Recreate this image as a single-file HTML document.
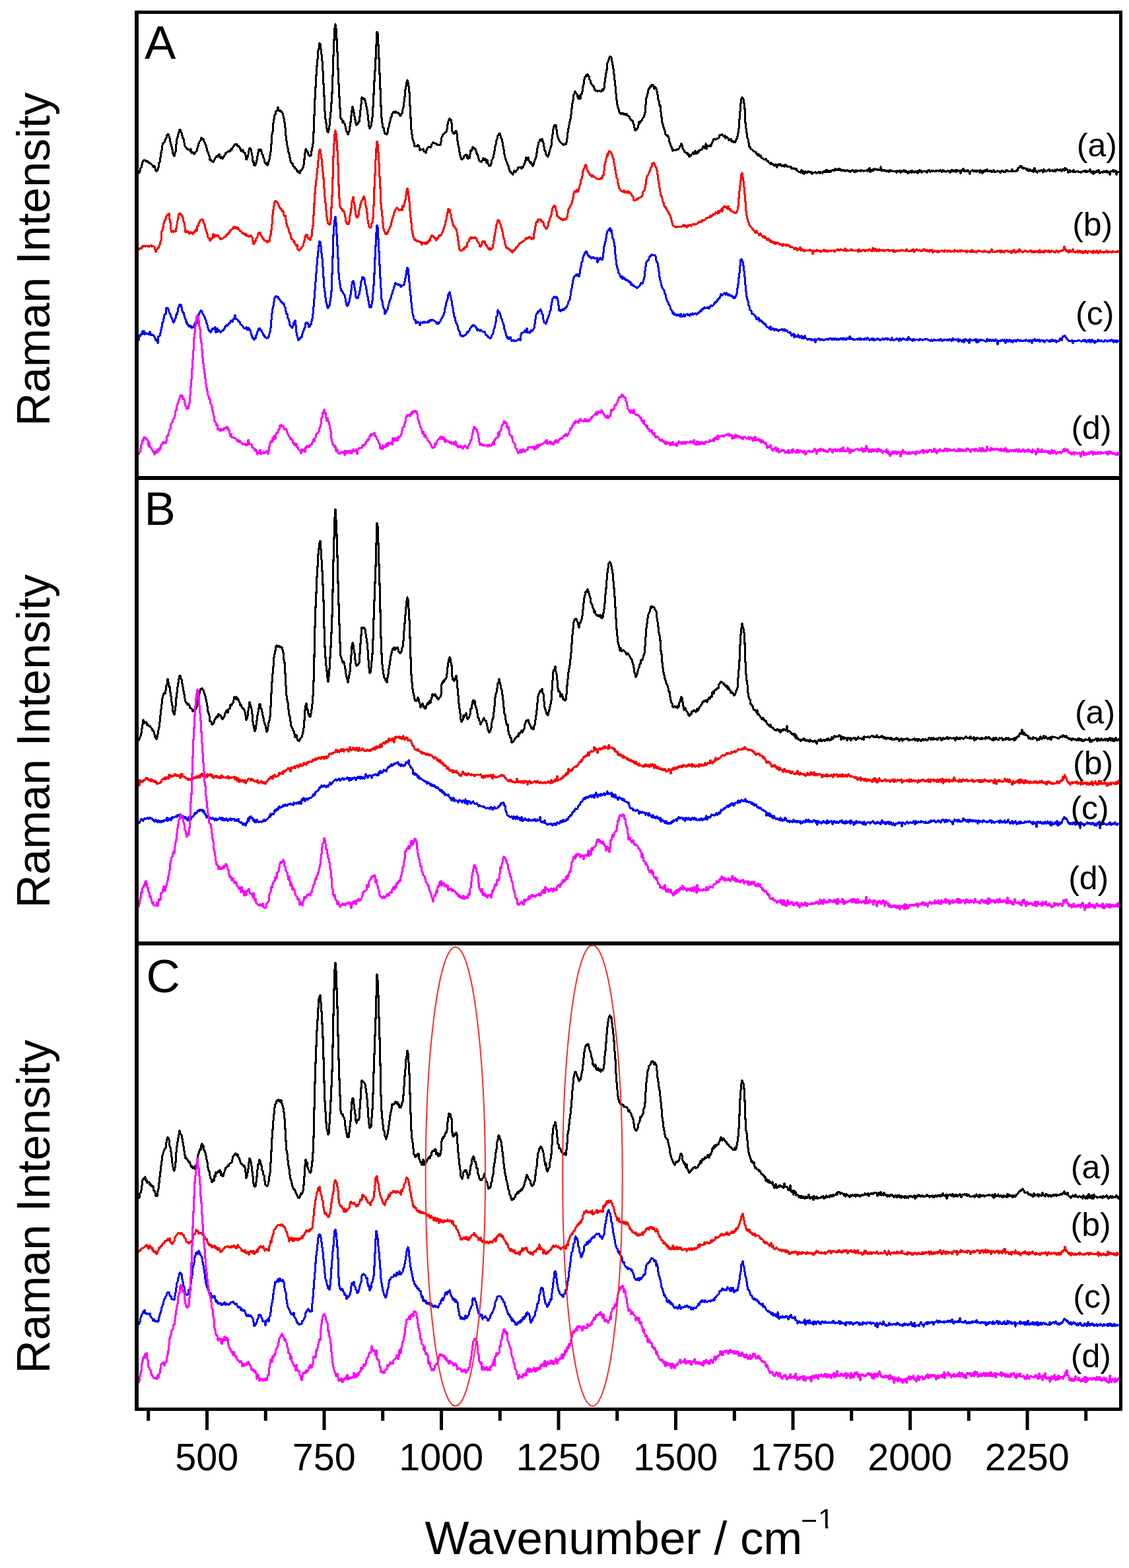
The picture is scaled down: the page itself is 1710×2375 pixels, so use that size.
<!DOCTYPE html>
<html><head><meta charset="utf-8"><title>Raman spectra</title><style>html,body{margin:0;padding:0;background:#fff;}svg{display:block;}</style></head><body>
<svg width="1710" height="2375" viewBox="0 0 1710 2375">
<rect width="1710" height="2375" fill="#fff"/>
<defs><clipPath id="cA"><rect x="210" y="21" width="1485" height="700"/></clipPath><clipPath id="cB"><rect x="210" y="727" width="1485" height="699"/></clipPath><clipPath id="cC"><rect x="210" y="1432" width="1485" height="700"/></clipPath></defs>
<g fill="none" stroke-width="3.1" stroke-linejoin="round" stroke-linecap="butt" shape-rendering="crispEdges">
<path clip-path="url(#cA)" stroke="#000000" d="M210.0 262.9l1 -1.5l1 -2.8l1 -4.1l1 -.6l1 -4.1l1 -4.5l1 -1.5l1 -1.2l1 .2l1 .2l1 1.1l1 -.7l1 1.2l1 .3l1 1.7l1 .2l1 .4l1 .2l1 1.2l1 1.1l1 .5l1 2.5l1 .9l1 -1.8l1 3.1l1 3.6l1 .7l1 -.1l1 -2.9l1 -2.1l1 -7.4l1 -1l1 -6.8l1 -7l1 -4.3l1 -7.6l1 -3.6l1 .3l1 -1.3l1 -2.9l1 -1.8l1 -2.4l1 -3.7l1 -1l1 0l1 2.3l1 3.3l1 5.2l1 4.1l1 4.3l1 3.9l1 6l1 1.8l1 2.1l1 -5.2l1 -2l1 -10.8l1 -7.7l1 -3.4l1 -3.8l1 -3.3l1 -3.6l1 -.4l1 2.8l1 2l1 4l1 3.9l1 .9l1 6l1 5.1l1 1.4l1 .6l1 2.4l1 .2l1 1.2l1 -.5l1 -.3l1 2.4l1 -2.6l1 5.5l1 .3l1 -1.2l1 .7l1 1.9l1 -.7l1 -2.1l1 -.4l1 -1.7l1 -3.5l1 -3.4l1 -3.9l1 -2.4l1 -1.9l1 -.3l1 -4.4l1 1.7l1 .7l1 -.1l1 3.5l1 1.1l1 3.7l1 1.6l1 3.9l1 3.9l1 2.5l1 2.3l1 3.1l1 5.9l1 -.3l1 .8l1 1.9l1 .2l1 1l1 -2l1 -1.9l1 -2.8l1 -.3l1 -2.3l1 1l1 .3l1 -3.4l1 -1l1 3.6l1 2.8l1 -2.4l1 .7l1 2.4l1 -1.8l1 -1l1 -1.9l1 -1.4l1 -2.7l1 -.4l1 -.9l1 -1.1l1 .3l1 -1l1 .5l1 -1.9l1 -1.2l1 1l1 -2.9l1 -1.4l1 -1.1l1 -2.5l1 -.8l1 .5l1 .3l1 -.6l1 3l1 -.3l1 .8l1 1.3l1 1.7l1 3.4l1 -1.5l1 2.4l1 -1.6l1 2.6l1 1.6l1 -.2l1 3.6l1 6.5l1 -.7l1 -3.6l1 -3.3l1 -6.2l1 -3.8l1 .1l1 2.3l1 4.3l1 5l1 9.3l1 -.7l1 6l1 -.1l1 -.3l1 -3.2l1 -4l1 -6.1l1 -5.3l1 -4.9l1 1.7l1 -1.6l1 -.1l1 3.1l1 3.9l1 .9l1 4.3l1 2.2l1 4.6l1 2.2l1 -1.7l1 3.7l1 .5l1 -1.6l1 -3.9l1 -3.4l1 -6l1 -5.3l1 -11.7l1 -15.1l1 -3.7l1 -12.9l1 -6.4l1 -6.4l1 .1l1 -5.3l1 -1.1l1 .1l1 -4.9l1 4.4l1 0l1 .9l1 -.4l1 1.4l1 1.1l1 1.3l1 3.4l1 4.1l1 6.4l1 8.1l1 12.3l1 8.1l1 6l1 4.2l1 6.5l1 3.1l1 4.8l1 5l1 3l1 1.2l1 .1l1 3.8l1 1.1l1 -.4l1 3.5l1 0l1 .9l1 2.4l1 .7l1 1.1l1 -1.6l1 3.2l1 -3.2l1 -2l1 .6l1 -2.8l1 -1.5l1 -4.1l1 -8.3l1 -9.3l1 -6l1 1.9l1 .4l1 1.9l1 3.3l1 2.5l1 .6l1 -.6l1 -.5l1 -6.5l1 -5l1 -6.2l1 -16.6l1 -26.5l1 -24.6l1 -17.5l1 -18.6l1 -13.9l1 -10l1 -13.1l1 -3l1 -8.4l1 1l1 7.7l1 8.6l1 9.9l1 14.7l1 18.9l1 18.5l1 24l1 11.3l1 6.7l1 8l1 4.4l1 1.1l1 -3.2l1 -6.4l1 -11.3l1 -10l1 -13.1l1 -15.2l1 -25.7l1 -30.6l1 -23.9l1 -17.9l1 -6.1l1 6.1l1 16.2l1 19.4l1 25.9l1 22.5l1 20l1 17.1l1 14.6l1 1.2l1 1.8l1 3.5l1 -2l1 3.5l1 .8l1 3.5l1 4.4l1 3.8l1 1.4l1 2.6l1 -2.9l1 -1.3l1 -7.4l1 -6.5l1 -9.1l1 -8.5l1 -6.3l1 4.2l1 5.3l1 5.4l1 5l1 6l1 2.1l1 -1.4l1 -.4l1 -3.1l1 .1l1 -7.7l1 -10l1 -9.1l1 -9.8l1 2.2l1 -1.1l1 2.1l1 -1.4l1 2.6l1 4.3l1 5l1 4.5l1 7l1 9.4l1 9.3l1 3.2l1 -2.6l1 -1.3l1 -6.4l1 -6.9l1 -15.7l1 -19l1 -20.5l1 -15.2l1 -18.3l1 -20.4l1 -20.6l1 2.7l1 17.5l1 19.8l1 22.7l1 23.7l1 26.2l1 18.1l1 8.1l1 6.5l1 .1l1 4.7l1 4.8l1 -.6l1 .9l1 .4l1 -2.8l1 -5.9l1 -2.8l1 -5.4l1 -3.5l1 -4.6l1 -1.8l1 -4.3l1 -1.3l1 -1.3l1 .8l1 -.6l1 -1.2l1 1.7l1 .3l1 -.5l1 .4l1 1.5l1 .2l1 2.9l1 -.3l1 -2.7l1 -.9l1 -5.4l1 -3.3l1 -8.6l1 -7.8l1 -11.1l1 -5l1 -5.6l1 -3.6l1 3.1l1 5.8l1 9.2l1 20.5l1 18.5l1 18.2l1 6.6l1 7.1l1 3.6l1 2.5l1 5l1 -.2l1 .2l1 .4l1 -.1l1 -1.9l1 .8l1 2.5l1 4.4l1 -.6l1 .2l1 -.7l1 .8l1 -1.2l1 3.6l1 -.3l1 .3l1 2.5l1 -4.6l1 -2.2l1 -1.8l1 -.5l1 .2l1 -.7l1 .8l1 -1.6l1 -2.6l1 -1.9l1 -1.2l1 .2l1 .6l1 1.2l1 -.4l1 .3l1 1.8l1 .3l1 -.3l1 .1l1 -.4l1 .5l1 -4.6l1 -7.1l1 -1.7l1 -2.9l1 .6l1 -1.8l1 -1.9l1 .1l1 -1.2l1 -3.6l1 -7.2l1 -4.3l1 -2.9l1 -1.7l1 1.8l1 .4l1 5l1 11.5l1 2.8l1 1.3l1 .2l1 -2.5l1 -1.2l1 -.3l1 4.2l1 10.8l1 6.3l1 4l1 6.5l1 4.8l1 3.6l1 3.3l1 -.6l1 -.7l1 -1.5l1 -2.4l1 -1l1 -1.2l1 .7l1 -.9l1 5.1l1 .9l1 -2.4l1 1.6l1 -6.1l1 -6.1l1 .9l1 -1.4l1 -4.7l1 1.2l1 .7l1 1l1 -.1l1 3.1l1 5l1 -.2l1 3.6l1 3.6l1 3.3l1 .7l1 .5l1 1l1 -1.9l1 -1.2l1 -2.9l1 2.6l1 .6l1 -2.3l1 2.5l1 3.5l1 -3.8l1 5l1 2.3l1 1.6l1 -.5l1 -.5l1 -3l1 -4.8l1 -1.7l1 -2.2l1 -5.1l1 -5.5l1 -6.4l1 -3.7l1 -5.9l1 -2.3l1 -4.5l1 -1.4l1 -1.5l1 -.6l1 3.6l1 4l1 .9l1 5.2l1 5.4l1 5.1l1 7.4l1 4.4l1 3.2l1 2.8l1 2.8l1 2.8l1 1.7l1 4.2l1 2.6l1 2l1 .3l1 1.8l1 .2l1 1.7l1 -2.3l1 -3.1l1 1.2l1 .5l1 -2l1 -.6l1 -1.5l1 -2.7l1 -.5l1 0l1 .5l1 0l1 2.2l1 -3.5l1 1l1 -2.2l1 -2.7l1 -1.3l1 -4.7l1 -3.9l1 4.2l1 -1.7l1 -2.3l1 3.9l1 1.5l1 2.6l1 -.8l1 2.3l1 .7l1 2.2l1 -1.7l1 -4.1l1 -2.3l1 -2.2l1 -2.9l1 -6.1l1 -7.2l1 -4.6l1 -4.1l1 -1.9l1 -2.4l1 0l1 2.1l1 -3.7l1 3.5l1 2.6l1 6.3l1 4.9l1 1.9l1 3.9l1 2.4l1 .8l1 .8l1 -2.6l1 -3.6l1 -3.7l1 -3.8l1 -3.2l1 -9.5l1 -7l1 -8.1l1 -4.4l1 -1.7l1 1.5l1 -1.4l1 6.7l1 7.7l1 3.5l1 3.1l1 1.8l1 2.4l1 .6l1 1.3l1 1l1 .3l1 2l1 -1.1l1 -.1l1 .1l1 -.1l1 -3.5l1 -6.1l1 -8.6l1 -6.3l1 -5.2l1 -4.1l1 -4.8l1 -6.1l1 -9.5l1 -8.4l1 -4.6l1 -7.7l1 -1.7l1 -3.8l1 2.5l1 .5l1 .8l1 4.3l1 3.3l1 -4.8l1 4.1l1 .2l1 -7.2l1 .1l1 -4l1 -6.6l1 -4.3l1 -6.5l1 -4.2l1 -.1l1 -2.9l1 .8l1 -1.6l1 2.3l1 .2l1 4.9l1 1.3l1 3.6l1 2.4l1 1.1l1 2.2l1 0l1 2.7l1 3l1 .2l1 1.2l1 -.7l1 1.4l1 -.9l1 -.4l1 -.2l1 1.3l1 .1l1 0l1 -2.8l1 1.4l1 -1.2l1 -2.3l1 -8.9l1 -6.7l1 -7.9l1 -3.9l1 -10.9l1 -2.1l1 -2.6l1 -3.2l1 -2.1l1 .8l1 1.2l1 5.9l1 4.9l1 6.2l1 7.7l1 9.3l1 8.9l1 11.1l1 10.4l1 6.6l1 4.4l1 2.8l1 4.4l1 1.4l1 1.1l1 -.8l1 .7l1 -.5l1 -.2l1 1.9l1 .2l1 -1l1 2.1l1 -1.9l1 2l1 .2l1 .9l1 .3l1 3.1l1 .8l1 1.9l1 .4l1 .2l1 3.5l1 2.6l1 5l1 3.4l1 .5l1 -1.3l1 -1.3l1 -1.6l1 -4.2l1 -4.6l1 1.9l1 -2.3l1 -1.2l1 -.7l1 -2.4l1 -1.7l1 -.4l1 -3.2l1 -4l1 -11.9l1 -9.9l1 -3.1l1 -4.1l1 -5l1 -3l1 0l1 -2.8l1 .5l1 -2.5l1 1.5l1 -2.1l1 2.1l1 4.6l1 -3.4l1 2l1 .3l1 4.3l1 5l1 7.2l1 3.4l1 6.3l1 -.5l1 10.1l1 7.4l1 8l1 3.6l1 3.8l1 3.4l1 2.5l1 5.4l1 .3l1 .8l1 2l1 -.9l1 3l1 5.7l1 3l1 3l1 1.2l1 3.7l1 2.9l1 -2.1l1 1.2l1 -.5l1 .7l1 -.5l1 -.3l1 -1l1 .6l1 -1.1l1 -1.4l1 -2.4l1 -1.6l1 -2.4l1 2l1 5.2l1 1.5l1 1.4l1 2.3l1 .3l1 .7l1 1l1 -.3l1 3l1 -1.6l1 3.9l1 -1.7l1 1.3l1 -2.4l1 -.7l1 -.8l1 -1.8l1 2.3l1 -1.5l1 -3.2l1 3.7l1 .6l1 -.4l1 -2.9l1 .9l1 -3.3l1 .4l1 -.2l1 -.9l1 -.3l1 -2.2l1 -2.7l1 2.1l1 .8l1 -.1l1 -6.2l1 7.6l1 -4.1l1 -.5l1 .7l1 0l1 -.5l1 -1.6l1 1.6l1 -3.6l1 -1.9l1 -1.6l1 -3.2l1 0l1 -.3l1 1l1 -.5l1 -.2l1 -1.8l1 .2l1 -.3l1 -4l1 -.1l1 -.4l1 -.9l1 0l1 2.4l1 .2l1 .4l1 -.8l1 3.7l1 -1.3l1 -.3l1 .9l1 .5l1 3.2l1 -1.2l1 .6l1 -1.3l1 3.7l1 -1.1l1 .6l1 2.1l1 -1.4l1 1.3l1 -.6l1 -4.2l1 .1l1 -4.4l1 -4.6l1 -7.1l1 -14.2l1 -12.1l1 -12l1 -6.8l1 -2.1l1 1.6l1 .7l1 6l1 8.6l1 21.4l1 8.6l1 6.4l1 7.1l1 2.9l1 5.7l1 5.9l1 .2l1 3.1l1 .1l1 .2l1 1.4l1 1.2l1 .3l1 .5l1 .9l1 .2l1 2.4l1 1.1l1 1.1l1 -1.8l1 3.3l1 -.1l1 -.8l1 2.2l1 1.3l1 .3l1 .8l1 .9l1 .5l1 -.3l1 -1.3l1 1.9l1 1.8l1 -.2l1 1.8l1 .8l1 -.2l1 2.4l1 -2.3l1 2.6l1 -.8l1 .3l1 1.8l1 -.8l1 1.6l1 -2l1 1.2l1 3l1 -3.3l1 -.1l1 -.8l1 1.8l1 -1.9l1 .3l1 1.9l1 0l1 -.3l1 -.2l1 2.1l1 -3.4l1 .7l1 0l1 2.1l1 -.4l1 1.1l1 .2l1 -.8l1 -.2l1 .2l1 3.7l1 -.7l1 .1l1 -.4l1 .6l1 .4l1 .6l1 -1.4l1 3l1 .4l1 1.2l1 .3l1 .9l1 -.8l1 .9l1 -3.3l1 1.5l1 2.9l1 -2.9l1 4.2l1 -2.2l1 -1.6l1 1.7l1 -.3l1 .9l1 -2.5l1 -.2l1 1.7l1 -.2l1 .7l1 -1.3l1 3.7l1 -2.6l1 0l1 .5l1 -.7l1 -.4l1 .7l1 .8l1 -.3l1 .2l1 -1.5l1 -.3l1 2.7l1 -2.3l1 .7l1 .2l1 .6l1 -2.8l1 .8l1 -.1l1 .1l1 -2.2l1 2.2l1 -2.9l1 3.1l1 .1l1 0l1 -1.9l1 2l1 -1.9l1 -.6l1 0l1 -.2l1 .7l1 .3l1 -3.3l1 1.2l1 1.2l1 -1l1 .2l1 -2l1 2.5l1 -2.5l1 1.9l1 1.3l1 .7l1 -1.2l1 .6l1 -1.3l1 .4l1 1.8l1 -.9l1 0l1 -1.1l1 1.7l1 .5l1 -1.4l1 .3l1 2.1l1 -1.4l1 -.5l1 -.8l1 .5l1 .4l1 1.6l1 -2l1 2.4l1 -2.7l1 .6l1 1.2l1 -1.1l1 -.6l1 .7l1 .6l1 -2.2l1 1.5l1 .1l1 -.4l1 1.1l1 -1.4l1 .1l1 .3l1 .5l1 -1l1 1.5l1 -2.5l1 2l1 -4.3l1 6.3l1 -3.4l1 1.6l1 -1.3l1 -1.5l1 1.7l1 -1.6l1 -.7l1 1.2l1 -.3l1 .9l1 -1.5l1 1l1 .4l1 -.2l1 -.2l1 -4.2l1 5.5l1 -.6l1 .5l1 -.7l1 .5l1 -.9l1 1.2l1 .8l1 -.6l1 .8l1 -.5l1 1.2l1 -1.5l1 -1.4l1 2.2l1 -.6l1 -.7l1 1.7l1 -.3l1 .2l1 -.7l1 .6l1 .1l1 1.6l1 -2.4l1 .7l1 .4l1 -2l1 .2l1 3.8l1 -3.9l1 2.4l1 -1.4l1 .1l1 -1.2l1 1.1l1 1.7l1 -2.1l1 1.9l1 -.2l1 1.7l1 -2.5l1 1.7l1 -.4l1 -1.1l1 -1.4l1 3.1l1 -2.8l1 .8l1 1.4l1 .2l1 -2l1 .8l1 -.2l1 1.4l1 1.3l1 -4.3l1 2.7l1 -3.8l1 2.9l1 -1.2l1 3.1l1 -1.8l1 -1l1 .2l1 -.1l1 .8l1 -.4l1 .8l1 .9l1 -2.8l1 0l1 -.5l1 .9l1 1.8l1 -1.5l1 -.3l1 .8l1 -1.6l1 .2l1 1.7l1 -.9l1 -.2l1 .8l1 -.9l1 -.2l1 .2l1 1.1l1 -.6l1 -1.3l1 .9l1 .9l1 1.2l1 -3l1 1.4l1 -.6l1 1.1l1 -.4l1 1l1 -1l1 -1.1l1 0l1 1l1 -.1l1 2l1 -.7l1 -2.9l1 1.5l1 -1.7l1 2.1l1 0l1 -.2l1 -1.6l1 2.7l1 -2.6l1 -.2l1 1.8l1 -.4l1 -.4l1 .1l1 3.5l1 -3.6l1 0l1 -1.8l1 -1.5l1 4.1l1 -1.3l1 1.2l1 .7l1 -1.6l1 .7l1 -1.8l1 2.2l1 1.1l1 2.5l1 -3.5l1 -.9l1 -.7l1 -.3l1 1.6l1 0l1 -.6l1 1l1 -1.4l1 1.7l1 -1.1l1 0l1 0l1 -.1l1 2.6l1 -4.1l1 1.8l1 1.1l1 2.6l1 -4.1l1 2.1l1 -2.8l1 -.3l1 1.9l1 -2l1 -.9l1 3.3l1 -.1l1 -.1l1 -1.2l1 .7l1 -1.1l1 2.7l1 -1l1 0l1 -2.7l1 2.8l1 .7l1 -.3l1 -.4l1 -.8l1 -.3l1 .9l1 -.2l1 -.1l1 2.1l1 -.6l1 -2.9l1 1.2l1 -.6l1 1.6l1 .4l1 -.1l1 -.5l1 -2.2l1 0l1 2l1 -.7l1 .2l1 -.4l1 .8l1 -.1l1 -.7l1 -2.2l1 2.5l1 .5l1 .1l1 -.9l1 .3l1 0l1 -2.1l1 1.3l1 -4.2l1 0l1 -.3l1 -2.1l1 1l1 -1.5l1 3.4l1 -1l1 1.9l1 -1.2l1 -.3l1 1.2l1 .1l1 1.5l1 -1.7l1 3l1 -1l1 1.7l1 -2.1l1 1.3l1 .6l1 .8l1 -2.1l1 2.9l1 -1.2l1 -4.5l1 5.2l1 -1.1l1 1.1l1 1.1l1 -1.5l1 -1.3l1 .1l1 1l1 -.3l1 -1.1l1 .1l1 1.4l1 1.6l1 -4.9l1 3.3l1 -.9l1 1l1 0l1 -.8l1 -1.1l1 -.3l1 -.5l1 3.1l1 -1.5l1 -.3l1 .2l1 -1l1 1.6l1 1l1 -.2l1 -2.7l1 2.9l1 -2.1l1 -1.2l1 .7l1 .2l1 .9l1 -1l1 -.5l1 1.1l1 1.8l1 -3.1l1 .7l1 -.8l1 2.3l1 -4.6l1 3.2l1 -2l1 1.2l1 1l1 3.8l1 -3.4l1 -.6l1 3.5l1 -1.9l1 .7l1 .2l1 .1l1 -2.6l1 2.8l1 .1l1 .5l1 -1.3l1 -.3l1 -.3l1 1.7l1 -.6l1 .6l1 0l1 1.1l1 -1.4l1 .5l1 -1.9l1 .1l1 .8l1 -.9l1 1.9l1 -2l1 1.4l1 -.2l1 -1l1 .8l1 .1l1 -3.7l1 4l1 .9l1 -.3l1 -1.3l1 3.8l1 -4.3l1 1.8l1 .8l1 -2l1 -1.1l1 1.9l1 .5l1 -3.4l1 2.8l1 2l1 -1.3l1 -.3l1 -.1l1 .7l1 -2l1 .1l1 1.2l1 -1.1l1 1l1 -2.2l1 2.7l1 -1.7l1 1l1 .1l1 3.8l1 -5.1l1 .2l1 -.2l1 .7l1 -2.2l1 2.7l1 -.7l1 -.8l1 -.1l1 5.9l1 -4.5l1 -.1l1 .2l1 -.1"/>
<path clip-path="url(#cA)" stroke="#ff0000" d="M210.0 378.5l1 -1.6l1 -.9l1 -.1l1 .3l1 -1.4l1 -1.9l1 .6l1 -.5l1 -.8l1 1.4l1 -1.2l1 0l1 -.4l1 1.1l1 -.5l1 .6l1 -1l1 .6l1 -.9l1 1.6l1 -.6l1 .1l1 .3l1 1l1 4.6l1 3l1 -3.5l1 -1.1l1 -1.5l1 0l1 -3l1 -1.8l1 -4.7l1 -2.9l1 -13.3l1 -1.9l1 -3.4l1 -6.1l1 -3.2l1 -2.7l1 -.9l1 -4l1 -1.9l1 -.7l1 .7l1 -2.7l1 9.3l1 5.2l1 10.2l1 3.6l1 -2.2l1 1.2l1 .6l1 -1.4l1 .3l1 .4l1 -4.9l1 -5.5l1 -6.1l1 -4.2l1 -5l1 -1.8l1 .4l1 1.9l1 .4l1 2l1 1.9l1 6.1l1 2.1l1 6.1l1 7.4l1 -1.5l1 1.8l1 -.1l1 -.6l1 .7l1 2.7l1 -1l1 -1.9l1 1.6l1 -.2l1 1.5l1 -3l1 1.1l1 -.9l1 -2.8l1 -1.4l1 2.4l1 -7.6l1 .1l1 -4l1 -1.3l1 -2.8l1 -.9l1 -.7l1 -.5l1 .9l1 2.4l1 2.9l1 2.6l1 4.3l1 3.3l1 3.4l1 3l1 4.8l1 .7l1 1.2l1 2.8l1 -2.8l1 1.3l1 -2.4l1 .3l1 -6.3l1 4.9l1 -1.8l1 -1.5l1 1.9l1 -1l1 -.4l1 .1l1 1.8l1 1.2l1 2l1 1.1l1 -.8l1 .1l1 -.3l1 -1.5l1 -.2l1 -.6l1 -.4l1 -.7l1 -3l1 .2l1 -1.9l1 1.3l1 -2.9l1 -.6l1 -2.5l1 -.9l1 -.2l1 -1.5l1 -.2l1 -2.4l1 1.5l1 -1.7l1 2.4l1 -1.5l1 1.8l1 -1.4l1 2.6l1 -.1l1 1.4l1 1.4l1 .5l1 1.3l1 1.3l1 .7l1 .2l1 -.3l1 1.2l1 1.2l1 -1.3l1 2.9l1 -.8l1 .1l1 1.2l1 -.2l1 -.3l1 -1l1 1.4l1 1.6l1 4.6l1 5.6l1 -.9l1 -3.6l1 -.2l1 -3.8l1 -.5l1 -2.9l1 -4l1 -1.5l1 0l1 0l1 3.1l1 1.4l1 1.6l1 3.1l1 -.6l1 2.8l1 .9l1 -.6l1 -.1l1 1.4l1 1.4l1 -1.5l1 -1.1l1 1.1l1 -6.7l1 -3.1l1 -6.8l1 -8.9l1 -14.2l1 -8.3l1 -5.6l1 -5.2l1 -2.6l1 .4l1 1.9l1 .4l1 2l1 1.9l1 3l1 1.2l1 1.2l1 0l1 3.1l1 1.5l1 -.8l1 5.6l1 1.6l1 -.7l1 6l1 6.4l1 3.8l1 2.4l1 1.7l1 5.3l1 .9l1 2.5l1 5.2l1 1.4l1 .9l1 .7l1 2.9l1 -.6l1 4.2l1 1.3l1 1.4l1 -2.4l1 7.2l1 .7l1 .8l1 -1.8l1 .7l1 -1.7l1 -2.2l1 -.7l1 -1.2l1 -4.2l1 -3.3l1 -5.5l1 -2.3l1 -1.4l1 .2l1 4.3l1 1.1l1 .3l1 1.3l1 .6l1 -3.4l1 -2.4l1 -9.5l1 -5.5l1 -16.5l1 -17.4l1 -15.4l1 -11.2l1 -9.2l1 -9l1 -9.3l1 -11.3l1 -9.5l1 -6.8l1 -.1l1 6.3l1 6.9l1 11.5l1 8.7l1 9.6l1 15.3l1 13.8l1 8.8l1 11.1l1 9.5l1 6.2l1 4.2l1 .2l1 1.4l1 -1.1l1 -6.5l1 -18.1l1 -17.5l1 -27.5l1 -32.3l1 -18.8l1 -14.6l1 -6l1 4.2l1 11.1l1 14.1l1 20.7l1 32.3l1 20.5l1 11.3l1 2.3l1 1.8l1 0l1 2.9l1 -.1l1 1.1l1 3.9l1 4.9l1 6.4l1 1.8l1 2.9l1 -.2l1 -.9l1 -3.4l1 -9.3l1 -3.9l1 -6.8l1 -9l1 -4.2l1 -4.3l1 8.5l1 4.2l1 7.5l1 6.9l1 3.6l1 .4l1 -.9l1 -3l1 -6.1l1 -4.6l1 -5l1 -2.7l1 -3.3l1 -.8l1 -3.1l1 -1.8l1 2.1l1 4l1 7.8l1 3.9l1 7.3l1 10l1 5.3l1 5.4l1 1.3l1 .1l1 -1.2l1 -5.3l1 -2.1l1 -6.2l1 -18.7l1 -26.7l1 -20.3l1 -22.3l1 -17.3l1 -10.2l1 3.9l1 11.7l1 17.4l1 20.1l1 16.4l1 24.1l1 10.5l1 8.9l1 9.8l1 8.8l1 3.8l1 1.5l1 2.8l1 -.1l1 .2l1 -2.6l1 -1.1l1 -3.3l1 -1.4l1 -2.3l1 -2l1 -5.3l1 -4l1 -2.9l1 -2.8l1 -4.6l1 -2.5l1 -2.7l1 -.5l1 -1.7l1 1l1 .4l1 1.1l1 1.7l1 -.5l1 -.9l1 -1.1l1 2l1 -6.9l1 2.2l1 -3.6l1 -3.7l1 -4l1 -7l1 -6.4l1 -4.1l1 4l1 8.2l1 8.5l1 14.2l1 9.3l1 7.8l1 11.2l1 5.5l1 4.6l1 2.3l1 2.8l1 -1.4l1 2.4l1 .7l1 -.3l1 .8l1 -.5l1 .7l1 1.1l1 .5l1 -.8l1 3.7l1 -3.1l1 .8l1 -.1l1 -.1l1 1.6l1 -1.5l1 1.6l1 -.7l1 -3.1l1 .5l1 -3.1l1 1.4l1 -4.4l1 -1.7l1 -1.7l1 .4l1 1.1l1 .7l1 1.1l1 1.5l1 1.1l1 1.4l1 -3.2l1 .4l1 -1.2l1 -3.2l1 .6l1 -.9l1 .1l1 -2.6l1 -2.6l1 -1.6l1 -3.2l1 -3.5l1 -2.6l1 -4.9l1 -3.5l1 -5.4l1 -5.6l1 -4.4l1 4.4l1 -4l1 6l1 1.7l1 6.8l1 3.9l1 4.3l1 2.6l1 0l1 1.9l1 1.7l1 1.7l1 3.2l1 6.1l1 7.4l1 7.2l1 5.6l1 2.1l1 .2l1 -.1l1 .5l1 -1.7l1 -1.7l1 .7l1 -2.4l1 -1.1l1 -.7l1 1l1 -6.2l1 -1.1l1 -1.2l1 -2.8l1 -2.2l1 -.8l1 1.5l1 -1.6l1 1l1 .1l1 -1.1l1 .8l1 -.5l1 1l1 1.1l1 3.8l1 .9l1 1.9l1 1.3l1 3.9l1 -.3l1 -1.4l1 -3l1 -3.6l1 .4l1 .4l1 -.5l1 3.8l1 1.5l1 .4l1 2.2l1 1.7l1 1.7l1 .3l1 -1.5l1 2.5l1 -1.7l1 0l1 -1.2l1 -5.4l1 -5.9l1 -6.3l1 -5.2l1 -6.3l1 -5.7l1 -3.7l1 -3.2l1 .2l1 0l1 4.1l1 1.7l1 3.3l1 3.4l1 4.2l1 6.1l1 3.6l1 3.5l1 5.8l1 2.7l1 2.8l1 0l1 1l1 1l1 .7l1 -.5l1 1.6l1 .9l1 1.4l1 .9l1 -2.5l1 .2l1 -1.1l1 -.3l1 -2.2l1 -1.9l1 .1l1 -.8l1 -2.7l1 -.3l1 -2.4l1 .3l1 -1.3l1 -.1l1 -1.1l1 -.4l1 -.7l1 -.4l1 -1.1l1 -1.6l1 -1.5l1 1.6l1 -.4l1 -2l1 .9l1 -1.6l1 .3l1 1.6l1 2l1 -2l1 .3l1 .3l1 -8.1l1 -4l1 -6.5l1 -5.3l1 -1.7l1 1l1 -4.3l1 0l1 -.2l1 -.2l1 0l1 3.7l1 .1l1 -.4l1 2.3l1 3.3l1 2.6l1 .8l1 2.5l1 -.1l1 -2l1 -3.4l1 -5.9l1 -.6l1 -4.7l1 -1.9l1 -2.7l1 -6.4l1 -4.3l1 -.8l1 -2.6l1 -.5l1 1.3l1 5.9l1 2.2l1 6.9l1 .1l1 .6l1 2l1 .2l1 0l1 2l1 -.7l1 1.5l1 .5l1 -1.5l1 -.4l1 .5l1 .2l1 -1.4l1 -2.1l1 -5.8l1 -5.3l1 -1.8l1 -2.9l1 -1.3l1 -1.3l1 -3.1l1 -3.4l1 -4.7l1 -5.4l1 -3.7l1 -1.1l1 1.9l1 -1l1 -2.1l1 2.7l1 -1.9l1 -3l1 -4.6l1 -2.8l1 -6.1l1 -2l1 -3.4l1 -6.9l1 -3.4l1 -2.4l1 -2.3l1 -2.5l1 2.2l1 4.5l1 2.1l1 2.4l1 2.5l1 .4l1 2.1l1 -.6l1 3.1l1 -.4l1 -2.1l1 1.4l1 .9l1 1l1 .5l1 1.3l1 .3l1 -.6l1 1.4l1 0l1 -.3l1 -.2l1 -1.3l1 .9l1 -.9l1 -4.6l1 .1l1 -6.3l1 -9.2l1 -3.9l1 -4.9l1 -3.5l1 -3.7l1 1.2l1 -4.3l1 -1.8l1 .7l1 .6l1 2.4l1 1.8l1 3.5l1 2.5l1 5.6l1 5.8l1 5.3l1 6.4l1 6.1l1 .6l1 7l1 4.2l1 3.9l1 1.5l1 2l1 .3l1 .2l1 .7l1 0l1 -1.3l1 3.2l1 -1l1 -.5l1 1.3l1 -.8l1 -1.3l1 2.8l1 -2.2l1 1.4l1 .5l1 2l1 1.7l1 1.2l1 1.4l1 5.5l1 -.9l1 .7l1 -1.3l1 -1.3l1 1.1l1 -1.7l1 -.6l1 -.4l1 .1l1 -1l1 -.4l1 -.9l1 -2.2l1 -4.3l1 -1.4l1 -.7l1 -4.4l1 -4.6l1 -8.5l1 -4.1l1 -1.4l1 -1.7l1 -2.9l1 -1.2l1 -3.7l1 -2.8l1 -1l1 -5.1l1 .2l1 -.9l1 1.1l1 2.3l1 2.8l1 1l1 4.8l1 5.9l1 8l1 5l1 6.8l1 5.5l1 5.7l1 1.5l1 3.8l1 5.2l1 .6l1 4.9l1 1.5l1 .8l1 2.4l1 .7l1 2.2l1 1.4l1 2.6l1 .8l1 2.9l1 2.5l1 3.7l1 4.1l1 3.4l1 1.4l1 .5l1 1.1l1 .2l1 .4l1 -.5l1 -.7l1 .6l1 -.3l1 -.3l1 .3l1 .5l1 -.7l1 -.1l1 -1.4l1 .9l1 -1.7l1 2.2l1 -1.6l1 1.9l1 1.4l1 -3.2l1 1.4l1 -1l1 -1l1 -.4l1 1.1l1 .5l1 -1.2l1 -1.9l1 .2l1 .5l1 1.1l1 -1.3l1 -.2l1 .4l1 -1.6l1 -.2l1 -.5l1 -1.9l1 1.5l1 -.6l1 -.1l1 -2.6l1 -.3l1 1l1 -1.2l1 .3l1 -.7l1 -1.5l1 -1.3l1 .4l1 -1.1l1 .5l1 0l1 -.8l1 -2.7l1 1.9l1 -1l1 -1.9l1 -.4l1 .2l1 -.1l1 -1.5l1 -1.7l1 1.1l1 -.7l1 1.4l1 -4.1l1 2.6l1 -1.5l1 -2.2l1 .3l1 -2.2l1 3.7l1 -5.9l1 .1l1 -1.4l1 -.7l1 1.2l1 -.1l1 1.6l1 1.2l1 -3.8l1 4l1 .8l1 -.9l1 2.8l1 .7l1 1l1 -.2l1 -.2l1 1.9l1 .3l1 .4l1 -1.1l1 -1.1l1 -2.7l1 -5.1l1 -12.8l1 -10.6l1 -8.9l1 -7.8l1 -8.7l1 -2.2l1 6.8l1 5.4l1 8.9l1 11.2l1 10.9l1 14.4l1 6.9l1 5l1 4.3l1 2l1 3.1l1 1l1 1.2l1 1.4l1 1.4l1 1.7l1 -.1l1 1.7l1 1.3l1 2.5l1 -.6l1 -2.7l1 2.9l1 .7l1 1.2l1 1.7l1 -.2l1 -2.2l1 2.8l1 .4l1 .8l1 1.4l1 -1.7l1 2.6l1 -1.8l1 2.1l1 1l1 2.3l1 -2l1 -.3l1 2.8l1 -.6l1 2.6l1 -1.5l1 .4l1 2.4l1 -.6l1 1.2l1 -1.9l1 3.1l1 -1.8l1 1.5l1 -1.5l1 -.3l1 1.4l1 .5l1 1.4l1 -.9l1 .5l1 .1l1 2.3l1 -3.3l1 2l1 -1l1 .6l1 -.4l1 1.8l1 -1.8l1 .2l1 1.4l1 -.4l1 2l1 .6l1 -1.1l1 1.8l1 -.8l1 .9l1 .4l1 2.1l1 -1.4l1 -.5l1 .3l1 2.2l1 1.3l1 -2.4l1 .3l1 -1.7l1 -1.5l1 5l1 -.5l1 -.9l1 1.6l1 0l1 1.6l1 -2.4l1 .5l1 .5l1 0l1 .3l1 0l1 -.5l1 -.7l1 1l1 -.7l1 .4l1 .5l1 4.7l1 -3.4l1 -1.7l1 1.2l1 .4l1 -.8l1 -1.4l1 -.5l1 2.6l1 .1l1 -.6l1 -1.2l1 2.2l1 -.3l1 -1.1l1 -.2l1 -1.6l1 2.4l1 -2.2l1 2l1 0l1 -.6l1 1.3l1 -1.7l1 .8l1 .1l1 -.5l1 -.6l1 1.4l1 -.8l1 -.5l1 0l1 .2l1 1.9l1 -2l1 -.3l1 -.8l1 -.1l1 -.6l1 1.9l1 -.2l1 -.9l1 -.5l1 1.1l1 -.2l1 -.7l1 1.4l1 -.1l1 -.2l1 -2.3l1 1.8l1 1.8l1 -2.1l1 1.3l1 .2l1 -.8l1 .5l1 -1.5l1 -.2l1 1.2l1 -.5l1 1.2l1 -.5l1 .6l1 -.3l1 -.1l1 -.1l1 -.4l1 -.1l1 2.3l1 -3.5l1 1.5l1 1l1 -.5l1 .9l1 -.8l1 -1.6l1 .8l1 -.9l1 2.1l1 .5l1 -1.7l1 .9l1 -.9l1 -.9l1 .9l1 -1l1 .9l1 .7l1 .4l1 .6l1 -4.9l1 3.9l1 .2l1 .1l1 -3l1 1.8l1 1.4l1 -1.7l1 1.3l1 .5l1 -2.5l1 1.6l1 .4l1 -.2l1 -1.4l1 1.7l1 -.8l1 1.2l1 -.3l1 -.9l1 .7l1 -.8l1 0l1 -.8l1 1.2l1 .9l1 -.6l1 -.1l1 -.5l1 .1l1 1.1l1 -2l1 3.2l1 -1.9l1 2l1 -.9l1 -1.4l1 1l1 -.4l1 .2l1 .3l1 -1.2l1 -.1l1 .2l1 -.8l1 1l1 .4l1 0l1 0l1 -.5l1 1l1 -2.5l1 1.5l1 .1l1 1.1l1 -.2l1 .1l1 -.7l1 .8l1 -1.7l1 1l1 -2l1 3.4l1 -.1l1 -1.9l1 -.3l1 -1.1l1 .5l1 1.5l1 -.2l1 -1.2l1 .9l1 -.1l1 1l1 .2l1 -.8l1 .3l1 -2l1 0l1 2.1l1 -.2l1 .7l1 -2.3l1 2.3l1 -1.2l1 .8l1 .9l1 -2.4l1 .1l1 2.1l1 -1.9l1 3.9l1 -2.3l1 -.7l1 .9l1 -.4l1 -.3l1 .9l1 1.1l1 -2l1 1.4l1 -.3l1 -.9l1 .3l1 -1.2l1 .3l1 .8l1 -.3l1 1.2l1 -2.3l1 .9l1 -.3l1 .5l1 1.2l1 -2.1l1 1.8l1 -1.2l1 .2l1 1.2l1 -1.1l1 .8l1 -.4l1 -.3l1 1.7l1 -3.1l1 .9l1 .9l1 0l1 -1.5l1 2.3l1 -.4l1 -1.7l1 .3l1 1.4l1 -2l1 .9l1 .6l1 0l1 0l1 .5l1 -1.1l1 .3l1 2.3l1 -3.1l1 .9l1 .5l1 -.7l1 1.7l1 -1l1 .6l1 -3l1 3.4l1 0l1 -1.7l1 1.9l1 -1l1 .6l1 .8l1 -1.5l1 -1l1 .9l1 -1.1l1 .4l1 .1l1 0l1 1.7l1 -.3l1 -1.5l1 1.8l1 -2.5l1 .9l1 .5l1 1.2l1 -.4l1 -.3l1 .8l1 -.5l1 .6l1 -2l1 -.8l1 -1.6l1 3.9l1 -.5l1 .5l1 -.1l1 -.2l1 .3l1 -1.4l1 1.6l1 -1.9l1 .8l1 -1.1l1 1.7l1 -1.9l1 2.7l1 -2.5l1 1.5l1 -.4l1 -.6l1 1.9l1 -1.5l1 -.7l1 .1l1 .2l1 -1.1l1 2.3l1 .4l1 -.7l1 -.3l1 -.7l1 3l1 -1.5l1 -2.3l1 1.4l1 -2.1l1 3.8l1 .3l1 -.4l1 -1.4l1 -.5l1 -.7l1 1.7l1 -4.2l1 3.4l1 -.2l1 .3l1 1.1l1 .7l1 -1.4l1 -.1l1 -1.1l1 -.1l1 .2l1 1.7l1 -.5l1 .6l1 -.5l1 -.7l1 -.8l1 .8l1 -.9l1 3.1l1 -1.6l1 -.6l1 2.2l1 -2.2l1 .9l1 -.7l1 .5l1 -.7l1 .8l1 .8l1 -2.4l1 -.9l1 3.3l1 -1.1l1 .7l1 -1.1l1 1.7l1 .2l1 -2.7l1 1.7l1 -1.2l1 -.9l1 1.2l1 .8l1 -1.8l1 .1l1 2.3l1 -1.1l1 .3l1 -1.4l1 .4l1 .7l1 .1l1 0l1 1.3l1 -1.3l1 -1.6l1 .6l1 .8l1 1.2l1 -1.8l1 .3l1 .3l1 -.9l1 -.8l1 -.3l1 .3l1 -1.1l1 -4.9l1 4.8l1 -.8l1 3l1 .7l1 .3l1 -1.5l1 3.3l1 -4.5l1 1.8l1 .1l1 1.5l1 -2l1 -2.3l1 3.5l1 -.1l1 1l1 .5l1 -.9l1 -.6l1 -1.8l1 3.4l1 -1.6l1 -1.4l1 1.8l1 1.2l1 -1.4l1 -1l1 3.2l1 -1.5l1 -.3l1 .7l1 -2.9l1 1.9l1 -.1l1 2.2l1 -2.6l1 0l1 -.7l1 .5l1 .6l1 .4l1 -.4l1 2l1 -3.5l1 2.3l1 .6l1 -.6l1 -1.1l1 -.9l1 1.7l1 2.3l1 -1.4l1 -1.9l1 -1.3l1 2l1 1l1 -1.2l1 .4l1 -.1l1 1.5l1 -1.3l1 -.3l1 -.6l1 -.9l1 2.8l1 -.2l1 -2l1 1.5l1 -.3l1 -.6l1 0l1 1l1 -1.8l1 .6l1 .4l1 .1l1 -.2l1 .4l1 .3l1 -1.3l1 .9l1 -.6l1 1.9"/>
<path clip-path="url(#cA)" stroke="#0000ff" d="M210.0 515.7l1 -6.8l1 .7l1 -2.9l1 -1.5l1 1.1l1 -4.9l1 1.2l1 -.8l1 4.6l1 -2.3l1 .4l1 1l1 .2l1 -.4l1 .7l1 .9l1 -4.3l1 4.8l1 -1.2l1 .2l1 1.6l1 -.3l1 .3l1 2.1l1 2.5l1 3.1l1 -.9l1 .6l1 3.9l1 -10.3l1 .9l1 -1.7l1 -3.9l1 -4.7l1 -3.9l1 -7.6l1 .1l1 -6l1 -4.8l1 -2l1 .4l1 -9.5l1 -.1l1 .8l1 1.2l1 3.8l1 2.3l1 2.2l1 3.5l1 1.7l1 2.3l1 3.8l1 .8l1 -1.9l1 -2.9l1 -2l1 -5.9l1 .3l1 -3.7l1 -6l1 -1.6l1 -3.2l1 1.5l1 -1.4l1 3.5l1 4.8l1 3.7l1 -.3l1 4.2l1 3.5l1 1.9l1 5l1 -.2l1 3.7l1 .1l1 3.3l1 -.9l1 .1l1 -1l1 3.7l1 -.9l1 -.1l1 -.5l1 -2.1l1 -2.6l1 -2l1 -1.7l1 2.7l1 -8.2l1 -2.2l1 -2.7l1 -2l1 -1.6l1 -2.7l1 -.3l1 2.7l1 2.7l1 1.4l1 1.6l1 1.9l1 2.9l1 1.9l1 4.4l1 2.4l1 4.8l1 2.8l1 1.9l1 -.4l1 2.1l1 -1.4l1 -3.3l1 -1.1l1 1.3l1 -.7l1 .9l1 -3l1 7.4l1 -3.5l1 -1.8l1 4.4l1 -2.4l1 1.5l1 1l1 1.4l1 -2.5l1 .4l1 -1.5l1 .7l1 -2.2l1 -.6l1 -3.6l1 -.3l1 -1.8l1 1.3l1 -1.7l1 -.2l1 -2.7l1 0l1 -2.1l1 -1.2l1 .5l1 1.2l1 -3.5l1 -.9l1 -1.2l1 -4.1l1 5.3l1 .3l1 -.2l1 1.5l1 1.3l1 1.6l1 0l1 2.6l1 1.8l1 .3l1 1.5l1 .8l1 1.4l1 1.9l1 -.9l1 .6l1 -2.2l1 3.3l1 1.2l1 -3.6l1 3.3l1 -.9l1 2.1l1 3.2l1 3.2l1 3l1 1.9l1 -.2l1 2.4l1 -.7l1 -1.3l1 -4.5l1 -.8l1 -4.5l1 -1.5l1 -3.7l1 -.3l1 1.4l1 2l1 .4l1 2.7l1 1.1l1 3.2l1 -.6l1 3.4l1 -.2l1 .8l1 .9l1 -.8l1 0l1 -1.5l1 -3.8l1 -3.1l1 -6.3l1 -12.1l1 -10.3l1 -7.1l1 -3.3l1 -6.2l1 -6.7l1 -.5l1 -1.9l1 1.4l1 -.5l1 .3l1 2.5l1 .6l1 1.8l1 1.6l1 1l1 1l1 .4l1 1.9l1 -.5l1 4l1 1.8l1 5.7l1 3.8l1 .4l1 5.4l1 2.8l1 2.5l1 5.1l1 2.2l1 .9l1 2.3l1 -1l1 -2.5l1 -4.8l1 -1.3l1 -2l1 6.8l1 11.6l1 5.1l1 2.7l1 4.2l1 -.9l1 -1.7l1 -1.1l1 -1.2l1 -.1l1 -5.2l1 -2.6l1 -2.3l1 -3.5l1 -1.7l1 -6.4l1 -.3l1 .1l1 1.9l1 .2l1 4.7l1 -.7l1 -3.1l1 -.4l1 -4.5l1 -4.5l1 -6.9l1 -11l1 -12.1l1 -12.7l1 -13.3l1 -12.5l1 -12.6l1 -11.1l1 -9.9l1 -8.6l1 -6.2l1 .6l1 7.4l1 10.3l1 7.6l1 13.1l1 15.7l1 15.5l1 5.5l1 9.1l1 7l1 3l1 5.8l1 .4l1 -1.9l1 -2l1 -6l1 -5.6l1 -9.6l1 -26.1l1 -25.7l1 -33.6l1 -13.9l1 -8.3l1 -5.3l1 9.2l1 16.7l1 17.7l1 18.5l1 22.9l1 10.4l1 6.6l1 5.7l1 3.9l1 .2l1 2.6l1 1.9l1 .6l1 2.3l1 4.2l1 5.7l1 4.4l1 1.1l1 -.3l1 -3.5l1 -3l1 -5.1l1 -4.3l1 -7.7l1 -8.2l1 -4.4l1 -1.1l1 3.3l1 6.8l1 5.1l1 8.7l1 2l1 -.1l1 0l1 -3.5l1 -2.3l1 -5.2l1 -6l1 -7.8l1 -1.8l1 -5.5l1 1.2l1 -.2l1 3.2l1 7.4l1 2.2l1 5.7l1 6.5l1 4.6l1 5.9l1 5.5l1 4.6l1 0l1 -.1l1 -4.8l1 -5.5l1 -11.6l1 -11.2l1 -17.4l1 -23.7l1 -18.7l1 -20.4l1 -11l1 2.9l1 17.5l1 19.1l1 20.3l1 19.8l1 15.4l1 17.3l1 2.7l1 6.5l1 3.5l1 1.7l1 7.8l1 -3.5l1 -.1l1 -3.3l1 -.3l1 -4.6l1 -4l1 -3.6l1 -2.6l1 -2.1l1 -4.7l1 -2.3l1 -4.2l1 -2.6l1 -3.4l1 -3.1l1 -3.2l1 1.9l1 .7l1 -.4l1 .9l1 -.6l1 .7l1 -.1l1 2.8l1 -.8l1 -.5l1 -.8l1 -.1l1 -1.1l1 -4.3l1 -5.2l1 -4.7l1 -7l1 -4.5l1 2.1l1 8.8l1 10.9l1 12.2l1 8.1l1 11.5l1 8.2l1 7.9l1 3.3l1 4.8l1 1.8l1 0l1 5.1l1 -2l1 .5l1 -.6l1 .6l1 1.2l1 2.6l1 -3.5l1 0l1 .1l1 .8l1 -2.1l1 -.2l1 1.4l1 -1.2l1 .5l1 .7l1 .2l1 -1.9l1 1.3l1 -3.1l1 1.7l1 -2.7l1 -.1l1 1.6l1 -1.1l1 -.2l1 .8l1 1.5l1 .1l1 .6l1 1.7l1 1.6l1 -2.6l1 2.1l1 -1.3l1 -1.1l1 -1.1l1 -2.8l1 -1.9l1 -.9l1 -3.1l1 -1l1 -3.4l1 -5.7l1 -4.1l1 -5l1 -2.9l1 -3.3l1 -5.9l1 -1.8l1 -2.4l1 4.7l1 3.7l1 4.2l1 7.8l1 3.6l1 6.9l1 6.7l1 .4l1 5.7l1 3.6l1 .7l1 3l1 4.8l1 2.5l1 1.9l1 3.5l1 2l1 .6l1 .8l1 -.7l1 .9l1 -1l1 -1.4l1 -.3l1 -.6l1 -1.5l1 -2.7l1 1l1 -2.2l1 -.2l1 -3.4l1 -1.3l1 -1.7l1 .2l1 -2.2l1 -.4l1 1.1l1 .1l1 1.6l1 1.1l1 1.4l1 2.8l1 -1.4l1 1.1l1 .2l1 1.3l1 -1.5l1 .8l1 1l1 .9l1 -.2l1 .1l1 .2l1 2.3l1 2.1l1 .4l1 1.3l1 1.7l1 -.2l1 1.5l1 .4l1 .1l1 -1.8l1 -3.4l1 -.5l1 -2.5l1 -5.1l1 -2.5l1 -4.5l1 -4.6l1 -7.6l1 -1.5l1 -8.4l1 3.5l1 -.5l1 1.4l1 3.1l1 4.3l1 1.6l1 3.8l1 2.8l1 2.2l1 6.6l1 3l1 2.9l1 4.1l1 2.5l1 -.3l1 2.7l1 .1l1 -2.4l1 -.5l1 2.9l1 2.6l1 -1.1l1 .6l1 1l1 -1.5l1 1l1 .4l1 -.6l1 -.4l1 -1.4l1 .6l1 -1.7l1 .4l1 2.1l1 -7.8l1 -3.5l1 -.1l1 -.7l1 -.5l1 -.5l1 -1.8l1 .1l1 2.4l1 -5.8l1 6.3l1 -1l1 1.2l1 .1l1 0l1 -3.5l1 .5l1 .1l1 -1.7l1 -1.4l1 -1.1l1 -6.3l1 -7.5l1 -6.2l1 -2.1l1 -.4l1 -2.7l1 1l1 -1.6l1 -1l1 -1.2l1 2.7l1 3.5l1 1.6l1 7.2l1 4l1 .7l1 .2l1 1.1l1 -2.7l1 -4.1l1 -1.5l1 -2.8l1 -2.8l1 -5.1l1 -1.2l1 -7l1 -5l1 -5.1l1 -1.6l1 -1.3l1 -.5l1 1.3l1 .9l1 -1.7l1 1.8l1 3.8l1 7.1l1 8.3l1 -1.3l1 1.7l1 -1.7l1 .6l1 -2l1 -.1l1 1.3l1 -1.5l1 -.8l1 -1.3l1 0l1 -2.9l1 -1.7l1 -4.1l1 -2l1 -1.4l1 -5.5l1 -8l1 -3.9l1 -5.1l1 -6.7l1 -3.6l1 -2.2l1 -.8l1 -1.2l1 1l1 -1.9l1 -.3l1 2.7l1 .4l1 -3.6l1 -7.3l1 -4.4l1 -5.4l1 -2.6l1 -5l1 -2.9l1 -1.5l1 -3.8l1 .6l1 -1.6l1 .9l1 3.6l1 2.4l1 -.5l1 1.8l1 -1l1 1.5l1 1.4l1 -.8l1 -.3l1 -.7l1 1.9l1 .6l1 0l1 -.2l1 -1.3l1 6.9l1 -5.1l1 .1l1 1.2l1 -2.7l1 2.2l1 0l1 .4l1 -2.9l1 -7.9l1 -9.3l1 -3.4l1 -4.3l1 -4.9l1 -6l1 -4.4l1 -.9l1 -2.1l1 -.9l1 -1l1 5.2l1 -2.1l1 5.7l1 6.2l1 2l1 4.9l1 5.6l1 13.1l1 7.8l1 7.9l1 4.1l1 2.5l1 5.3l1 .5l1 3l1 2.4l1 .7l1 -1.7l1 4.3l1 -.8l1 -1.6l1 2l1 .5l1 1.4l1 -.6l1 1.1l1 0l1 1.8l1 .9l1 -.8l1 .5l1 4.3l1 -1.4l1 2.1l1 -.5l1 1.9l1 -.3l1 1.6l1 .1l1 .6l1 1.2l1 -1.7l1 -.1l1 -1.4l1 -1l1 -1.6l1 -2.1l1 .6l1 .2l1 -2.6l1 -3.7l1 -3.4l1 -9l1 -7l1 -6.1l1 -2.5l1 -1.1l1 .5l1 -3.7l1 -2.2l1 -.8l1 -.6l1 -2.3l1 1.3l1 .2l1 -.5l1 .9l1 -.4l1 1.8l1 5.7l1 3l1 .8l1 6.2l1 6.9l1 8.1l1 5.5l1 3.3l1 4.2l1 3.1l1 2.6l1 .8l1 1.4l1 4.8l1 1.8l1 4.6l1 3.2l1 2.2l1 1.9l1 2.9l1 .6l1 2.9l1 3.6l1 1.4l1 1.3l1 2.9l1 -.6l1 3.1l1 -.8l1 .9l1 -.2l1 1.5l1 -1.3l1 1l1 -1.2l1 2.2l1 .7l1 -3.7l1 3.5l1 -1l1 1.6l1 -2.1l1 -1.7l1 3.1l1 -1.6l1 -.9l1 .3l1 -.9l1 1.4l1 -.9l1 -.2l1 1.8l1 -2.5l1 0l1 .7l1 -1.6l1 1.5l1 -.2l1 -1l1 -.2l1 .7l1 .6l1 -.3l1 -1.8l1 .3l1 -2.2l1 .5l1 -2.2l1 .8l1 -2.8l1 -.5l1 .2l1 -.1l1 -2.5l1 .6l1 .4l1 0l1 -1.2l1 .8l1 -.5l1 1.5l1 -1l1 -2.3l1 -1.5l1 1.5l1 .2l1 -2l1 -.4l1 -2.5l1 -2l1 1.1l1 -1.6l1 -.4l1 -3.2l1 .4l1 -2l1 .2l1 -2.6l1 -3.9l1 1.7l1 1l1 -1.9l1 -1.4l1 -.5l1 0l1 2.5l1 -3.1l1 1.1l1 1.8l1 .8l1 -1.1l1 1.3l1 .2l1 .6l1 -.4l1 2.2l1 -.7l1 2l1 -2.1l1 2.5l1 -2l1 -1.8l1 -3.1l1 -8.4l1 -5.9l1 -9.3l1 -7.2l1 -11.4l1 -8.6l1 -1.7l1 2.1l1 2.1l1 6.5l1 7.5l1 9.1l1 12.2l1 9.5l1 8.2l1 4l1 3.3l1 5.9l1 2.3l1 5.1l1 .4l1 .6l1 4.9l1 -.7l1 -.1l1 1.3l1 1.5l1 1.1l1 .8l1 3.7l1 -.9l1 1.1l1 -2.6l1 5l1 -1.7l1 1.9l1 -1.2l1 1.9l1 .9l1 .9l1 1.8l1 .9l1 -.6l1 2l1 1.8l1 1l1 -.2l1 .8l1 .8l1 1.1l1 -3.8l1 5.3l1 -1.8l1 .6l1 -.8l1 2.2l1 .5l1 -1.9l1 .8l1 -1.2l1 2.6l1 -.8l1 1.8l1 -1.4l1 -.8l1 .1l1 0l1 -1l1 .3l1 1.2l1 -.5l1 -.8l1 3.2l1 -2l1 0l1 .4l1 2l1 .9l1 0l1 1.3l1 -1.6l1 1.9l1 4l1 -2.3l1 1l1 -2l1 5.5l1 -3.6l1 1.5l1 .8l1 .4l1 -.3l1 -2.9l1 2.1l1 2.1l1 -1.4l1 .1l1 -1.1l1 3.8l1 -.5l1 -1.1l1 1l1 -3.3l1 2.8l1 1.1l1 .7l1 .6l1 .9l1 -1l1 -.3l1 1l1 -.9l1 -.5l1 2.5l1 -1.5l1 .5l1 .6l1 -1.8l1 5l1 -3.5l1 -.5l1 .4l1 -1.1l1 -1.5l1 1.9l1 -.7l1 1.8l1 -.6l1 -.9l1 .6l1 1.2l1 -.2l1 -.8l1 0l1 -.7l1 .1l1 .6l1 -.7l1 .4l1 -1.5l1 -.6l1 0l1 1.2l1 1.7l1 -.1l1 -2.2l1 -.6l1 2.3l1 -.4l1 -1.8l1 2.4l1 -.9l1 1.1l1 -.9l1 .5l1 -.6l1 -1.2l1 .7l1 -.5l1 1.5l1 -1.8l1 -.5l1 2.2l1 .5l1 -1.7l1 1.6l1 -2.6l1 .8l1 .2l1 .5l1 -4.2l1 4.2l1 .3l1 -1.2l1 1.1l1 1.1l1 -1.2l1 1l1 0l1 -.6l1 0l1 -.8l1 1.6l1 -1.7l1 -.2l1 1.4l1 -1.4l1 1.2l1 .6l1 -1l1 .1l1 .8l1 -.2l1 -2.3l1 .3l1 2.6l1 -.9l1 -2.5l1 .8l1 1.3l1 1.4l1 -.9l1 -.4l1 .5l1 -1.7l1 1.8l1 1.3l1 -2.7l1 2.1l1 -.3l1 -.3l1 -.7l1 -1.1l1 .3l1 1.6l1 .3l1 .2l1 -.2l1 -.1l1 -1.3l1 -.8l1 1.4l1 .3l1 -.4l1 -1.6l1 1.1l1 -1l1 1.6l1 -1.1l1 .9l1 .5l1 -.2l1 1.2l1 -2.4l1 -1.1l1 3.1l1 .5l1 0l1 -1.1l1 .3l1 -.4l1 -1.4l1 .7l1 1.1l1 -1.1l1 2.5l1 -3.4l1 1.1l1 1.5l1 -1.7l1 -.5l1 -.2l1 .6l1 .2l1 1l1 .1l1 -1l1 1.4l1 -.8l1 -3.9l1 3.4l1 .7l1 -1.2l1 .9l1 .6l1 1.5l1 -2.8l1 -.4l1 2.2l1 -.5l1 -.5l1 .3l1 -.5l1 .8l1 -.8l1 1.1l1 -2l1 .4l1 1l1 -.6l1 1.1l1 -.7l1 -.5l1 .8l1 -.7l1 -1.1l1 .5l1 .3l1 .4l1 .5l1 .9l1 -.4l1 1.3l1 -.5l1 -1.5l1 1.9l1 -.5l1 -1.6l1 .7l1 .8l1 -.8l1 .8l1 -.6l1 .3l1 -1l1 .7l1 -.7l1 1l1 -2.3l1 2l1 .9l1 -.6l1 -.6l1 .5l1 -1.3l1 0l1 .5l1 .2l1 1.1l1 -1.8l1 1.9l1 -2.6l1 .8l1 .8l1 1.2l1 -1.8l1 -1.5l1 2.6l1 -.5l1 -1l1 0l1 .4l1 .8l1 .6l1 -2.2l1 3.8l1 -2.3l1 -.3l1 1l1 -.5l1 2.2l1 -1.2l1 -1.5l1 3.4l1 -3.5l1 -1.4l1 2.6l1 -1.3l1 2.3l1 -1.7l1 -.1l1 4.3l1 -6.1l1 1.1l1 1.5l1 -.6l1 0l1 .4l1 -1l1 .5l1 -1.2l1 -.5l1 5.3l1 -4.3l1 3.8l1 -1.5l1 -.3l1 -1.6l1 0l1 .5l1 -.9l1 1.5l1 -.4l1 0l1 .6l1 0l1 1.1l1 -.3l1 -3.2l1 2.6l1 -2l1 -.3l1 2.1l1 -1.4l1 .4l1 1.4l1 -1.7l1 -.2l1 1.2l1 .9l1 -.7l1 -2.1l1 .9l1 .6l1 5.8l1 -4.8l1 0l1 .3l1 -1.5l1 .8l1 0l1 -1.4l1 .9l1 .6l1 -1.6l1 1.9l1 2.8l1 -2.6l1 -1.8l1 .9l1 1.4l1 -.7l1 -1.6l1 1.1l1 1.2l1 -1.5l1 .4l1 2.2l1 -2.6l1 0l1 .7l1 -1.3l1 2.2l1 -1.6l1 -1.1l1 .3l1 .9l1 .8l1 -1.5l1 1.4l1 -1.2l1 .9l1 .2l1 .1l1 -1.1l1 .3l1 .7l1 -1.8l1 1.4l1 .4l1 .5l1 -1.1l1 1.6l1 -1.4l1 -.8l1 .5l1 4l1 -3.5l1 -1.3l1 .7l1 -1.8l1 2.9l1 -1.3l1 .8l1 -1.4l1 1l1 .6l1 -1.6l1 2.6l1 -.6l1 -1l1 -.6l1 1.2l1 -.8l1 0l1 3.2l1 -2.6l1 -.2l1 -.2l1 -.8l1 .4l1 1l1 .8l1 -1.3l1 1.5l1 -1.4l1 -1.1l1 1.7l1 -1.6l1 1.4l1 .6l1 -1.3l1 .2l1 2.5l1 -2.2l1 0l1 .6l1 -.9l1 0l1 -3.1l1 .3l1 2.5l1 -4.2l1 -1.7l1 .3l1 -1l1 -.8l1 2.8l1 .3l1 2.2l1 .5l1 1.2l1 1.2l1 -.3l1 .2l1 .7l1 -1l1 -.6l1 4.4l1 -2l1 -1.6l1 .3l1 -.4l1 .3l1 .2l1 -.4l1 -.2l1 -.6l1 0l1 1.2l1 .4l1 .2l1 -.9l1 -.8l1 1.4l1 0l1 -2.1l1 2.3l1 -.2l1 1.1l1 -2.8l1 -.1l1 2l1 -2.5l1 1l1 2.8l1 -3l1 -.9l1 1.7l1 1.2l1 -.6l1 2.4l1 -3.1l1 1.8l1 -.9l1 .5l1 -2.6l1 1.9l1 -1.5l1 1.5l1 -.1l1 -1.4l1 1.3l1 1l1 -.6l1 .1l1 -1.5l1 .2l1 -.4l1 1.2l1 1.1l1 -.8l1 -.4l1 -1.1l1 1.5l1 -.6l1 -1.7l1 .2l1 1.4l1 -.6l1 2.5l1 -1.6l1 -1l1 .5l1 2.1l1 -2.5l1 1.7l1 -.4l1 1.1"/>
<path clip-path="url(#cA)" stroke="#ff00ff" d="M210.0 688.4l1 -2.9l1 -.9l1 -4.8l1 -6.4l1 -.5l1 -6.9l1 1.4l1 -4.9l1 1l1 -1.1l1 2l1 -.3l1 2.9l1 0l1 8.2l1 -4.4l1 6.5l1 -.1l1 1.1l1 2.2l1 1.6l1 2.9l1 .2l1 2.9l1 -5l1 2.6l1 -1.8l1 1.9l1 -5.1l1 1.8l1 -.1l1 -3.8l1 .8l1 -4.9l1 -1.5l1 -.7l1 -3.1l1 .1l1 .8l1 1.2l1 -.1l1 -3.9l1 -6.6l1 -.1l1 -3.5l1 -3l1 -3.8l1 -.8l1 -7.2l1 -2.1l1 -.7l1 -3.7l1 -1.1l1 -1.9l1 -2.8l1 -8l1 -.7l1 -6.3l1 -3.1l1 -2.8l1 -3.7l1 -2.3l1 -3.2l1 -.9l1 1.1l1 -.6l1 5.1l1 -.9l1 1.7l1 4.9l1 4.5l1 .7l1 4.5l1 -3.5l1 1.7l1 -3.5l1 -4.3l1 -12l1 -12.2l1 -11.4l1 -15.6l1 -13.8l1 -14.5l1 -18.9l1 -7.4l1 -10.6l1 -6.7l1 -7.5l1 -2.3l1 3.1l1 5.1l1 8.9l1 4.1l1 13.3l1 7.5l1 10l1 12.2l1 8.7l1 7.7l1 7.8l1 7.2l1 8.5l1 5.9l1 5.2l1 5.6l1 1.8l1 4.8l1 -.1l1 6.9l1 1.1l1 3.7l1 5.2l1 4.2l1 4.8l1 6.8l1 2.1l1 .9l1 4.4l1 -1.1l1 6.7l1 .3l1 -1.4l1 3.3l1 -.1l1 -3.1l1 .8l1 .7l1 .8l1 -3.2l1 -.2l1 1.1l1 -1.9l1 .6l1 -1.9l1 2l1 2.8l1 -.2l1 5.6l1 3.7l1 -2.6l1 4.6l1 .6l1 -.7l1 .9l1 .9l1 -.7l1 1.6l1 1l1 1.5l1 .9l1 -1.7l1 2.9l1 -1.8l1 1.6l1 1.6l1 .3l1 .6l1 1.3l1 -.7l1 .1l1 .6l1 1.4l1 -2.1l1 2.5l1 -1.4l1 -6.7l1 3.7l1 3.5l1 -1.8l1 .4l1 .5l1 4.5l1 .6l1 .5l1 .9l1 2.9l1 .4l1 -1.8l1 4l1 3.1l1 -3.4l1 1.5l1 -.9l1 -4.3l1 6.9l1 -.6l1 -1.7l1 -.3l1 1l1 -2.3l1 2.2l1 -1.1l1 -.6l1 -1.5l1 -.4l1 4.9l1 -5.2l1 -6l1 -4.4l1 -3.2l1 .8l1 .1l1 -6l1 3.1l1 -6.2l1 1.4l1 2.7l1 -7.5l1 -1.9l1 .7l1 -.9l1 -4.6l1 -.2l1 -5.8l1 2.1l1 -2.7l1 .5l1 1.1l1 .3l1 3.2l1 1.5l1 -1.2l1 1l1 .8l1 3.1l1 3.4l1 1.7l1 1.9l1 1.7l1 2.4l1 -1.2l1 1.9l1 1.2l1 4.3l1 -.8l1 3.8l1 -1.9l1 1.6l1 -1.3l1 5l1 -.1l1 2.9l1 1l1 .7l1 1.6l1 2.4l1 -5.5l1 2.9l1 -1l1 -.6l1 -1.4l1 3.9l1 -7.3l1 1.5l1 -3.4l1 1.6l1 -1.1l1 2l1 -2.1l1 -2.1l1 .9l1 -1.3l1 -2.5l1 -2l1 -3.1l1 3.3l1 -5.9l1 -.4l1 -4.8l1 -1.5l1 -.2l1 -1.9l1 -.7l1 -5.5l1 -1.8l1 -3.6l1 -8.9l1 -2.2l1 -6.8l1 -.6l1 -4.2l1 7l1 -1.3l1 6.8l1 4.8l1 -3.8l1 4.5l1 1.7l1 3.6l1 5.9l1 4.6l1 10.3l1 5.4l1 3.6l1 .5l1 2l1 2.4l1 -2.2l1 7.3l1 -2.2l1 .7l1 4l1 .8l1 1.2l1 -2.2l1 1.2l1 -.8l1 -1.4l1 1.6l1 -.3l1 -2.5l1 5.9l1 -6.2l1 2.5l1 .8l1 -2.6l1 0l1 2l1 -3.1l1 1.5l1 2.5l1 -3.6l1 3.6l1 -1.8l1 -3.8l1 3.1l1 -1.9l1 1.8l1 -1.3l1 -1.8l1 7.1l1 -6.7l1 -.9l1 -1.6l1 0l1 -.2l1 -.4l1 .6l1 -4.5l1 .3l1 1.1l1 -2.9l1 -1l1 .4l1 -3.2l1 -1l1 -2.1l1 1.2l1 -2.6l1 -4.1l1 .6l1 -3.7l1 2.5l1 -1.2l1 -1.4l1 0l1 -1.3l1 5.1l1 0l1 1.2l1 3.4l1 .5l1 3l1 2.1l1 1l1 7.6l1 -2.2l1 .8l1 2l1 -6.2l1 4.2l1 -.5l1 -2.1l1 1.4l1 -4.4l1 2.3l1 .7l1 -5.3l1 .6l1 1.3l1 -.4l1 -1.6l1 .8l1 2.9l1 -10.5l1 4.9l1 -2.4l1 -1.8l1 -1.1l1 4.5l1 -2.4l1 2.4l1 -5.9l1 .7l1 0l1 -2.1l1 -1.1l1 -2.9l1 -3.7l1 -5.2l1 -1.1l1 .2l1 -5.3l1 -2.7l1 -6.1l1 -1.5l1 -2.1l1 1.2l1 -1.2l1 .1l1 1.5l1 -4.4l1 1.8l1 -4l1 2.8l1 -3.4l1 -.5l1 -.4l1 1.9l1 -1.6l1 2.2l1 3l1 6.6l1 2.4l1 3.6l1 3.5l1 3.8l1 .4l1 4.4l1 3.7l1 -3.2l1 5.7l1 2.5l1 -2.8l1 3.2l1 2.4l1 .5l1 3.5l1 .4l1 .1l1 1.9l1 2.4l1 1.5l1 2l1 1.9l1 -1.1l1 .8l1 -.4l1 -5.8l1 2.2l1 -2.9l1 -2.3l1 -2.1l1 -1.1l1 -1.5l1 .3l1 -3.2l1 3.3l1 -2.7l1 2.6l1 1.1l1 -2.8l1 4.1l1 2.4l1 -3.3l1 2.3l1 -.5l1 .9l1 -.1l1 -.1l1 2.1l1 .4l1 -1.1l1 2.5l1 -.4l1 -.3l1 -1.9l1 4.3l1 -.4l1 -4.6l1 2.3l1 4.2l1 .5l1 1.2l1 -1.6l1 1.3l1 1l1 -2.8l1 3l1 -1.2l1 2.5l1 -1.9l1 -1.6l1 .4l1 -1.3l1 3.1l1 -.5l1 2l1 -2.7l1 -2.9l1 -1.2l1 -2.7l1 -3.1l1 -1.2l1 -5.6l1 -4.5l1 -5.2l1 -3.5l1 2l1 -.8l1 2.4l1 .2l1 3.8l1 3l1 5.7l1 6.7l1 4.1l1 -.8l1 -.7l1 2.1l1 -.2l1 -.7l1 1.3l1 0l1 -.3l1 -.5l1 .6l1 .1l1 1.8l1 -2.1l1 -.7l1 .3l1 1.6l1 -.9l1 -1.1l1 -2.2l1 -2l1 4.4l1 -7.9l1 .6l1 -3l1 -.1l1 -1.3l1 .4l1 -8l1 4.5l1 -5.6l1 -.9l1 -2.2l1 -5.3l1 -1.6l1 -1.4l1 -2.6l1 -1.6l1 1.7l1 1.2l1 -.5l1 6.8l1 .9l1 -1.4l1 4.6l1 6.2l1 2.4l1 .6l1 -.3l1 4.7l1 4.4l1 1.3l1 1.2l1 1.8l1 4.8l1 .7l1 2.7l1 1.7l1 2.6l1 -2l1 .2l1 -3l1 4.4l1 -.3l1 -1.5l1 -3.7l1 2l1 .4l1 2.3l1 -2.9l1 -.4l1 -.6l1 .3l1 -4l1 .2l1 -.7l1 1.1l1 -.2l1 .5l1 -1.8l1 1.5l1 -1.5l1 4.3l1 -4.1l1 4.4l1 -1.6l1 -4.5l1 2.9l1 -.9l1 -3.7l1 2.8l1 -1.6l1 .1l1 -2.4l1 .6l1 .2l1 -1.4l1 -1.1l1 .2l1 -1.6l1 1.7l1 -4.5l1 6l1 -2.1l1 .7l1 .7l1 -3l1 4l1 -3.4l1 2.5l1 -.1l1 1.6l1 -2.1l1 -2.3l1 2.3l1 -4.7l1 2.8l1 -1l1 2.4l1 -3.5l1 -.9l1 -1.1l1 -.8l1 -.3l1 .9l1 -1.2l1 -1.7l1 -2.7l1 1.2l1 -.2l1 -2.8l1 .4l1 2.5l1 -1.9l1 -.6l1 -2.7l1 -2.8l1 -3.4l1 .8l1 -1.8l1 -3.8l1 .5l1 -4.1l1 -.8l1 2.2l1 -4.6l1 2l1 -.7l1 -.5l1 2.4l1 -3.9l1 .7l1 -2.5l1 1.5l1 .8l1 .2l1 .3l1 .8l1 -1.5l1 -2l1 3.1l1 .2l1 -2.8l1 .1l1 3.2l1 -1.7l1 -.6l1 -1.3l1 -1.4l1 -1.7l1 .8l1 -2.2l1 -1.4l1 -.5l1 -1.2l1 .5l1 -3.7l1 4.5l1 -5.8l1 .6l1 2.1l1 -2.6l1 .8l1 1.1l1 -4.1l1 4.1l1 -.3l1 1.6l1 1.8l1 1l1 2.2l1 .9l1 .2l1 -3.2l1 4.4l1 -2.9l1 .2l1 -.2l1 -3.9l1 -6l1 -.6l1 1l1 -1.6l1 -.3l1 -5.4l1 -.3l1 .1l1 -2.8l1 -1.4l1 -3.3l1 -2.3l1 -2.1l1 .1l1 -.5l1 -1.6l1 -2.4l1 3.6l1 -1.2l1 1.6l1 1.4l1 -.5l1 5.6l1 .7l1 6.2l1 4.8l1 .4l1 2.1l1 1.8l1 1.8l1 -4.6l1 2.1l1 2.6l1 -1.6l1 -3.4l1 5.7l1 .7l1 1.4l1 -.3l1 -.5l1 1.6l1 .3l1 0l1 2.1l1 1.3l1 -.6l1 4.8l1 1.5l1 1.7l1 -3.7l1 5.8l1 .9l1 -.2l1 3.5l1 -2l1 5.1l1 -.2l1 -.4l1 3.9l1 -.5l1 .7l1 -1.6l1 3.7l1 2.2l1 .5l1 -2.6l1 5.1l1 1.5l1 .1l1 -.7l1 -.6l1 2l1 1.4l1 2.1l1 1.1l1 -1.2l1 -.7l1 2.4l1 -.8l1 1.9l1 -1l1 3l1 .8l1 -2.4l1 3.3l1 -1.4l1 -.7l1 .1l1 1.8l1 1.7l1 -4.4l1 4l1 -1.1l1 -3.9l1 4.1l1 .1l1 -.2l1 1.1l1 -2.9l1 4l1 -2l1 -2.7l1 -2.4l1 2.5l1 -.9l1 1.5l1 -.2l1 1.8l1 -3.1l1 1.4l1 -1.8l1 0l1 2.9l1 -2.5l1 0l1 -.3l1 1l1 .4l1 -1.1l1 -1.5l1 2.2l1 -1.7l1 .7l1 .9l1 0l1 -3.9l1 6.1l1 -1.3l1 1.8l1 .9l1 -5.1l1 .6l1 3l1 1.2l1 -3.8l1 .4l1 2.2l1 -2.8l1 1.7l1 1.3l1 -2l1 1.6l1 -1.5l1 -2.4l1 1.3l1 .3l1 -.5l1 .2l1 .3l1 -3.8l1 2.8l1 -1.3l1 -.1l1 -.7l1 -.8l1 2.5l1 -5.4l1 2.7l1 -3.2l1 1.1l1 1.6l1 -5.9l1 5.7l1 -4.1l1 .5l1 -1.1l1 .5l1 -.9l1 -.5l1 .5l1 1.4l1 -1.5l1 -.2l1 -.5l1 -.6l1 -1l1 .6l1 1.7l1 -2.9l1 4l1 -1.6l1 -.7l1 .7l1 5.5l1 -3.9l1 -.1l1 2.4l1 -.8l1 -3.6l1 3.4l1 -2.4l1 -.8l1 1.4l1 2.5l1 -1.9l1 -.1l1 3l1 -1.2l1 -.7l1 3l1 -1.8l1 -1.7l1 -.4l1 1.1l1 1.1l1 1.3l1 0l1 -1l1 -1.8l1 3.2l1 -1.1l1 -1.7l1 -.2l1 2.3l1 3l1 -1.9l1 -3l1 4.8l1 -5.5l1 2.9l1 2.2l1 -.2l1 -2.6l1 2.8l1 -.9l1 2.1l1 -2l1 4.6l1 -4.4l1 3.2l1 -1.1l1 1.6l1 .8l1 2l1 -1.9l1 3l1 5.1l1 -3.6l1 1.5l1 .7l1 -1.1l1 -2.5l1 4.9l1 1.1l1 2.7l1 -.2l1 -2.9l1 .4l1 -.6l1 -1.7l1 5.8l1 -.9l1 -3.6l1 3.2l1 3.8l1 -2.7l1 .2l1 -.3l1 -1.4l1 -.5l1 .6l1 1.5l1 -.5l1 1.5l1 1.7l1 -1.7l1 .4l1 -1.7l1 -1.4l1 5.3l1 -2.1l1 .8l1 -2.4l1 -1.9l1 4.6l1 -5.2l1 3l1 -.5l1 1.2l1 .9l1 0l1 -4.4l1 4.7l1 -4.4l1 4l1 -1.7l1 -1.1l1 .9l1 -1.2l1 2l1 1.5l1 -.3l1 -3.3l1 3.7l1 2.9l1 -1.3l1 -2.5l1 -1.8l1 .5l1 -.8l1 .7l1 .2l1 1.2l1 .1l1 -1.2l1 .5l1 -1.8l1 .2l1 -3l1 2.6l1 .3l1 4.6l1 -6l1 2.1l1 -.7l1 -1.9l1 2.7l1 -4l1 1.3l1 .6l1 1.4l1 -2.2l1 3.2l1 -1.5l1 1.2l1 -1.4l1 2.8l1 -1.4l1 1.3l1 -2.2l1 -1.8l1 -.7l1 1.4l1 1.2l1 -1.5l1 4.7l1 -3.9l1 .8l1 -.6l1 -2.1l1 3.6l1 -.7l1 .3l1 -2.7l1 1.4l1 -.1l1 1.9l1 -3.9l1 3.1l1 1l1 -2.6l1 -4.1l1 6.8l1 -1.7l1 1.4l1 -.6l1 .5l1 -1.9l1 -3l1 4.2l1 -2l1 6l1 -5.8l1 3.4l1 -2.9l1 1.6l1 .5l1 -1.9l1 .7l1 -.6l1 -1.4l1 .1l1 0l1 -1l1 1.6l1 .9l1 -.1l1 -.6l1 -.2l1 -2.6l1 4.3l1 1.7l1 -3.8l1 -1.6l1 3.9l1 .3l1 -7.6l1 5l1 -1.1l1 .4l1 4.9l1 -1.5l1 -1.8l1 .3l1 2.4l1 -4.1l1 2.8l1 -2.1l1 2.2l1 -.9l1 -1.5l1 2.8l1 -.8l1 2l1 -5.4l1 2.8l1 -1.2l1 3l1 -2.9l1 1.2l1 2.2l1 1.6l1 -2.8l1 .2l1 .3l1 .7l1 -1.2l1 -2.4l1 5.4l1 -3.4l1 4.7l1 -2.2l1 4.8l1 -2.9l1 -1l1 1l1 -3.4l1 2.6l1 -.7l1 .8l1 -3.1l1 -.2l1 4.6l1 -1.1l1 -.7l1 -1.7l1 1.3l1 .2l1 5.6l1 -6.9l1 3l1 -5.7l1 1.7l1 1.7l1 .8l1 -1.6l1 1l1 -.2l1 2.1l1 -.2l1 .4l1 -3l1 1.6l1 1.5l1 -1.8l1 -.5l1 -1.1l1 2.4l1 -1.1l1 1.2l1 -1.8l1 3.4l1 -3.4l1 -1.9l1 2.2l1 .3l1 1.2l1 -2.8l1 -.2l1 .4l1 -.3l1 -2.8l1 .7l1 4.4l1 -3.2l1 -.4l1 1.2l1 -1.1l1 2.4l1 -2.3l1 1.9l1 -3l1 -.3l1 -.3l1 .1l1 2.8l1 .6l1 -1.2l1 .1l1 -3.9l1 5.1l1 -3.7l1 3.9l1 1.6l1 -3.7l1 .8l1 0l1 -3.1l1 .2l1 .7l1 1.2l1 1l1 -1.2l1 1.5l1 -2.5l1 -1.5l1 2.2l1 -.2l1 -2.1l1 3.8l1 -3.1l1 .3l1 1.4l1 -2l1 2.6l1 -.4l1 .1l1 -.7l1 -.8l1 -.4l1 1.6l1 1.6l1 -.9l1 -.6l1 .9l1 .5l1 -4l1 1.9l1 1.9l1 -2.9l1 .3l1 1.6l1 -1.3l1 2.2l1 -2.3l1 1.4l1 -.3l1 1.1l1 -3.9l1 .5l1 0l1 1.5l1 -.4l1 1.3l1 1.8l1 -.3l1 -3.6l1 .8l1 -.1l1 -.8l1 3.9l1 -3.7l1 -.7l1 2.3l1 -.1l1 1.9l1 0l1 -2.7l1 -2.9l1 4.2l1 .2l1 1.5l1 -5.2l1 .6l1 4.2l1 .1l1 -.5l1 -2l1 2l1 -6.8l1 2.9l1 1.8l1 .2l1 1.1l1 .5l1 -4.4l1 3.1l1 .3l1 -2.7l1 1.6l1 .5l1 .6l1 -2l1 .4l1 -.7l1 2.2l1 -1l1 -.4l1 1.9l1 -1.2l1 -1.5l1 3.6l1 -.2l1 -.8l1 -2.2l1 3.3l1 -2.5l1 -2l1 2.8l1 3l1 -3.4l1 1.6l1 1.3l1 -1.8l1 -.7l1 .5l1 1l1 -1.6l1 1.3l1 .4l1 -1.4l1 1.8l1 -.2l1 -3.3l1 2.2l1 .6l1 1.5l1 -3.8l1 .7l1 1.8l1 1l1 -.1l1 -2.2l1 2.2l1 -3.7l1 1.5l1 2.3l1 -1l1 -.3l1 1l1 -.7l1 -3l1 3.8l1 -2l1 1.6l1 1.2l1 -1.4l1 1.9l1 -4.3l1 3.6l1 -1.9l1 .3l1 1.7l1 3.5l1 -4.1l1 1.3l1 -5.5l1 4.3l1 .1l1 -2l1 2l1 -.3l1 -3.5l1 3.8l1 .6l1 -.1l1 .2l1 -2.2l1 .6l1 .9l1 -1l1 .6l1 2.6l1 -3.1l1 .8l1 3.3l1 -2.9l1 -3.3l1 3.9l1 1.8l1 -1.9l1 -2.7l1 3l1 .1l1 2.5l1 -2l1 -1.6l1 1.1l1 .5l1 -1.2l1 .2l1 2.1l1 -1.7l1 -.5l1 -2.8l1 1.3l1 -4.1l1 4.2l1 -2.8l1 1.7l1 1.5l1 -2.9l1 4.2l1 -.5l1 2.3l1 -1.6l1 -.1l1 3l1 -1.2l1 -.6l1 -1.8l1 3.7l1 -2.5l1 .2l1 -.7l1 1.1l1 .8l1 -1l1 0l1 -.7l1 3l1 2.8l1 -5.4l1 -.9l1 1.7l1 -2.8l1 5.3l1 -2.5l1 -.1l1 2.1l1 .3l1 -2l1 -1.2l1 2l1 .2l1 -3.5l1 .7l1 .7l1 -2l1 4.2l1 .6l1 -4.3l1 3.2l1 -2.5l1 2.7l1 -1l1 .8l1 -3.3l1 2.4l1 -1.2l1 1.9l1 0l1 -3.4l1 2.1l1 .2l1 .4l1 -1.1l1 .1l1 -.3l1 -.6l1 3l1 -3.4l1 3.8l1 -.9l1 -3.5l1 -.2l1 2.7l1 -1.6l1 1.8l1 1.2l1 -.9l1 -.8l1 0l1 2.5l1 -1l1 1.4l1 .4l1 -3.5l1 1l1 2.1"/>
<path clip-path="url(#cB)" stroke="#000000" d="M210.0 1121.5l1 -2.2l1 -2.2l1 -2.9l1 -3.4l1 -6.9l1 -6.3l1 -7.3l1 3.4l1 1.5l1 -1.1l1 -1l1 1.4l1 4.2l1 -.9l1 1.4l1 .3l1 -.2l1 1.8l1 1.3l1 .8l1 3l1 .6l1 1.2l1 4.2l1 4l1 -.3l1 3.3l1 -2.2l1 -5.7l1 -5.3l1 -4.6l1 -8l1 -9.4l1 -9.5l1 -8.4l1 -8.3l1 -4.1l1 -3.7l1 -.3l1 .6l1 -4.3l1 -8.1l1 -1.4l1 -8.4l1 5l1 7.6l1 -.7l1 8.6l1 5.9l1 8.9l1 5l1 9.4l1 2.3l1 2.2l1 -5.8l1 -6.8l1 -12.7l1 -7.6l1 -8.9l1 -6.1l1 -5.6l1 -5.4l1 .3l1 4.1l1 1.8l1 5.8l1 5l1 5.9l1 5l1 6.7l1 5l1 1.7l1 0l1 3.2l1 -1.9l1 1.2l1 1.3l1 4.5l1 -.1l1 .7l1 1.1l1 2.9l1 -1.5l1 -.5l1 1.7l1 -3.6l1 -.4l1 -3l1 -5.9l1 -5.4l1 -3.2l1 -5.6l1 -3.7l1 -3.1l1 .4l1 -.8l1 1.5l1 1.1l1 2.8l1 2.9l1 3.5l1 5l1 4.1l1 5.8l1 7.4l1 3.6l1 3.2l1 8.4l1 .6l1 .4l1 3.9l1 -.2l1 -.8l1 -1.9l1 -3.5l1 -1.8l1 -.9l1 -3l1 -.1l1 1l1 -4.5l1 1.7l1 .1l1 .4l1 1.7l1 2.8l1 1.5l1 -1.8l1 -1.4l1 -2.3l1 -3.9l1 -2.1l1 -2.1l1 -.8l1 4.4l1 -5.2l1 -1.2l1 0l1 -5.9l1 1.5l1 -.8l1 -2.4l1 -1.1l1 -4.5l1 -4.3l1 2.9l1 -1.3l1 -2.1l1 4.3l1 -.1l1 -.6l1 3.7l1 1.7l1 4.6l1 -1l1 2.7l1 1.6l1 .9l1 .1l1 2.4l1 2.7l1 5.5l1 6.8l1 -2.1l1 -3.9l1 -8.2l1 -4.9l1 -7.9l1 4.2l1 2.2l1 3.9l1 7.2l1 12l1 5.3l1 5.1l1 4.1l1 -2.5l1 -6.3l1 -7.4l1 -7.9l1 -5.1l1 -5.6l1 -6.6l1 0l1 7.6l1 -.5l1 5.2l1 4.8l1 4.5l1 5.1l1 3.6l1 2.2l1 4.8l1 5l1 -2.3l1 -5.2l1 -6.2l1 -3.3l1 -5.7l1 -15.3l1 -20.5l1 -16.5l1 -13.1l1 -10.8l1 -13.7l1 -5.7l1 -4.5l1 -5.8l1 -2.1l1 1.5l1 0l1 -.8l1 -.1l1 1.7l1 -.7l1 1.1l1 .3l1 3.3l1 4.6l1 10.5l1 4.4l1 16.2l1 18.6l1 14.6l1 7.6l1 3.3l1 10.2l1 8.3l1 2.6l1 7.6l1 7.4l1 1.5l1 1.5l1 3.1l1 1.7l1 3.6l1 5.1l1 -2.2l1 -1.2l1 5.4l1 3.3l1 -.2l1 .7l1 -1.4l1 -2.6l1 -1l1 -.5l1 -3.6l1 -4.6l1 -6.3l1 -11l1 -15.3l1 -7.8l1 -2.5l1 6.5l1 3.5l1 4.5l1 3.2l1 2.6l1 -.6l1 -4.6l1 -5.9l1 -8.3l1 -12.2l1 -22.3l1 -38.2l1 -44.3l1 -29.8l1 -22.1l1 -23.3l1 -16l1 -18.6l1 -9.2l1 -8.4l1 -2.9l1 12.5l1 15.3l1 17.5l1 20.4l1 24.4l1 41.1l1 29.3l1 16.5l1 12.5l1 7.1l1 10.9l1 5.7l1 -7.7l1 -11.1l1 -17.8l1 -16l1 -20.8l1 -24.7l1 -38.5l1 -46.2l1 -34.4l1 -31.7l1 -12.2l1 16l1 22.6l1 32.2l1 38.8l1 34.2l1 29.6l1 28.5l1 20.3l1 2.7l1 3.8l1 3l1 -1.3l1 1.6l1 4.6l1 5.2l1 7l1 5.3l1 3.4l1 4.4l1 -6l1 -5.1l1 -4.7l1 -12.6l1 -12.2l1 -14l1 -4.8l1 2.6l1 7.5l1 5.4l1 9.8l1 6.1l1 3l1 -.5l1 -.4l1 -2.3l1 -1.4l1 -13.7l1 -14.7l1 -13.1l1 -11.5l1 1l1 .2l1 -1.1l1 2l1 .1l1 7l1 6.9l1 6.2l1 11.2l1 15.4l1 11.7l1 8.7l1 -1.7l1 -6.8l1 -9.6l1 -10.8l1 -22l1 -31.2l1 -28.2l1 -26.5l1 -25.5l1 -33.2l1 -32.4l1 5.5l1 26l1 31.8l1 29l1 40.9l1 40.2l1 25.1l1 15.9l1 7.9l1 7.4l1 4.6l1 1.1l1 3.5l1 -.5l1 3l1 -7.1l1 -4.9l1 -8.7l1 -5.6l1 -6.6l1 -6.7l1 -4.1l1 -4.4l1 -2.5l1 .6l1 -3.4l1 4.9l1 -3.1l1 .2l1 .5l1 -1.8l1 2.6l1 3.9l1 -.3l1 2.4l1 -1.5l1 -1.1l1 -5.8l1 -1.5l1 -8.9l1 -14.9l1 -11.5l1 -12.7l1 -11.6l1 -9.2l1 -5.8l1 3.7l1 13.5l1 16.5l1 26.9l1 30.6l1 25.9l1 11.8l1 9.3l1 6.2l1 4l1 5l1 3.1l1 0l1 .3l1 -2.4l1 -2.9l1 1.5l1 5.8l1 2.2l1 5.4l1 -2.3l1 -1.2l1 -2.4l1 2.8l1 3.8l1 -1.8l1 3.4l1 -.8l1 -4.9l1 -.6l1 -2.6l1 1.4l1 -1.6l1 -3.3l1 3l1 -4.5l1 -2.7l1 -5.3l1 .1l1 1.4l1 -.2l1 -1.3l1 2.4l1 -.1l1 3.9l1 -.5l1 1.8l1 -1.7l1 -1.4l1 -.8l1 -2.2l1 -16.5l1 -2.7l1 .2l1 -3.4l1 1.4l1 -3.1l1 -1.1l1 -1.1l1 -6.1l1 -9.8l1 -7.3l1 -5.4l1 -2.9l1 2.4l1 6l1 4l1 16.8l1 5.1l1 .4l1 1l1 -3.6l1 -.8l1 -3l1 6.4l1 12.5l1 11.3l1 11.4l1 8.2l1 6.8l1 9.1l1 4.5l1 -2.6l1 -.3l1 -7.1l1 2.7l1 -3l1 -.9l1 -2.6l1 4.9l1 4.2l1 -.7l1 -1.3l1 -2l1 -3.3l1 -8.1l1 -.5l1 -5.5l1 -4.8l1 -2l1 3.5l1 -2.9l1 7.3l1 2.7l1 3.3l1 5.8l1 6.5l1 .6l1 3.4l1 1.9l1 4.8l1 -3.6l1 -.8l1 -2.2l1 -1.4l1 -2.2l1 2.7l1 1.3l1 -.3l1 4.5l1 4.1l1 4.2l1 3l1 2.3l1 -.4l1 -3l1 -3.7l1 -8.3l1 -4.6l1 -3.2l1 -8l1 -8.5l1 -13.3l1 -4.7l1 -2.7l1 -6.8l1 -6.4l1 -2.2l1 -5l1 4.3l1 4.4l1 5.4l1 2.9l1 6.8l1 7.5l1 11.9l1 8.4l1 3.1l1 7l1 4.9l1 3.8l1 -1.4l1 9.7l1 5.2l1 1.1l1 4.1l1 -.4l1 7.7l1 -.2l1 -1l1 -1.5l1 -2.1l1 -1l1 -1.8l1 -1.2l1 -.8l1 -.9l1 .8l1 -4.9l1 1.3l1 -2l1 -1.4l1 -2.1l1 3.4l1 -2.7l1 -1.1l1 -1.9l1 -6.5l1 -2.9l1 -3.5l1 .1l1 .8l1 -1.1l1 4.3l1 .9l1 2.6l1 1.8l1 3.2l1 -1.3l1 2.4l1 0l1 -5.1l1 -1.8l1 -7.1l1 -7.3l1 -7.9l1 -11.3l1 -10.1l1 -2.7l1 -1.8l1 -3l1 .8l1 0l1 -4.1l1 6.2l1 1.5l1 11.2l1 9.3l1 3l1 3.4l1 3.5l1 -1.3l1 3l1 -4.5l1 -2.7l1 -5.1l1 -4.6l1 -5.5l1 -14.8l1 -15.1l1 -13.1l1 -2.8l1 -1.9l1 -3.8l1 7.9l1 4.5l1 9l1 12l1 4.8l1 -1.1l1 2.3l1 6.6l1 -2.4l1 -1.3l1 3.1l1 4.7l1 -.6l1 1.1l1 1.2l1 -1.1l1 -8.3l1 -13.5l1 -9.2l1 -10.6l1 -5.9l1 -4.8l1 -9.3l1 -9.8l1 -13.3l1 -13.4l1 -9.2l1 -9.9l1 -3.7l1 -.9l1 -.9l1 .2l1 3.3l1 1.5l1 4.2l1 3.9l1 -7l1 .5l1 -3l1 -3.3l1 -4.7l1 -8.8l1 -10.8l1 -7.3l1 -4.1l1 -5l1 -1.7l1 1.1l1 -3.6l1 2.5l1 3l1 4.3l1 3.3l1 6.8l1 1.6l1 2.6l1 3.5l1 2.2l1 5.2l1 -1.8l1 4.1l1 1.4l1 1l1 -.5l1 .1l1 1.2l1 -.7l1 -.6l1 3.5l1 -2.7l1 3.6l1 -1.9l1 -5.3l1 -6.5l1 -8.6l1 -13.2l1 -9.4l1 -12.9l1 -10.4l1 -7.1l1 -7.6l1 -.8l1 -1.5l1 2.3l1 3.8l1 5.5l1 6.1l1 11.3l1 10.8l1 13.2l1 15.9l1 16.7l1 16.4l1 10.5l1 9.3l1 3.4l1 4.6l1 4.8l1 -3.7l1 2.4l1 2.3l1 -1.1l1 -1.4l1 1.7l1 .3l1 1.5l1 1.6l1 1.9l1 -1.5l1 .1l1 1.9l1 1.3l1 1.1l1 2.4l1 2l1 .6l1 4.8l1 2.8l1 4.4l1 7.1l1 2.8l1 5l1 -2.2l1 -2.8l1 -4.5l1 -3.4l1 -2.1l1 -5l1 -.5l1 -5.8l1 1l1 -1.4l1 -3.2l1 -3.6l1 -2.8l1 -10.8l1 -14.3l1 -12.7l1 -7.5l1 -7.3l1 -6l1 -2.9l1 -1.9l1 -3.9l1 -3.5l1 1.3l1 -1.3l1 1l1 -.6l1 1.2l1 2.8l1 1.1l1 2.4l1 9.3l1 5.9l1 7.3l1 9l1 4.2l1 7.2l1 16.5l1 4.7l1 12.5l1 8l1 7.2l1 4.1l1 5.3l1 2.2l1 4.3l1 2.3l1 1.3l1 4l1 6.1l1 -.6l1 8.1l1 5.2l1 3.7l1 .9l1 5.2l1 .7l1 -1l1 -.4l1 .6l1 .7l1 -.4l1 1.5l1 -3.8l1 2.4l1 -6.2l1 -2.3l1 -4.4l1 -2.6l1 1.6l1 6.6l1 5.7l1 5.8l1 -1.2l1 -1.1l1 2.3l1 2l1 1.5l1 2.2l1 2.9l1 .8l1 -.6l1 -2.4l1 .2l1 -4l1 .2l1 -.1l1 -2.5l1 1.3l1 -.4l1 2.7l1 -2l1 -3.4l1 2.7l1 -1.1l1 -2.5l1 -2.3l1 -.8l1 -1.6l1 -1.3l1 -2.8l1 .2l1 -2.5l1 1.1l1 -1.1l1 -1.2l1 .2l1 3.3l1 -2.9l1 -2.1l1 -2l1 1.3l1 -1.4l1 -1.8l1 .5l1 -6.9l1 -1l1 2.7l1 -4.2l1 -.6l1 -.1l1 -1.2l1 -1.4l1 -.4l1 .1l1 -6.1l1 -1l1 -1.7l1 -1.1l1 .6l1 .7l1 .6l1 2l1 -.5l1 2.6l1 .4l1 1.5l1 -2.3l1 5l1 -2.7l1 1.6l1 3.5l1 -.3l1 4.1l1 -.8l1 -.4l1 2.5l1 -.1l1 2.6l1 -.5l1 -2.5l1 -3.4l1 -1.9l1 -3.2l1 -14.8l1 -12.1l1 -13.7l1 -23.7l1 -16.4l1 -9.2l1 -7.1l1 5.1l1 2.8l1 5.4l1 15.8l1 29.4l1 18.2l1 9.4l1 6.1l1 12.2l1 6.7l1 2.6l1 1.2l1 7.2l1 -.1l1 2.3l1 .9l1 3.7l1 1.6l1 .4l1 .2l1 1.9l1 1.7l1 -3.4l1 6.6l1 -.9l1 1.9l1 .9l1 2l1 1.2l1 2.4l1 -2.4l1 .2l1 2.3l1 0l1 2.9l1 -1.1l1 2.2l1 2.1l1 1.1l1 -.1l1 2.6l1 .7l1 -3l1 3.6l1 .7l1 .4l1 .4l1 1.7l1 1l1 .1l1 1.4l1 -.5l1 -2.1l1 -.2l1 2.1l1 1.6l1 -2.5l1 4.4l1 -3.2l1 -.7l1 1.2l1 -2.4l1 1.5l1 -1.5l1 1.4l1 .2l1 -1.1l1 -5.1l1 8.3l1 -.4l1 .2l1 -.5l1 1.1l1 1.8l1 .1l1 2.3l1 -.6l1 -.5l1 2.7l1 -2.5l1 6.2l1 -4.2l1 3l1 2.2l1 -.7l1 1.5l1 1.1l1 -.5l1 2.3l1 -2.5l1 .1l1 .1l1 -2.3l1 .7l1 2.7l1 -1.1l1 2.3l1 -1.8l1 0l1 1.7l1 -.8l1 1.8l1 -3.3l1 2.1l1 .4l1 -.1l1 .8l1 -.2l1 -1.3l1 -.7l1 1.9l1 -1.2l1 4.2l1 -2.6l1 -1.6l1 -1.4l1 .7l1 1.3l1 -3.3l1 3.6l1 -1.5l1 0l1 -1.1l1 .5l1 1.5l1 -2l1 -.2l1 -.7l1 1.9l1 -3.2l1 1l1 1.9l1 .5l1 -2.3l1 1.3l1 -4.1l1 3.1l1 -1.1l1 -2.5l1 -1.3l1 1.1l1 .5l1 -.3l1 -.7l1 .7l1 -.2l1 -2.6l1 1.4l1 0l1 5.7l1 -5.2l1 2.3l1 -.9l1 3.3l1 -2.8l1 .4l1 .1l1 .6l1 3.2l1 -3.6l1 -.4l1 1l1 1.1l1 -2.2l1 4.8l1 -2.5l1 -1.2l1 -.1l1 -.7l1 .7l1 -.7l1 2.6l1 .5l1 -2.5l1 .4l1 -2.5l1 1.8l1 1.1l1 0l1 -.2l1 .9l1 -1l1 -.7l1 2.5l1 -4.8l1 .9l1 .3l1 -.2l1 -.3l1 .5l1 -.9l1 .6l1 .6l1 -1l1 -.1l1 -1.6l1 -.4l1 .9l1 1.4l1 -.8l1 .8l1 -.2l1 .2l1 -2.4l1 2.7l1 -.5l1 1.9l1 -1.7l1 -.1l1 -.4l1 .7l1 -2.1l1 2l1 .5l1 1.6l1 -2l1 1.2l1 2.3l1 -2.9l1 1.9l1 -1.7l1 .7l1 .8l1 .7l1 -1.7l1 -.5l1 3.3l1 -1.6l1 .9l1 .3l1 -.1l1 -1.2l1 .2l1 -1.7l1 2.3l1 -.8l1 .7l1 2.5l1 -1.4l1 -.8l1 -1.7l1 2.7l1 1.1l1 -3l1 1.7l1 -1.2l1 .5l1 -.3l1 -1.6l1 1.5l1 -1.5l1 3.9l1 -.4l1 -1.3l1 .3l1 -.3l1 .1l1 0l1 -.5l1 0l1 -1.5l1 3.1l1 -2.2l1 1l1 -.7l1 2.9l1 -2.8l1 -.2l1 1l1 .7l1 1l1 -1.1l1 -2l1 .5l1 1.5l1 -1.1l1 .7l1 -1.2l1 2.1l1 -.2l1 -.4l1 -1.3l1 -2.3l1 .3l1 2.1l1 .4l1 -2.7l1 1.2l1 2l1 -3l1 .8l1 1.4l1 -.8l1 -.4l1 1.7l1 0l1 -2.2l1 -.5l1 -.5l1 -.2l1 3.4l1 .7l1 -2.1l1 1l1 -2.3l1 .8l1 1.2l1 -.8l1 -.5l1 -2l1 .2l1 3.3l1 -2.2l1 .6l1 -.8l1 .5l1 .4l1 .5l1 -.5l1 -.8l1 .3l1 1.5l1 1.8l1 -4.2l1 -.1l1 1.7l1 .3l1 .9l1 -2l1 2.1l1 -2.1l1 .1l1 -.4l1 1.4l1 .6l1 -1.3l1 -.6l1 -1.3l1 -.5l1 2l1 .2l1 -.5l1 -.3l1 .6l1 1.1l1 -3l1 2.4l1 .4l1 -.6l1 .1l1 -1.5l1 4.7l1 -2.2l1 1.1l1 -2.6l1 .9l1 -1.3l1 1.5l1 -.5l1 1.1l1 -1.1l1 1.1l1 -1.5l1 1.4l1 -1.1l1 -.1l1 .6l1 .4l1 -2.2l1 -.1l1 2.1l1 -.2l1 -2.5l1 .4l1 1.2l1 1.4l1 -.1l1 1l1 .2l1 1.5l1 -4.7l1 1.7l1 1.5l1 -3l1 -.1l1 2l1 1.1l1 .3l1 -.6l1 -2.5l1 1.4l1 -.5l1 -.5l1 1.3l1 2.1l1 -2.3l1 .3l1 -.1l1 1.3l1 -2.8l1 1.9l1 -1.4l1 -.8l1 3.2l1 -.8l1 1.1l1 -1.4l1 .5l1 -.6l1 .5l1 -1.2l1 2.6l1 -3.5l1 2.7l1 -3.2l1 .4l1 -2l1 -.7l1 .3l1 -2.7l1 -2.3l1 .8l1 .1l1 -6.1l1 6.6l1 .5l1 -3.1l1 2.7l1 2l1 -1.7l1 1.7l1 1l1 0l1 3.3l1 -.8l1 .6l1 1.4l1 -.4l1 -.8l1 1.8l1 -3.5l1 2l1 -.7l1 -.1l1 .9l1 -.2l1 3.1l1 -2.4l1 -.3l1 1.6l1 -.8l1 -3.7l1 2.5l1 .8l1 -1.7l1 -.7l1 -2.4l1 4.3l1 -2.5l1 -.5l1 1.8l1 1l1 1.4l1 -2.1l1 -.6l1 2.1l1 -3l1 4.1l1 -2.4l1 -2.4l1 1.4l1 -.2l1 -.6l1 .8l1 .1l1 .5l1 -.4l1 1.2l1 0l1 -.3l1 0l1 -2.7l1 0l1 .5l1 .7l1 -3l1 .7l1 .5l1 2.2l1 -1.9l1 -.5l1 2.8l1 -.3l1 .2l1 2.6l1 -1.8l1 .3l1 1.9l1 1.1l1 -2.6l1 -.2l1 1.2l1 .1l1 .5l1 -.6l1 1.1l1 .3l1 -.6l1 -1.6l1 2.9l1 -3.5l1 1.7l1 1.5l1 -2l1 2.5l1 .8l1 -.4l1 -1.5l1 .7l1 -1.9l1 1.2l1 .1l1 -.5l1 .1l1 -.4l1 -2.3l1 6.1l1 -3.1l1 2.2l1 -1.7l1 -.8l1 1l1 -.3l1 -.8l1 -.5l1 -1.4l1 2.1l1 1.9l1 -4.5l1 1.2l1 2.2l1 -.7l1 .3l1 -3l1 1.7l1 1.4l1 .1l1 -.4l1 -1.5l1 1.9l1 -2.3l1 .4l1 -.3l1 3.3l1 -2.4l1 .6l1 -2.9l1 4.3l1 -.8l1 -2.8l1 .1l1 4.2l1 -3.3l1 3.6l1 -3l1 -2.6l1 4.6l1 -.8l1 .3l1 -1.6l1 .4"/>
<path clip-path="url(#cB)" stroke="#ff0000" d="M210.0 1187.6l1 2.1l1 -8.4l1 2.4l1 .7l1 -.2l1 -1.5l1 .6l1 -2l1 -.1l1 -.8l1 -1.9l1 .2l1 1.5l1 -1.2l1 2.5l1 .3l1 1l1 -1.9l1 2.3l1 -2.4l1 .7l1 1.8l1 .8l1 -1.9l1 .4l1 3.1l1 -1.2l1 3l1 -.8l1 -.1l1 -.4l1 .3l1 -2.2l1 .6l1 -3.3l1 -.7l1 -1.6l1 .9l1 -1.3l1 -1.5l1 3.4l1 -3.4l1 0l1 .4l1 1.4l1 -5.6l1 3.7l1 -1l1 -2.3l1 .3l1 2.5l1 -1.8l1 .1l1 -2.1l1 -.2l1 1.3l1 1.3l1 -1.6l1 .9l1 .8l1 -1.1l1 .6l1 3.9l1 -6.2l1 2.9l1 -2.9l1 3.6l1 .4l1 -.3l1 .1l1 2.1l1 .2l1 1.2l1 -.8l1 2.1l1 -1.9l1 .8l1 -.2l1 2l1 -3.9l1 1.1l1 1.8l1 -2.8l1 -1.1l1 1.5l1 -1.1l1 1l1 -2.7l1 1.1l1 .3l1 .1l1 -3.1l1 3.1l1 -3.2l1 -.9l1 -1.5l1 3.6l1 -.6l1 1l1 .2l1 -.2l1 -.7l1 2.8l1 -5.2l1 .7l1 1.7l1 -.9l1 -1.6l1 2.4l1 .2l1 -2.1l1 4.4l1 .7l1 0l1 -2.2l1 .9l1 -1.5l1 1.8l1 -1.1l1 1.4l1 -.9l1 1.8l1 -.2l1 .5l1 -3.7l1 -.3l1 2.9l1 -1.3l1 1.3l1 -.1l1 -.2l1 1l1 -.5l1 -.1l1 -1.8l1 3.4l1 -2l1 1.2l1 -1l1 1.3l1 -1.5l1 .1l1 -.1l1 -.9l1 .5l1 3.5l1 -2.1l1 -.6l1 4.9l1 -3.8l1 1.5l1 4.1l1 -3.4l1 2.4l1 .4l1 -.7l1 -1.2l1 .2l1 2.2l1 .6l1 -3.4l1 5.1l1 -4.2l1 1.2l1 -1.8l1 -2.2l1 -.3l1 .1l1 1.3l1 2.2l1 -3.1l1 .3l1 1.5l1 0l1 1.8l1 .5l1 .1l1 -.6l1 1.3l1 -2.8l1 2.7l1 1.9l1 -.8l1 -1.3l1 -.1l1 -1.2l1 3l1 .8l1 -2.7l1 .2l1 1.2l1 2l1 -3.4l1 -.8l1 .3l1 -1.6l1 -2.6l1 .6l1 -.6l1 -2.6l1 1.8l1 -2.1l1 3.4l1 -5.3l1 .3l1 -1.2l1 3.2l1 -.5l1 -.1l1 -.4l1 -1.1l1 -.5l1 -3.8l1 2.3l1 -1.6l1 -.2l1 -1.7l1 2.8l1 -2l1 -2.6l1 2l1 -1.3l1 -1.8l1 .4l1 -1.2l1 -2.5l1 .5l1 2.2l1 -.7l1 3.3l1 -6.1l1 .3l1 .5l1 .5l1 -2.4l1 -.6l1 2.5l1 -1.7l1 -.9l1 -.8l1 -.2l1 2.7l1 -1.1l1 -2.2l1 -1.4l1 3.5l1 -.4l1 -.8l1 -.8l1 -3.9l1 .5l1 2l1 -1.5l1 2.4l1 -3.5l1 -.6l1 1.2l1 -1.7l1 .1l1 -.1l1 -.5l1 .7l1 -.1l1 -4l1 1l1 -.9l1 1.5l1 -2.8l1 2.1l1 -.4l1 -.5l1 -2.2l1 .7l1 -1.3l1 1.7l1 .6l1 -3.4l1 .7l1 .7l1 -.7l1 2.5l1 -2.4l1 .3l1 -2.1l1 3.2l1 -2.2l1 .4l1 -1.5l1 -3.5l1 0l1 -.3l1 1.5l1 -2l1 .5l1 -.9l1 -.6l1 .3l1 -1.4l1 -2.8l1 1.1l1 2.8l1 -3.7l1 2.9l1 .2l1 -3l1 1l1 -2.4l1 2.7l1 -2.2l1 -.8l1 3.7l1 -2.8l1 -.3l1 .9l1 -.5l1 -.8l1 2.1l1 1.8l1 -3.1l1 -4.1l1 2.7l1 2.1l1 -1.1l1 .3l1 -2.5l1 1.1l1 0l1 2.8l1 -1.5l1 -2.9l1 4l1 .9l1 .3l1 -5.3l1 3.9l1 .9l1 -.2l1 -1l1 -2l1 1.8l1 .2l1 1.3l1 .1l1 .7l1 -.4l1 -2.4l1 .5l1 .9l1 .7l1 -1.2l1 1.9l1 -1.3l1 -2.1l1 1l1 -1.7l1 -.6l1 -1.1l1 3.2l1 -1.2l1 -3.9l1 3l1 -.8l1 -2.2l1 .5l1 1.8l1 -5.1l1 1.8l1 2.6l1 -5.5l1 -.8l1 -.8l1 1.2l1 .7l1 -2.8l1 -1.2l1 1.5l1 -1.2l1 .7l1 -4.8l1 2.9l1 -.4l1 -.2l1 -1.7l1 -.6l1 3.1l1 1.6l1 .6l1 -7.6l1 1.8l1 -1.6l1 -1.2l1 1.2l1 -.1l1 .8l1 -1.5l1 2.4l1 -1.9l1 .4l1 2.6l1 -3.2l1 -1.2l1 3.5l1 2l1 -2.1l1 .4l1 -1.8l1 .7l1 3.4l1 .1l1 -.1l1 -.4l1 .7l1 1.9l1 3.6l1 2.3l1 .1l1 2.1l1 3.1l1 1.1l1 0l1 1.2l1 0l1 -2l1 2.9l1 0l1 .5l1 1.1l1 -.6l1 2.6l1 -1.4l1 .7l1 .6l1 -.3l1 1.4l1 .6l1 .2l1 -1.3l1 .2l1 .9l1 1.2l1 -2l1 1.8l1 0l1 1.1l1 .1l1 2.7l1 0l1 1.2l1 -2.1l1 .8l1 1.1l1 3.1l1 .6l1 -2.4l1 2.2l1 2.7l1 -3.5l1 1.8l1 2.9l1 .1l1 -1.2l1 4.3l1 .4l1 .7l1 -1.5l1 2.5l1 2.9l1 -.2l1 -1.3l1 1.9l1 3l1 -1.8l1 2l1 -.3l1 -1.2l1 3.7l1 -3.1l1 1.1l1 1.5l1 -1.6l1 -.2l1 2.5l1 0l1 .4l1 1.3l1 2.5l1 .1l1 .5l1 -2.7l1 -.3l1 -3.3l1 1.7l1 2.4l1 .5l1 -1.7l1 1.5l1 .9l1 -1.8l1 -1.3l1 .9l1 .9l1 .8l1 .7l1 -2.1l1 1.3l1 -.3l1 .4l1 1.5l1 .3l1 -2.3l1 -.1l1 0l1 .3l1 .2l1 .4l1 -.4l1 -.6l1 0l1 1.7l1 3.2l1 -2.4l1 3.5l1 -3.5l1 -.5l1 2.9l1 -2.9l1 -.7l1 -.2l1 2l1 -1.4l1 .3l1 .1l1 -2l1 3.6l1 -2.3l1 5.2l1 -6.4l1 1.8l1 2l1 .5l1 -1l1 .8l1 -.2l1 -.3l1 .2l1 -.9l1 -1l1 -.6l1 .8l1 -1.8l1 .6l1 1.3l1 -1.2l1 2.2l1 2.1l1 -.2l1 2l1 1l1 1.1l1 1.5l1 -2l1 -.2l1 1.4l1 -2.1l1 2l1 1.8l1 -1.5l1 .9l1 -.1l1 1.1l1 -.8l1 -.3l1 -4.5l1 3.7l1 1.7l1 -1.1l1 -.7l1 2.2l1 -2.3l1 .8l1 1.4l1 -1.5l1 2.8l1 -2.1l1 -1.5l1 .9l1 .3l1 -.4l1 4.6l1 -3.7l1 -.7l1 -1l1 1.5l1 2.1l1 -2l1 1.4l1 -.4l1 -1.2l1 -.6l1 -.5l1 -.3l1 2.9l1 -2.2l1 -1.2l1 2.2l1 .5l1 1.5l1 -2.7l1 1.4l1 -.4l1 1l1 .3l1 -.5l1 -.1l1 -.8l1 1.3l1 -1.1l1 .5l1 .1l1 -2.1l1 .2l1 1.7l1 -.5l1 1.5l1 -5l1 3.2l1 .9l1 -1.5l1 -1.8l1 1.1l1 -2.6l1 3.1l1 -3.2l1 -5.3l1 6.8l1 -.8l1 -.4l1 -.2l1 0l1 -2l1 .5l1 -1l1 -2.7l1 .5l1 -.4l1 -2.3l1 1.4l1 -4.8l1 2.5l1 -.1l1 -8.1l1 2.7l1 1.6l1 -1.8l1 .1l1 .8l1 -3.7l1 .9l1 -2.2l1 -1.3l1 .6l1 -1.1l1 .2l1 -1.8l1 -.1l1 -1.4l1 -3.8l1 .8l1 -.9l1 .5l1 -3.6l1 .3l1 -2l1 -3.1l1 .9l1 -.1l1 -2.3l1 .8l1 -1.5l1 -.9l1 -3.9l1 5.6l1 -3.9l1 -1.3l1 -2.2l1 .7l1 .2l1 .5l1 -.8l1 -6.1l1 5.3l1 -3.3l1 .9l1 -.5l1 6.6l1 -5.2l1 -.8l1 -1.4l1 2.2l1 -2.2l1 .7l1 .6l1 -2l1 .9l1 -3.5l1 3.2l1 -3.1l1 2.6l1 -.3l1 .1l1 2.3l1 -6.3l1 3.8l1 -1.2l1 1.5l1 -.5l1 .1l1 0l1 2.5l1 .6l1 -1.3l1 4.5l1 -1.1l1 2.2l1 -1.4l1 5.7l1 -2.9l1 2l1 1.3l1 -1.6l1 1.5l1 .9l1 2.2l1 -2.9l1 3.1l1 -.2l1 -1l1 1.7l1 .1l1 2.9l1 -2.1l1 3.1l1 -1.3l1 2l1 -2.5l1 1.8l1 1.7l1 -.9l1 -.3l1 2.6l1 1.5l1 -.6l1 -3l1 4.4l1 -.7l1 2.1l1 .5l1 -2.8l1 3.2l1 -.3l1 -.3l1 .6l1 1l1 .8l1 -.4l1 -2.3l1 2.1l1 -3.9l1 3.4l1 -.2l1 .4l1 -2.3l1 3l1 -.1l1 -1.3l1 -2.1l1 2.4l1 -1.4l1 -.8l1 1.3l1 4.3l1 -4.7l1 1.9l1 1l1 1.5l1 -2.1l1 .5l1 2.9l1 -.4l1 1.7l1 -2.6l1 1.8l1 1.7l1 -.6l1 -1.3l1 1.9l1 -2.4l1 1.7l1 2.1l1 .1l1 -.6l1 .2l1 -3l1 .9l1 2l1 4.1l1 -5.5l1 -2.1l1 -.5l1 2.5l1 -.6l1 -3.4l1 1.4l1 1.2l1 -.3l1 -2.9l1 .1l1 .6l1 -2.3l1 1.6l1 -1.5l1 2.4l1 -2.7l1 1.5l1 -2.2l1 -1l1 1.1l1 1.3l1 1.3l1 -2.6l1 1.2l1 -2.4l1 -.5l1 2.7l1 -1.6l1 .2l1 -1.6l1 3.9l1 -3.4l1 2.3l1 -2l1 1.3l1 2.2l1 -1.5l1 -.2l1 .9l1 -.5l1 1l1 -3.8l1 3.5l1 -1.9l1 -1.6l1 1.9l1 -.3l1 -.9l1 .8l1 .7l1 -4.5l1 1.1l1 1.9l1 -1l1 -1l1 -1.2l1 .5l1 1.2l1 -5.2l1 2.2l1 .9l1 1.8l1 -3.1l1 1.1l1 -2.2l1 -2.1l1 -2.2l1 3.7l1 -2.4l1 0l1 -.5l1 .6l1 -1l1 -.7l1 -1.5l1 -1.2l1 .1l1 -1.8l1 1.1l1 .5l1 -.8l1 -1.1l1 -1.7l1 -.4l1 1.6l1 -1.6l1 .8l1 -.3l1 -.2l1 .3l1 -2.9l1 .7l1 .6l1 .1l1 -2.3l1 -.4l1 2l1 -1l1 -.7l1 -1.4l1 -1.3l1 .9l1 0l1 0l1 .1l1 -1.2l1 1.3l1 -2.2l1 .9l1 -.4l1 -2.3l1 .7l1 1.2l1 1.1l1 .5l1 1.5l1 -1.4l1 0l1 1.2l1 -1.6l1 1.8l1 -.6l1 1.8l1 -.5l1 .8l1 3.5l1 -.6l1 2.3l1 -2.4l1 .1l1 -.1l1 1.7l1 -1.5l1 3.2l1 0l1 -.2l1 .3l1 2l1 1.4l1 -1.7l1 1.7l1 2.8l1 1.2l1 3.1l1 -1.7l1 1.4l1 -1.4l1 1.7l1 -.3l1 3l1 0l1 3.7l1 -1.1l1 -1.3l1 1.2l1 -1.5l1 .9l1 2.7l1 -1.2l1 3l1 -2.3l1 .4l1 4l1 -4.3l1 2l1 1.7l1 .5l1 .3l1 2.5l1 -3l1 -1.6l1 4l1 -1.4l1 1l1 1.2l1 -1.9l1 .6l1 1l1 1.5l1 -2.5l1 3.8l1 -1.2l1 -1.8l1 1.7l1 .8l1 1l1 -.3l1 .4l1 -1.5l1 -1.1l1 -2l1 4.9l1 -1.3l1 2.2l1 -2.7l1 .2l1 .8l1 1l1 -.5l1 .9l1 -1.2l1 1.4l1 2.3l1 -1.9l1 -.8l1 -2.6l1 2.8l1 .6l1 -1.6l1 1.7l1 -4.2l1 2l1 -.2l1 1.9l1 -1.7l1 -1.9l1 5l1 -3.8l1 2.6l1 .9l1 -1.8l1 -.7l1 1l1 -.5l1 -.2l1 1.4l1 -.3l1 4.1l1 -2.3l1 -1.4l1 .6l1 1.5l1 -.6l1 -1.4l1 -1.1l1 3.4l1 -2.3l1 .4l1 1.5l1 -1.5l1 1.5l1 -2l1 .6l1 -.4l1 3l1 -4.6l1 1.7l1 -.9l1 .3l1 -.7l1 .7l1 2.6l1 .4l1 -2.7l1 -.7l1 1l1 2.8l1 -2.1l1 -2.6l1 3.9l1 -1.2l1 1l1 -.2l1 -2.1l1 3.1l1 -.4l1 -1.7l1 -2l1 1.6l1 .1l1 2.5l1 -1.5l1 .4l1 .8l1 -.4l1 1.3l1 .1l1 1.1l1 -2.6l1 2.3l1 -.5l1 3.4l1 -.6l1 -2.2l1 2.1l1 -3.3l1 4.8l1 -2.3l1 .9l1 -1.5l1 1.7l1 1.8l1 -3.5l1 .5l1 2.3l1 1.3l1 -2.7l1 1l1 -.6l1 1.2l1 -.3l1 .7l1 0l1 1.8l1 -3.3l1 -1.5l1 2.7l1 -3.8l1 4.9l1 1.3l1 -3.8l1 4.6l1 -3.4l1 .1l1 -3.3l1 3.5l1 -.2l1 -.2l1 1.2l1 -1.1l1 .7l1 -1.3l1 -.6l1 -.5l1 2.7l1 .1l1 -.7l1 -1.1l1 1l1 -.4l1 2.4l1 -1.6l1 -.7l1 -1.2l1 1l1 1.2l1 1.2l1 -4.3l1 1.9l1 1.2l1 .7l1 -1l1 -1.8l1 .7l1 .6l1 -1l1 -.3l1 -.3l1 5l1 -3.3l1 -.4l1 1.2l1 -.8l1 -.2l1 .4l1 -1.2l1 2.2l1 -.1l1 -.3l1 -2.3l1 3.4l1 -2.4l1 -1.6l1 3l1 -.1l1 -.4l1 -1.7l1 2.8l1 -.8l1 -.2l1 -.2l1 .2l1 2.4l1 -3.5l1 1l1 1.1l1 -.5l1 -2l1 .9l1 -.4l1 -1.3l1 1.6l1 1.5l1 -.9l1 1.1l1 -.9l1 -1.5l1 1.6l1 -2.9l1 3.9l1 -2.2l1 2.7l1 -4l1 .6l1 .6l1 .3l1 -1.8l1 2.9l1 -.2l1 -1.7l1 2.2l1 1l1 -4l1 1.4l1 2.8l1 -.9l1 -3.2l1 2.3l1 1.7l1 -5l1 3.3l1 3.3l1 -4.4l1 -.2l1 1.8l1 -3.1l1 2.8l1 -.9l1 .3l1 -2.1l1 4.1l1 -2.1l1 .7l1 -1.8l1 1l1 1.6l1 -3.5l1 -3l1 2.3l1 3.3l1 0l1 -.1l1 0l1 -.4l1 2.5l1 -4.1l1 1.9l1 -.9l1 2.9l1 -1.8l1 -2.1l1 2.1l1 -.7l1 -1.1l1 1.8l1 -.3l1 -1.8l1 1l1 2.1l1 -.2l1 -1.5l1 -.2l1 .8l1 -.5l1 -1.4l1 2.4l1 -1.9l1 3l1 -1.1l1 .2l1 -1.4l1 .7l1 -1l1 .3l1 -.9l1 3.3l1 -3.4l1 3.7l1 -1.2l1 -2.1l1 2.9l1 -1.2l1 -1.5l1 -1l1 1.6l1 -.5l1 .9l1 .5l1 -.8l1 .4l1 1.1l1 -1.2l1 -.3l1 -1.2l1 1.6l1 -.5l1 .3l1 3.7l1 -2.2l1 -4l1 2.2l1 4.8l1 -3.6l1 -.1l1 -2.2l1 2.3l1 -1.7l1 1.7l1 .2l1 -.3l1 1.3l1 -1.5l1 .4l1 -1.5l1 -2.8l1 3.7l1 .4l1 -.3l1 -2.9l1 4.2l1 -.2l1 -3.5l1 3l1 1l1 -.3l1 3.8l1 -5l1 -.4l1 3.2l1 -1.9l1 1.6l1 -2.2l1 1.3l1 -.1l1 -3.2l1 .5l1 4.7l1 -6l1 2.6l1 .8l1 -2.7l1 4.2l1 -2.3l1 2.8l1 -2l1 -2.5l1 1.9l1 2.1l1 -2.7l1 1.4l1 1l1 .8l1 -3.1l1 2.5l1 -.5l1 -.1l1 .6l1 -.3l1 -2.2l1 2l1 -1.4l1 1.2l1 -.9l1 2.5l1 -.7l1 -.5l1 -1.5l1 1.4l1 -1.9l1 .3l1 -1l1 3.3l1 -1.7l1 1.8l1 .4l1 -.2l1 -1.8l1 4.1l1 -2l1 -3.1l1 2.1l1 -1.5l1 .9l1 1.8l1 -1.2l1 1.7l1 -1.2l1 .1l1 1.2l1 -.5l1 -.5l1 .7l1 -.2l1 -3.3l1 .4l1 1.5l1 1.3l1 -2.7l1 -1.9l1 1l1 -1.9l1 1.4l1 -6.2l1 3l1 -.9l1 -4.6l1 2.6l1 2.3l1 2.8l1 1.6l1 2.6l1 .7l1 -1l1 3.2l1 -1.8l1 -1.5l1 -.9l1 1.8l1 -.3l1 -.3l1 -1.1l1 .7l1 -.5l1 -.9l1 3.2l1 -.2l1 -.7l1 -1.2l1 .5l1 3l1 -6.2l1 5.3l1 -.7l1 .2l1 -1.2l1 .3l1 .2l1 -1.3l1 3.1l1 -2.8l1 1.3l1 2l1 -.3l1 -2.7l1 1.4l1 .7l1 -3.9l1 5.2l1 -2l1 -1l1 .2l1 -2.8l1 3.8l1 1.2l1 -2.3l1 2.3l1 -1.2l1 -4.6l1 4.4l1 -3.4l1 .2l1 3.3l1 -.1l1 -.9l1 0l1 -1.9l1 3.3l1 -1.3l1 -.3l1 5l1 -4.4l1 -.4l1 2.7l1 -2.2l1 -1.1l1 2.7l1 -2.2l1 -.9l1 .6l1 .4l1 1.2l1 .5l1 -3.3l1 3.2l1 -2.5l1 .2l1 -2.8l1 5.5"/>
<path clip-path="url(#cB)" stroke="#0000ff" d="M210.0 1246.8l1 -.5l1 -1.7l1 -1.6l1 -2.1l1 .4l1 .7l1 1l1 -2.9l1 -.6l1 1.1l1 -.5l1 -.5l1 -1.4l1 1.2l1 1.1l1 -2.4l1 1.5l1 -1.4l1 1.3l1 -.1l1 2.6l1 -.7l1 2.5l1 .3l1 0l1 -2.7l1 2.8l1 .7l1 .2l1 -2.2l1 1.3l1 1.7l1 -2.4l1 2.3l1 -2.7l1 .8l1 .9l1 -2.2l1 .4l1 0l1 -.4l1 -2l1 -2.1l1 4.7l1 -4.1l1 2.8l1 -1.3l1 -1.3l1 3.1l1 -2l1 -2.9l1 1.2l1 .2l1 -1.6l1 .6l1 -1.5l1 .5l1 .5l1 -3.1l1 1l1 -1l1 .8l1 -1.5l1 1.2l1 1l1 1.9l1 1l1 -2.6l1 3.7l1 .1l1 -2.8l1 2.5l1 1l1 2.1l1 -.6l1 -4.8l1 3.3l1 -.3l1 1.7l1 -3.4l1 -.8l1 -.3l1 -1.8l1 -1.3l1 -2.5l1 .2l1 -1.7l1 .9l1 -1.6l1 -1.8l1 .3l1 -1.8l1 1.6l1 -1.3l1 1.2l1 -1.7l1 3.1l1 -1.5l1 .8l1 3.6l1 .5l1 2.6l1 3.7l1 -3.1l1 .8l1 1.4l1 .7l1 -.5l1 .3l1 1.4l1 .1l1 -1.8l1 1.5l1 .4l1 2.1l1 -1.4l1 -1.3l1 2.6l1 -.9l1 -.1l1 -.8l1 -.9l1 -.8l1 1.1l1 2l1 -3.3l1 3.9l1 -3.4l1 3.3l1 -2.1l1 2.1l1 -.8l1 -2.2l1 3.6l1 .3l1 -2l1 -.3l1 .2l1 -1.1l1 2.7l1 -2.1l1 .6l1 -.9l1 .4l1 -.6l1 3.6l1 -1.5l1 -.6l1 1.7l1 -.4l1 -2.4l1 3.7l1 1.2l1 .1l1 .6l1 -.9l1 1.1l1 3.6l1 -2.7l1 -.2l1 2l1 1.4l1 -4.2l1 0l1 -2.9l1 -4l1 3.8l1 -5.3l1 -.1l1 -.7l1 2.2l1 -.3l1 1.5l1 3l1 -2.2l1 4.2l1 -1.6l1 1.5l1 -4.3l1 3.4l1 -.2l1 1.4l1 -1.4l1 .1l1 0l1 1.3l1 -.9l1 -.6l1 -1.5l1 -1.4l1 2.6l1 -.5l1 -2.2l1 .1l1 -.6l1 -.9l1 -.9l1 -2.8l1 1.5l1 -4.7l1 1.7l1 -1.5l1 -.4l1 .5l1 -1.3l1 -4.2l1 -1.5l1 2.5l1 -3.1l1 .6l1 .4l1 -3.9l1 -1.2l1 2.6l1 -.8l1 -.8l1 -.1l1 -1.5l1 -1.2l1 1.4l1 -1.4l1 -1.1l1 2.5l1 -1l1 .3l1 -2.1l1 .2l1 -.7l1 -.1l1 1.1l1 -1.5l1 1.2l1 -.3l1 1.9l1 -4.8l1 2.7l1 -1.5l1 -.2l1 1.1l1 -2.2l1 1.3l1 -1.4l1 2.9l1 -3.7l1 1.6l1 1.8l1 -6.7l1 1.6l1 -2l1 -2l1 3.2l1 2l1 -2.1l1 -2l1 -.1l1 2.2l1 -1.8l1 -.7l1 -.7l1 -.4l1 .3l1 -.9l1 -1.2l1 -2.3l1 1.2l1 -2.4l1 1.2l1 -4.4l1 0l1 -1.3l1 -.7l1 0l1 -1.6l1 -3.6l1 .8l1 -1l1 -2.6l1 2l1 -.5l1 .1l1 -1.6l1 .9l1 0l1 1.6l1 -1.3l1 -.7l1 1.5l1 -3.4l1 -.5l1 -2.7l1 3.6l1 -1.7l1 -1l1 -1.2l1 -1.6l1 -.6l1 -1.3l1 -.4l1 0l1 1.7l1 -1.3l1 -.9l1 -.7l1 -.2l1 2.9l1 -1.5l1 -.6l1 -.6l1 -1.1l1 1.4l1 1.1l1 -1.6l1 .1l1 0l1 .4l1 -2.2l1 1.7l1 -.9l1 4.4l1 -4.4l1 1.7l1 1.2l1 -2.5l1 -.5l1 1l1 -.4l1 -1.4l1 1.8l1 1.9l1 -3l1 -.1l1 -1.2l1 1.7l1 -2.2l1 0l1 3l1 -3l1 2.5l1 .4l1 -1.8l1 .2l1 1.7l1 -3l1 -3.7l1 1.8l1 1.7l1 1.7l1 -.9l1 -2.7l1 -.1l1 .3l1 .8l1 2.9l1 -3.6l1 -.1l1 -1.1l1 0l1 0l1 -.7l1 .5l1 1.4l1 -2l1 1.9l1 -5.6l1 2.3l1 -3.5l1 .3l1 2.6l1 -.6l1 -1.6l1 -2.5l1 1.3l1 -1l1 1l1 1.4l1 -3.5l1 -2.1l1 -1.3l1 .6l1 -1l1 -2.1l1 .8l1 -2.4l1 2.2l1 -.7l1 -.5l1 -2.5l1 .9l1 -1.1l1 -.4l1 .1l1 -1l1 .2l1 3.4l1 -.7l1 1.1l1 1.5l1 -3.1l1 1.6l1 1.3l1 .1l1 -1.6l1 1l1 -2.1l1 -2.8l1 -.4l1 1.8l1 -.4l1 -4.6l1 7.7l1 .7l1 3l1 -.1l1 2.3l1 1l1 6.6l1 -2l1 3.4l1 -1.8l1 2.1l1 -1.4l1 2.6l1 2.6l1 -2l1 3.8l1 -.1l1 -1.1l1 1.5l1 .7l1 1.2l1 .1l1 .2l1 1.3l1 -.3l1 .2l1 2.1l1 1.7l1 -2.7l1 2.5l1 -.4l1 0l1 2.8l1 -1.3l1 3l1 -2.5l1 2l1 -.3l1 -.2l1 2.2l1 -.4l1 1.6l1 -.2l1 -.7l1 2.1l1 1l1 2.1l1 -1.6l1 2.1l1 -1.3l1 4l1 -1.3l1 -.1l1 3.2l1 2.3l1 -2.7l1 1.3l1 1.1l1 .1l1 -1.4l1 3.1l1 .7l1 2.2l1 -1.1l1 4.6l1 -3.8l1 .1l1 -.3l1 5.2l1 -2.5l1 1.1l1 -.1l1 .4l1 .1l1 2.6l1 -3.6l1 -.5l1 .8l1 -.3l1 2.9l1 .2l1 -2.2l1 -.4l1 1.4l1 2.4l1 -5.4l1 4.5l1 -2l1 4.9l1 -4.7l1 1.2l1 -1.4l1 .8l1 3.2l1 -.5l1 -1.4l1 -.4l1 -1.1l1 2.3l1 .8l1 .3l1 .4l1 -.9l1 1.8l1 .5l1 2.2l1 -1.7l1 .8l1 -.3l1 1.3l1 -.2l1 .2l1 1.3l1 -.9l1 .2l1 1.7l1 .7l1 -.3l1 -.6l1 -.2l1 1l1 -.4l1 1l1 -2.1l1 0l1 1.9l1 1.4l1 -2.3l1 .4l1 -2.3l1 2.8l1 .1l1 -.4l1 -.5l1 -.5l1 -1.8l1 -.2l1 -1.7l1 -.5l1 -2.8l1 .8l1 -.8l1 -.6l1 .6l1 3.7l1 .6l1 6.6l1 3.4l1 3.2l1 2l1 -.8l1 1l1 1.6l1 .1l1 .1l1 -1.9l1 2.9l1 1.1l1 -3.2l1 2.5l1 -2.2l1 3.5l1 -1.3l1 -2.9l1 3.9l1 -2.3l1 .4l1 1l1 2.6l1 -2l1 -2.9l1 6l1 -.1l1 -.3l1 -1.9l1 -1.2l1 .8l1 1.6l1 0l1 -.3l1 1.3l1 -2.2l1 1l1 1.1l1 -.1l1 .7l1 -.8l1 -.8l1 .9l1 -1.6l1 -.8l1 3l1 -.7l1 .6l1 -2.4l1 1.9l1 -.1l1 -.1l1 -5.4l1 6.6l1 1.9l1 -.4l1 -1l1 1.1l1 1.3l1 -4.3l1 3.7l1 1.2l1 .4l1 1.6l1 -.5l1 -.9l1 .1l1 .8l1 -1.7l1 .7l1 1.3l1 1.3l1 -2.8l1 0l1 .2l1 1.4l1 -2l1 1.8l1 -3.4l1 .7l1 -.3l1 1l1 0l1 -3.6l1 .4l1 1.2l1 -1.7l1 -1.5l1 2.9l1 -1.1l1 -.5l1 -1.7l1 1.5l1 -2.3l1 .9l1 -3.6l1 -1l1 .1l1 -2.4l1 .4l1 -1.9l1 -3l1 -.1l1 -1.9l1 .3l1 -3.2l1 -1l1 1.1l1 .2l1 -1.5l1 -3.7l1 -1l1 .5l1 -3.3l1 -2.3l1 .3l1 -.7l1 -2.7l1 -2.1l1 -.6l1 1.9l1 -2.5l1 .2l1 -.1l1 .2l1 -1.6l1 .8l1 -2.1l1 .5l1 -1.1l1 2.6l1 -1.7l1 -1.1l1 .3l1 3.4l1 -2.5l1 -3.2l1 -1.6l1 2.8l1 3.6l1 -2.3l1 -1.6l1 .8l1 1.6l1 -3.2l1 -.4l1 1.9l1 -1.1l1 0l1 -1.6l1 3l1 -.4l1 -1.6l1 .1l1 -3.6l1 3.4l1 -1l1 .9l1 .6l1 -1l1 -1.3l1 6l1 -3.6l1 1.2l1 3.4l1 -2.1l1 -1.9l1 5.1l1 -.7l1 1.6l1 1.6l1 -2.1l1 -1.9l1 1.6l1 .1l1 1.3l1 1.2l1 -2.2l1 3.5l1 -1.9l1 2.9l1 .1l1 .3l1 1l1 .2l1 .9l1 -.3l1 3.3l1 3.7l1 1.4l1 .3l1 .4l1 -.8l1 3.7l1 -1.2l1 .6l1 .1l1 .9l1 -.3l1 -1.6l1 1.3l1 1.2l1 3.7l1 -2.8l1 0l1 1.2l1 .5l1 -2.2l1 1.5l1 -.1l1 1.2l1 .1l1 2.2l1 -2.6l1 1.4l1 -.4l1 3l1 -4.1l1 2.1l1 .6l1 2l1 .4l1 1.5l1 -3.4l1 3.5l1 -.9l1 -.1l1 2l1 -1.4l1 -1.1l1 2.7l1 -1l1 1.6l1 1.9l1 -3.1l1 5.8l1 -1.7l1 -1.2l1 1.5l1 .4l1 0l1 2.6l1 -1l1 -1.4l1 3.7l1 -.8l1 .7l1 -.4l1 .6l1 -1l1 1.2l1 -3.3l1 1.4l1 -.4l1 -3l1 1.2l1 -.7l1 0l1 -2.6l1 3.4l1 -2.5l1 -2.2l1 -1l1 1.5l1 0l1 -1l1 1l1 -.9l1 1.6l1 1.1l1 -1.8l1 1.4l1 2.2l1 -4.5l1 .8l1 -.3l1 2.2l1 -2.3l1 1l1 .7l1 1.5l1 -2.4l1 .8l1 -2l1 1l1 1.4l1 -2.9l1 3.4l1 -2l1 1.8l1 1.6l1 -.3l1 -.8l1 -1.2l1 1.9l1 -1.7l1 -1l1 .3l1 2.7l1 -1.9l1 .9l1 -2.4l1 1.5l1 -2.3l1 -2.7l1 5.9l1 -2.6l1 -2l1 .1l1 .1l1 .7l1 -2.6l1 -2l1 1.5l1 -.1l1 -.3l1 1.2l1 -1.8l1 .2l1 -3.1l1 2l1 1l1 -2.3l1 -1.3l1 1.7l1 -1.1l1 -4.2l1 .4l1 0l1 -.3l1 -2.2l1 .3l1 -1.4l1 -.2l1 -.9l1 -1.9l1 .8l1 .7l1 -3l1 .5l1 .7l1 -2.7l1 1.2l1 -2.1l1 2.4l1 1l1 -.8l1 -3.4l1 .8l1 -1.3l1 -.4l1 1.5l1 -4.1l1 2.7l1 -1.7l1 1.6l1 -1.9l1 -1.3l1 1.1l1 .5l1 -1l1 .7l1 -1.3l1 -1.9l1 4.2l1 0l1 -.3l1 .2l1 1.7l1 -1.4l1 .1l1 1.2l1 2.3l1 -2.8l1 3.8l1 -1.8l1 -.1l1 3.5l1 -1.2l1 -1l1 1.8l1 2.3l1 1l1 -1.4l1 1.8l1 1l1 -1l1 2l1 .2l1 0l1 .7l1 1.4l1 .6l1 -.1l1 .8l1 6.5l1 -4.4l1 1.5l1 1.1l1 -2.5l1 5.2l1 -3.4l1 2.8l1 -.8l1 3.4l1 .4l1 -4.1l1 1.8l1 2.6l1 .7l1 .3l1 -.7l1 1l1 .6l1 -.7l1 1.6l1 -4l1 4l1 -2l1 2.8l1 -1.3l1 -.7l1 1.8l1 -4.8l1 3.5l1 -.7l1 2.2l1 .8l1 .8l1 -1.3l1 1.6l1 -1.2l1 -.1l1 1l1 .7l1 -1.8l1 -1.9l1 2.3l1 .3l1 -1.2l1 2.5l1 -1.8l1 1.1l1 -1.6l1 1.6l1 0l1 -1l1 3.2l1 -2.1l1 1.8l1 -1l1 -2.1l1 .4l1 1.1l1 -.5l1 -3.4l1 3l1 -2l1 2.1l1 -2.6l1 3.4l1 -1.4l1 0l1 .7l1 .6l1 -2.2l1 -.4l1 .9l1 -1.2l1 1.4l1 3.3l1 -3.4l1 5.6l1 -6l1 2.2l1 -.8l1 .4l1 .8l1 1.5l1 -2l1 -.1l1 -1.4l1 2l1 -1l1 1.4l1 -1.1l1 2.3l1 -4.8l1 2.2l1 1.5l1 -1.6l1 -.6l1 .7l1 -1.4l1 2l1 3l1 -1.7l1 -2.9l1 .3l1 .6l1 1.9l1 -2.4l1 .2l1 2l1 0l1 -1.6l1 -.9l1 -.6l1 1.1l1 -1.9l1 3.8l1 -1.7l1 1.4l1 1.8l1 -.9l1 -3l1 2.7l1 .4l1 -2.5l1 -.2l1 1.1l1 -1.9l1 4l1 -5.1l1 1.8l1 1.1l1 0l1 4.1l1 -3.4l1 -.6l1 1.8l1 -4.2l1 2.8l1 -.9l1 1.1l1 .1l1 -1.4l1 .3l1 1.9l1 -.5l1 -1.3l1 3.5l1 .4l1 -4.9l1 2.3l1 2.9l1 -2.2l1 -.7l1 -.5l1 -.4l1 .4l1 -.4l1 1.7l1 -1.4l1 -.1l1 -.9l1 -1.2l1 1.6l1 1l1 1.6l1 -.9l1 .2l1 -.1l1 -2.5l1 1.9l1 -.2l1 1.4l1 -2.4l1 3.2l1 -1.7l1 -4.1l1 3.4l1 -.2l1 1.1l1 -1.1l1 2.4l1 -2.5l1 1.9l1 -1.8l1 -1.6l1 .3l1 3.7l1 -.5l1 -2.6l1 .8l1 3.3l1 -1.9l1 -.4l1 1.4l1 1.8l1 0l1 -3l1 .3l1 .3l1 -1.6l1 -.6l1 1.5l1 -1.4l1 1.2l1 .2l1 4.8l1 -6.1l1 .9l1 0l1 .7l1 .8l1 -2l1 -.5l1 -1.1l1 .9l1 1.8l1 -.6l1 -1.4l1 .7l1 .5l1 .6l1 -1.5l1 .4l1 -2.1l1 .8l1 3.6l1 -5l1 2.3l1 .7l1 -.8l1 -.6l1 .9l1 0l1 -.2l1 -2.4l1 2.2l1 -1l1 .4l1 .9l1 .5l1 .3l1 -1.9l1 1.8l1 .2l1 -.1l1 .3l1 -2.1l1 -.1l1 1.3l1 -2.9l1 1.9l1 -1l1 .2l1 -1.9l1 1.1l1 1l1 1.2l1 0l1 -1.4l1 -.2l1 -.9l1 1.5l1 -.9l1 1.1l1 1.4l1 -2.3l1 -2l1 .8l1 -.8l1 .3l1 3.2l1 -1.5l1 -2.3l1 2.8l1 .8l1 -2.2l1 -.4l1 .4l1 .8l1 .4l1 .7l1 0l1 3.8l1 -3.7l1 -.9l1 -2.9l1 1.9l1 .5l1 -.9l1 1.7l1 -3.2l1 .8l1 3.1l1 -1l1 -.6l1 .9l1 .2l1 -.9l1 -3.7l1 2.4l1 .3l1 -.7l1 1.5l1 1.4l1 -2.2l1 -.8l1 4.1l1 -3.2l1 -1l1 1.9l1 .3l1 -1.5l1 2l1 -1.6l1 -.6l1 1.5l1 .8l1 -1.8l1 1.3l1 -.6l1 3.9l1 -4.6l1 2.7l1 -1.8l1 -.1l1 1.2l1 .2l1 .5l1 -2.8l1 .5l1 .1l1 1.4l1 .1l1 1.1l1 -1.2l1 .9l1 -1.2l1 .1l1 -2.1l1 .4l1 -.3l1 4l1 -3.2l1 2.8l1 -.8l1 1.5l1 -.9l1 -1.4l1 -.1l1 .4l1 .2l1 -.9l1 .7l1 2.1l1 -4.2l1 2.6l1 -1.5l1 1.4l1 .9l1 -1.1l1 1.1l1 -3l1 3.5l1 -2.2l1 1.7l1 -.6l1 -3.5l1 2.4l1 1.3l1 1.7l1 -1.6l1 0l1 -2.1l1 3.7l1 .5l1 -2.3l1 -.3l1 -1.7l1 3.2l1 2.4l1 -2.5l1 .7l1 -.9l1 -2l1 3.1l1 -3.3l1 1.3l1 .7l1 .8l1 -.6l1 0l1 -1.5l1 -.6l1 1.8l1 -1l1 -.8l1 .1l1 1.1l1 -1.8l1 .7l1 -.3l1 2.3l1 .4l1 2.1l1 -4.6l1 1.1l1 2.1l1 -1.4l1 -.1l1 6.4l1 -6.4l1 -1l1 -.2l1 2.2l1 0l1 -2.2l1 .5l1 2l1 .1l1 -1.5l1 1.6l1 0l1 -3.1l1 2l1 .9l1 -1.2l1 -2l1 2.4l1 1.3l1 1.1l1 -4.8l1 6.2l1 -4.8l1 2.7l1 .4l1 -.4l1 -1l1 -1.7l1 2.3l1 -1.7l1 -2.4l1 7l1 -2.8l1 1.5l1 -3.8l1 2.4l1 -.6l1 -1.1l1 -3.1l1 -2.5l1 .4l1 -3.2l1 .4l1 2.5l1 -.8l1 1.9l1 1.2l1 3.8l1 .3l1 -.8l1 2.4l1 -2.2l1 .6l1 1.6l1 -2.7l1 1.2l1 -1.3l1 1.9l1 2l1 -5.5l1 3.7l1 -1.4l1 -.3l1 -.1l1 3.5l1 4.4l1 -8.9l1 1.7l1 1.9l1 -1.3l1 1.5l1 1.9l1 -2.6l1 .5l1 -1.6l1 .3l1 -1.7l1 1.7l1 -1.3l1 1.7l1 -1.1l1 1.4l1 .5l1 -2.4l1 .8l1 -.2l1 2.2l1 1.3l1 -1.1l1 -1.6l1 2.4l1 -3.9l1 .6l1 .5l1 -2.7l1 9.7l1 -4l1 -3.4l1 1.6l1 -.5l1 .4l1 -2.1l1 1.1l1 1.5l1 -.3l1 1.2l1 -1.4l1 .1l1 -1.2l1 1.3l1 -2.8l1 .9l1 3.3l1 -2.9l1 1.9l1 -.8l1 -1.3l1 .9l1 -2.4l1 2.3l1 1.6l1 -.2l1 -1.6l1 -.4l1 1.6"/>
<path clip-path="url(#cB)" stroke="#ff00ff" d="M210.0 1374.1l1 -4.8l1 -6l1 -3.2l1 -8.5l1 1.3l1 -7.9l1 -.7l1 -3.5l1 .8l1 -5.6l1 -1.7l1 4.3l1 5.5l1 .3l1 6.6l1 1.7l1 6.1l1 -1.3l1 4.2l1 4.2l1 2.4l1 -1.7l1 5.4l1 -.1l1 -.3l1 -.2l1 .1l1 -5l1 5.6l1 -6.2l1 -4.3l1 2.4l1 -1.6l1 -9.8l1 -.2l1 -1l1 -5.2l1 -3.4l1 2.3l1 4.6l1 -4.6l1 -3.8l1 -4.2l1 -3.2l1 -6.1l1 -3.8l1 -6l1 -10.2l1 -3.8l1 -5.8l1 -.4l1 -5.1l1 -3.1l1 2.6l1 -10.4l1 -6.5l1 -3.6l1 -9.5l1 -7.8l1 -5.7l1 -7.2l1 -.8l1 -5.8l1 3.2l1 -3.3l1 2.1l1 2.8l1 5.4l1 2.9l1 8.4l1 2.4l1 5.2l1 3.3l1 -4.7l1 .9l1 1l1 -10.3l1 -17.8l1 -21.8l1 -11.3l1 -30.8l1 -25.9l1 -26.7l1 -17.1l1 -19.2l1 -13.8l1 -13.6l1 -6.1l1 -5.5l1 3.7l1 6.3l1 13.7l1 12.5l1 10.5l1 17.1l1 17l1 15l1 14.7l1 13.5l1 15.6l1 6.5l1 14.9l1 8l1 10.3l1 7.4l1 4.1l1 11.3l1 .7l1 1.3l1 5.7l1 7.6l1 8.2l1 4.2l1 12.3l1 3.3l1 6.9l1 7.3l1 5.4l1 -.3l1 2.2l1 4.8l1 -4.2l1 2.7l1 -.1l1 1.6l1 -1.5l1 -1.1l1 1.6l1 -4.1l1 2.9l1 -3.9l1 -1.2l1 .9l1 2.4l1 4.4l1 2l1 5.8l1 3.6l1 -.1l1 .1l1 5.4l1 .2l1 -3.4l1 3.6l1 3.5l1 -1.9l1 2.5l1 -1.1l1 5.2l1 .6l1 .8l1 3.4l1 -2.6l1 1.2l1 5.9l1 -7.7l1 4.8l1 -.1l1 3.9l1 4.2l1 -6.5l1 .1l1 5.6l1 -6.7l1 -.1l1 .5l1 -3.4l1 5.4l1 2.2l1 -.2l1 1l1 .9l1 3.8l1 -6.4l1 8.1l1 2.9l1 -2.4l1 6.8l1 .5l1 1.3l1 .7l1 1.3l1 .1l1 -2.7l1 2.1l1 .1l1 .6l1 -3.5l1 5.5l1 .7l1 .2l1 .3l1 -1.6l1 -4.9l1 -1.5l1 -1l1 -2l1 -8.9l1 -3.4l1 -1.7l1 -6.6l1 .7l1 -4.6l1 -3.5l1 -1.8l1 -.3l1 -5.6l1 2.2l1 -.7l1 -8.3l1 -1.4l1 -.2l1 -7.1l1 -4.5l1 -3.6l1 2.3l1 -.9l1 -2l1 -1.5l1 .9l1 8.1l1 .3l1 6.7l1 1.8l1 .4l1 6.7l1 4.7l1 -4.7l1 6.8l1 7l1 -4.5l1 3.7l1 6.5l1 -3.1l1 2.7l1 1.1l1 5.5l1 3l1 .9l1 .8l1 3.9l1 -.3l1 .2l1 8.3l1 -4.3l1 3.7l1 .4l1 1.8l1 -6.6l1 -1.7l1 -5.5l1 2.3l1 -.9l1 -.4l1 -3.9l1 1.7l1 -2.8l1 .3l1 .1l1 1.9l1 -4.5l1 -.3l1 -4.5l1 -2.6l1 -3.7l1 -2.4l1 -4.2l1 -3.5l1 1.1l1 -5.8l1 -.1l1 -4.7l1 -2.8l1 -4.6l1 -3.7l1 -9.6l1 -6.7l1 -10.7l1 -6.1l1 -.3l1 -7.3l1 3.4l1 5.1l1 8.6l1 -.1l1 7l1 6l1 1l1 5.5l1 9.7l1 2.8l1 10.8l1 15.2l1 3.1l1 8l1 1.9l1 -1.8l1 6.4l1 1.6l1 .8l1 5.5l1 -4.1l1 2.4l1 2.5l1 3l1 -2.4l1 -.6l1 -.2l1 -1.8l1 2.1l1 -1.7l1 1.2l1 1.2l1 -2.6l1 -.2l1 -.4l1 0l1 -1.6l1 .6l1 2.4l1 -2.3l1 8.1l1 -8.4l1 2.3l1 -4.3l1 2.2l1 -3.2l1 2.9l1 2.4l1 -3.5l1 -2.8l1 1.9l1 -3.1l1 .7l1 2.4l1 -2.5l1 -1l1 -2.4l1 -2.5l1 -4.8l1 .2l1 -2.2l1 .2l1 -1.6l1 -.6l1 -7l1 3.2l1 -1.1l1 -7.7l1 -1.5l1 -1.2l1 -2.9l1 -1.8l1 .3l1 -1.2l1 1l1 -2.3l1 1.8l1 8.9l1 -4.1l1 6.8l1 3.8l1 4.3l1 1.9l1 6.6l1 1.8l1 1.2l1 -.5l1 2.6l1 -1l1 -2l1 2.4l1 -.6l1 -.6l1 -2.6l1 -1.8l1 1.7l1 -1.6l1 2.1l1 -4.4l1 -.3l1 -.9l1 1.7l1 -5.1l1 -2l1 -1.9l1 4l1 -5.1l1 -1.1l1 2.6l1 -6.9l1 1.2l1 -3.3l1 .8l1 -2.4l1 .6l1 -5.8l1 -3.4l1 -4.5l1 -6.7l1 -.6l1 -7.4l1 -5.5l1 -11.3l1 .8l1 -3.3l1 -1.7l1 .4l1 -3.8l1 4.2l1 -3.7l1 -1.1l1 -7l1 -.1l1 5.4l1 -1.3l1 -3.2l1 -3.8l1 0l1 2.9l1 1.8l1 10.6l1 6.1l1 5.1l1 4l1 5.7l1 6l1 -.7l1 6.8l1 2.6l1 4.1l1 .6l1 1.1l1 4l1 3.9l1 1.5l1 1.5l1 3.6l1 -.8l1 5l1 3.5l1 2.2l1 2.8l1 4.2l1 2.9l1 3.6l1 -6.4l1 -2.5l1 1.2l1 -4.2l1 -4.3l1 2.1l1 -6.4l1 -3.1l1 .6l1 -6.5l1 .8l1 -2.4l1 7.1l1 -3.7l1 -.4l1 -.1l1 3.1l1 2.6l1 -.4l1 -1.8l1 2.8l1 -2.1l1 6.8l1 -1l1 -.6l1 .5l1 -1.4l1 1.2l1 2.6l1 -1.7l1 1.7l1 -.2l1 .8l1 1.2l1 2.6l1 -1.4l1 3.2l1 2.2l1 -2.5l1 .5l1 3.7l1 -2l1 3.3l1 -.4l1 -.8l1 -2.9l1 4.7l1 -3.5l1 2.5l1 -2.2l1 -.1l1 2l1 -4.8l1 -1.6l1 1.5l1 -9.3l1 -1.7l1 -8.4l1 -8.9l1 -6l1 -4.6l1 -5.5l1 -.2l1 4.1l1 -.6l1 6.2l1 2.6l1 3l1 11.3l1 7.7l1 2.3l1 2.7l1 .7l1 -4.1l1 8.6l1 -2.7l1 3.7l1 -1.6l1 -.7l1 3.3l1 -.7l1 3.2l1 -3.8l1 .4l1 -.1l1 -.9l1 2.5l1 1.9l1 -5.8l1 -5.2l1 .9l1 -2.9l1 -3.1l1 -4.3l1 2.7l1 -1.7l1 -7.9l1 1.1l1 -.3l1 -2.6l1 -6.9l1 -10.4l1 2.5l1 -5.8l1 -3.2l1 -6l1 -3.5l1 1.9l1 1l1 .7l1 3.8l1 3.2l1 1.1l1 8l1 1.5l1 4.3l1 5.3l1 .4l1 6.5l1 .9l1 6.4l1 5.4l1 2.6l1 3.6l1 5.5l1 1.7l1 .6l1 7.6l1 -.4l1 1.4l1 -2.2l1 0l1 -.5l1 -2.3l1 2.7l1 1.9l1 .8l1 -7.9l1 2.7l1 -1.5l1 -.9l1 -1.1l1 -.1l1 .8l1 -5.4l1 4.6l1 -2.5l1 -1.6l1 -2l1 -.2l1 3.3l1 -2.3l1 -.3l1 1l1 .8l1 -1.3l1 -1.7l1 .5l1 .3l1 -2.5l1 3.1l1 -.1l1 -.8l1 -4.2l1 -.9l1 -2l1 3.8l1 -4.5l1 4.6l1 -8.9l1 4.1l1 .2l1 -1.1l1 1.2l1 3l1 -3.8l1 2l1 -2.3l1 -1.3l1 .6l1 4l1 -.9l1 -3.6l1 3.2l1 0l1 -1l1 .4l1 -6.2l1 0l1 -1.3l1 1.4l1 1.3l1 -4.6l1 .4l1 -.2l1 -3.9l1 -2.6l1 .6l1 2.6l1 -1.9l1 -4.7l1 -1.2l1 3.7l1 -6.6l1 2.7l1 -4.8l1 -3.9l1 1.9l1 -7l1 -7.3l1 -2l1 -3.1l1 -4.5l1 2.8l1 1.1l1 -6l1 3l1 -4.4l1 2.5l1 -2.7l1 .2l1 1.3l1 3.3l1 -.3l1 -2l1 -.3l1 .8l1 5.4l1 -4.9l1 -1l1 -.8l1 -.1l1 1.3l1 -.9l1 -6.8l1 7.9l1 -4.3l1 -2.2l1 4.6l1 -9.6l1 -.7l1 3.1l1 -3.9l1 0l1 -1l1 -.5l1 -3.7l1 -3.8l1 -2.9l1 3.2l1 -3.7l1 3.8l1 -1.3l1 2.9l1 1.2l1 -.8l1 -2l1 3.8l1 -.7l1 3.3l1 0l1 7l1 -4.4l1 -1.6l1 2.8l1 2.2l1 3.6l1 -6.7l1 -11.8l1 .1l1 -5.3l1 -2.6l1 3l1 -2.7l1 -3.9l1 -1.8l1 .1l1 -2.2l1 -7.4l1 -7.3l1 .8l1 -5.4l1 -3.7l1 2l1 -.2l1 .9l1 -3l1 2.1l1 -1.1l1 6.3l1 -.6l1 8l1 3.2l1 2.8l1 8.3l1 9.1l1 -3.7l1 .3l1 3.8l1 1.9l1 2.1l1 -1.2l1 -2.2l1 3.5l1 2.8l1 -.9l1 2.4l1 -1l1 .9l1 1.4l1 3.3l1 .1l1 .9l1 3.6l1 .5l1 8.7l1 -5.4l1 4.9l1 6.1l1 .2l1 1l1 3.3l1 -1.2l1 2.9l1 1.7l1 5.2l1 .5l1 3l1 -2.8l1 2l1 -2.5l1 6.1l1 -3.8l1 6.8l1 2.2l1 .5l1 -1.1l1 3.5l1 -2.9l1 5.7l1 3.6l1 .9l1 .5l1 4.6l1 -.8l1 .3l1 1.4l1 -1.7l1 2.5l1 -3l1 -3.1l1 7.4l1 3.1l1 -3.6l1 3.5l1 -3.8l1 3.8l1 .5l1 .3l1 -4.2l1 5.9l1 .4l1 -.1l1 3.5l1 -5.3l1 .8l1 1.7l1 -5.6l1 .3l1 3.4l1 -3.5l1 -1.6l1 2.1l1 -4.2l1 2.6l1 -2.7l1 .7l1 -4l1 5.8l1 -2.8l1 2l1 -1l1 1.8l1 2.5l1 -1.2l1 -3.2l1 1.9l1 1.6l1 -1l1 -2.7l1 4.7l1 -4.6l1 -.4l1 2.7l1 2.6l1 -6.7l1 3.6l1 1.2l1 4.3l1 -12l1 9.1l1 -3.5l1 1l1 2.7l1 -1.6l1 -.2l1 -.1l1 -.2l1 1.2l1 -2.2l1 .4l1 .5l1 .5l1 -4.4l1 4.4l1 0l1 -1.1l1 -2.5l1 -2.3l1 .9l1 -.2l1 .2l1 1.6l1 -2.7l1 -2.5l1 .4l1 -.3l1 -1l1 -2.3l1 -1.9l1 1.8l1 .6l1 -1.3l1 -4.2l1 1.2l1 -.3l1 -5l1 4l1 -1.5l1 2.9l1 -3.2l1 4.6l1 -1.2l1 -1.1l1 -.2l1 2.4l1 -3.4l1 1.7l1 -1.2l1 3.7l1 -3.5l1 .2l1 -4.6l1 5.9l1 -1.1l1 2l1 -3.9l1 1.4l1 4.5l1 -4l1 2.1l1 1.6l1 -1.5l1 .2l1 2.5l1 -3.3l1 2.4l1 -1.5l1 -1.5l1 2.6l1 2.8l1 -2.8l1 -.8l1 1.1l1 -.3l1 2.2l1 -2.9l1 6.4l1 -3.2l1 1.8l1 -3.2l1 2.9l1 -3.7l1 3.3l1 -1.5l1 -1.6l1 4l1 1.5l1 .9l1 -2.4l1 -.9l1 4l1 -4.2l1 3l1 -2.4l1 4.2l1 1.2l1 -.4l1 3.9l1 -1.3l1 2.2l1 1.1l1 -.2l1 -.4l1 2.3l1 2.5l1 -1l1 3.5l1 -1.9l1 5.5l1 1l1 .5l1 -1.1l1 2.1l1 -2.6l1 1.5l1 2.9l1 -1.7l1 1.3l1 .9l1 2.5l1 -3.1l1 .6l1 0l1 -1.6l1 3.9l1 -4.3l1 0l1 7l1 -2.5l1 -4.4l1 2.6l1 5.5l1 -3.8l1 4.4l1 -4.8l1 -3.6l1 5.5l1 -1l1 1.2l1 -2.6l1 0l1 1l1 -.8l1 3.9l1 .5l1 -2.6l1 .8l1 -1.6l1 .8l1 -2.7l1 5.9l1 -3.6l1 3.6l1 2.8l1 -4.2l1 -.6l1 -2.5l1 3.8l1 -.5l1 .9l1 -1.5l1 -3.2l1 .1l1 4.1l1 1.4l1 -3.9l1 .4l1 .7l1 -.3l1 .1l1 -1.2l1 .8l1 -1.6l1 .8l1 1.5l1 -1.3l1 -1.5l1 1.8l1 -2.9l1 .8l1 -.9l1 2.6l1 .6l1 -2.1l1 -4.9l1 6.3l1 -.5l1 -3.8l1 5l1 -.2l1 -6.2l1 4.1l1 -.2l1 -.9l1 1.8l1 -2.4l1 .7l1 .8l1 -3.7l1 2.3l1 -1.6l1 1.5l1 -.2l1 .6l1 .6l1 -2.4l1 2.6l1 -4.1l1 5.2l1 -2l1 4.6l1 -8.3l1 6.5l1 -3.3l1 1.2l1 -.4l1 -.4l1 -.8l1 -3l1 6.5l1 1.2l1 -4.9l1 3.9l1 -.8l1 -1.2l1 -.9l1 1.5l1 -2.5l1 .6l1 -.4l1 -.4l1 -2l1 4.7l1 .1l1 -5.3l1 .2l1 3.4l1 -3.1l1 5.8l1 -4.5l1 4.5l1 -6.9l1 3.1l1 3.1l1 -.7l1 .2l1 -1.1l1 1.8l1 -1.6l1 .6l1 -2.2l1 -.1l1 4.3l1 .1l1 -9.9l1 6l1 3.6l1 -2.3l1 1.8l1 -5.6l1 4l1 -.3l1 .1l1 -1.5l1 1.3l1 5.2l1 -7.3l1 2l1 -.5l1 .1l1 7.3l1 -3.5l1 -4l1 1.9l1 -2.7l1 2.5l1 -1.3l1 4l1 -1.8l1 -2.8l1 -1.2l1 1.7l1 6.9l1 -5.9l1 -.5l1 1.9l1 .7l1 2.7l1 -2.4l1 5.3l1 -3l1 1l1 2.6l1 -2.2l1 .6l1 .9l1 -2.5l1 .6l1 2.6l1 -2.8l1 .5l1 3.1l1 -.7l1 -.6l1 -3l1 6.3l1 -4.4l1 -.4l1 .2l1 1.7l1 -2.1l1 4.5l1 -7.2l1 7.5l1 -6.6l1 -.1l1 4.6l1 .9l1 -4.7l1 2.3l1 -3.3l1 .7l1 -.9l1 1.7l1 -1.7l1 1.5l1 -1.1l1 .6l1 0l1 -1.6l1 .5l1 -1.7l1 5.6l1 -2l1 -2.4l1 0l1 -.6l1 .1l1 1l1 -3.8l1 .4l1 2.9l1 1.5l1 -3.3l1 2.9l1 .2l1 -1.8l1 4.1l1 -4.8l1 .3l1 -2.6l1 .1l1 2.1l1 .8l1 -1.7l1 .2l1 .2l1 1.2l1 -5l1 4.8l1 -3.3l1 2.5l1 .5l1 -4.5l1 4.9l1 -2.2l1 -1.3l1 4.6l1 -6.3l1 3.1l1 -.3l1 .4l1 -1.4l1 1.5l1 -5.9l1 6.6l1 -1.7l1 -2.5l1 -.3l1 3.3l1 3.4l1 -5.7l1 1.5l1 -.2l1 2.1l1 -4l1 3.8l1 -1.8l1 -.1l1 .9l1 -2l1 -1.9l1 -.5l1 5.3l1 -5.5l1 5.5l1 -3.5l1 3.6l1 -4.1l1 2.5l1 -.3l1 -2l1 .8l1 1.7l1 2.2l1 -5.9l1 4.8l1 -4.2l1 4.1l1 -2.8l1 3.7l1 -3.4l1 -.5l1 3l1 -2.6l1 .1l1 2.3l1 1l1 -1.2l1 -5.5l1 4.5l1 -.1l1 1.1l1 .4l1 0l1 -1.1l1 3.1l1 -4.4l1 -1l1 -1.2l1 1.8l1 2.3l1 -1.5l1 2.8l1 -2.9l1 -1l1 4.1l1 -3.4l1 5.3l1 -9.4l1 1.8l1 5.2l1 -4.6l1 2.5l1 -.3l1 .3l1 -2.2l1 0l1 3.1l1 1.7l1 -3.6l1 2.5l1 -3.5l1 -1.2l1 3.2l1 1.7l1 -5.3l1 2.3l1 2.4l1 -1.7l1 -.1l1 2.2l1 -1.1l1 -2.5l1 1.3l1 1.6l1 .7l1 1.7l1 -8.9l1 6.5l1 1.3l1 -3.3l1 3.2l1 -2.5l1 2.9l1 2l1 -3.7l1 5l1 -4.4l1 -4.7l1 4.1l1 1.2l1 .2l1 -.4l1 .9l1 -1l1 3.1l1 -1.9l1 -.9l1 4.1l1 -6.2l1 -1.1l1 2.4l1 -3.6l1 6.2l1 -1.6l1 4.9l1 -6l1 -.4l1 3.8l1 0l1 .1l1 -2.4l1 0l1 2.3l1 -1.3l1 1.5l1 1.1l1 -2.7l1 1.8l1 -5l1 7.1l1 0l1 -5.1l1 -1.1l1 3.6l1 .3l1 -.5l1 -1.1l1 1.9l1 1.9l1 -6.2l1 4.6l1 -2.3l1 -.5l1 2.2l1 -4.3l1 3.6l1 2.6l1 .1l1 -.3l1 -3.2l1 3.6l1 -1.3l1 .7l1 3.1l1 -1l1 -.9l1 -.2l1 -4.7l1 3.5l1 -.2l1 -1.4l1 -.9l1 3.3l1 -1.1l1 -.8l1 -1.5l1 .6l1 .4l1 1.1l1 1.8l1 -3.9l1 -5.5l1 3.7l1 -.7l1 -3.4l1 -.6l1 3.4l1 2.6l1 .7l1 3.7l1 -2l1 1.4l1 -1.2l1 3.8l1 -1.5l1 .7l1 -5.7l1 4.1l1 1.2l1 .4l1 -2l1 .2l1 2l1 -3l1 1.6l1 -1.9l1 .7l1 2.8l1 -5.1l1 -1.5l1 0l1 5.6l1 -.2l1 5.3l1 -6.5l1 -1l1 4l1 -.8l1 -2l1 3.1l1 -7.9l1 6.4l1 -2.5l1 -.1l1 -.5l1 2.8l1 -2.8l1 2.4l1 3.1l1 -4.9l1 1.7l1 -4.2l1 1.3l1 .3l1 2.5l1 -1.5l1 1.4l1 -.4l1 -1.2l1 3.2l1 -5.7l1 7l1 -4.1l1 4.6l1 -2.5l1 -1.2l1 -3.2l1 .8l1 3.9l1 -2.8l1 3.3l1 -4.4l1 4.7l1 -2.2l1 .9l1 -2.6l1 .9l1 1.9l1 -.7l1 -2.3l1 2.3l1 -3.3l1 3.1l1 1l1 -5.9l1 4.1"/>
<path clip-path="url(#cC)" stroke="#000000" d="M210.0 1815.6l1 -1.9l1 -6.1l1 -.9l1 -3.8l1 -7.7l1 -8.2l1 -.7l1 -2.3l1 -.3l1 -.8l1 5.5l1 -.9l1 4.2l1 -1.2l1 .3l1 -.1l1 3.8l1 -1.3l1 3.8l1 -1.3l1 2l1 -.7l1 6.9l1 -.2l1 3.2l1 4.5l1 -.6l1 .9l1 -7.1l1 -4.1l1 -8.6l1 -9.1l1 -7.6l1 -9.9l1 -6.8l1 -8.3l1 -3.2l1 -2.9l1 -2.6l1 -2l1 -.8l1 -7.9l1 -5.2l1 -3.3l1 .8l1 3l1 9.5l1 2.5l1 6.1l1 8.6l1 9.2l1 5.9l1 3.9l1 1.4l1 -4.6l1 -8.4l1 -14.3l1 -9.1l1 -7.5l1 -5.3l1 -5.5l1 -6l1 4.5l1 1.1l1 1.6l1 4.7l1 6.2l1 5.6l1 7.2l1 5.8l1 5.1l1 -.8l1 2.4l1 .7l1 2.4l1 1.5l1 -1l1 3.3l1 2.8l1 1.8l1 -1.3l1 3.1l1 .1l1 -1.2l1 2.3l1 -5.3l1 -.4l1 -2.6l1 -5.7l1 -6.6l1 -3.1l1 -3.2l1 -3.5l1 1.6l1 -7l1 -2.1l1 5.1l1 -2l1 7.1l1 .2l1 3.8l1 3.6l1 6.4l1 3.4l1 8.3l1 3.8l1 1.9l1 6.9l1 3.5l1 1.8l1 4.1l1 -.3l1 -3.3l1 2.1l1 -8.1l1 1.8l1 -6.8l1 1.3l1 -.1l1 -1.9l1 -2l1 2.9l1 -3.1l1 1.9l1 5.4l1 -1.4l1 2.3l1 .2l1 -3.4l1 -2.8l1 -3.6l1 -2.8l1 -.4l1 -1.1l1 -1.3l1 .3l1 -2.5l1 -1l1 -1.6l1 .4l1 -1.2l1 -4.2l1 -5l1 -.7l1 -1.2l1 -1.7l1 -.5l1 1.8l1 1.2l1 -1.3l1 4.1l1 .4l1 3.1l1 3.3l1 2.9l1 .6l1 .1l1 1.2l1 2l1 -1l1 2.8l1 7l1 9.5l1 -3.5l1 -4.7l1 -6.1l1 -8.4l1 -7.3l1 1.9l1 3.7l1 5.6l1 8.7l1 6.6l1 11.1l1 4.4l1 .9l1 -1.1l1 -5.5l1 -8.7l1 -10.6l1 -8.1l1 .2l1 -7.3l1 1.6l1 4.2l1 3.2l1 6.7l1 1.3l1 6l1 1.1l1 8.1l1 5.6l1 1l1 1.4l1 -.6l1 -2l1 -4.5l1 -8.5l1 -4.3l1 -15.6l1 -17.4l1 -19.5l1 -13.2l1 -13.7l1 -10.2l1 -9.2l1 -5.4l1 -1.3l1 -3.5l1 -1.1l1 .7l1 -2.3l1 3.1l1 -1.9l1 2.8l1 -2.9l1 5.2l1 2.8l1 3.9l1 5.8l1 10.8l1 14.9l1 18.4l1 14.2l1 5.6l1 10.1l1 7.2l1 5.1l1 9.7l1 6l1 2.7l1 4.1l1 3.8l1 2.9l1 2.1l1 -.3l1 2.1l1 3l1 2.7l1 1.2l1 2l1 2.2l1 .4l1 -1.1l1 -2.8l1 -3.8l1 1.9l1 -2.6l1 -3.1l1 -8.2l1 -12.8l1 -16.1l1 -10.2l1 3.1l1 1.7l1 7.6l1 2.6l1 1.9l1 3l1 .5l1 -1.5l1 -7.6l1 -8.2l1 -12.8l1 -22.9l1 -43.8l1 -39.4l1 -30.4l1 -25.1l1 -24.2l1 -15l1 -18.5l1 -14l1 -4l1 -1.3l1 10.3l1 13.5l1 18.8l1 19.9l1 32.2l1 36.4l1 29.2l1 16.1l1 15.8l1 10l1 3.3l1 5.3l1 -1.8l1 -14.2l1 -16.2l1 -18.7l1 -21.9l1 -23.2l1 -37.3l1 -47.8l1 -37.9l1 -30.7l1 -10.4l1 12.4l1 26.3l1 28.3l1 42.5l1 36.5l1 30.3l1 24.9l1 23.3l1 3.3l1 2.4l1 -.9l1 4.1l1 .7l1 3.4l1 9.2l1 6l1 5.7l1 4.4l1 1.8l1 -.6l1 -7.2l1 -8.3l1 -8.3l1 -16.1l1 -14.3l1 -5.2l1 .8l1 8.9l1 8.1l1 6.1l1 10.4l1 3.8l1 -4.2l1 -.7l1 .2l1 -2.4l1 -15l1 -13.8l1 -17l1 -11.5l1 1.3l1 .1l1 1.5l1 .8l1 2.4l1 5.9l1 7.2l1 8.8l1 13l1 14.4l1 10.1l1 6.6l1 -1.3l1 -1.1l1 -13l1 -13.2l1 -23.3l1 -31.6l1 -28.1l1 -28l1 -25.8l1 -32.4l1 -35.1l1 8.5l1 23.4l1 33.7l1 30.8l1 39.7l1 47.4l1 24.1l1 11.3l1 8.7l1 7.7l1 2.6l1 6.7l1 1.8l1 2.8l1 -3.1l1 -4.7l1 -5.5l1 -7.3l1 -7.2l1 -7.4l1 -5.4l1 -4.5l1 -7.4l1 .8l1 -1.4l1 .1l1 0l1 -3.4l1 2l1 .6l1 -2.2l1 4.4l1 -.9l1 4.9l1 -1l1 1l1 -3.1l1 -3.6l1 -2.3l1 -9.3l1 -13.6l1 -15.4l1 -10.6l1 -15l1 -5.1l1 -7.8l1 3.3l1 14l1 17.4l1 30.1l1 29.9l1 25.5l1 12.2l1 6.8l1 8l1 9.6l1 1l1 2.8l1 -3.1l1 2l1 -.4l1 -3.8l1 .4l1 8.3l1 2.3l1 2.7l1 .6l1 3l1 -4.7l1 -3.2l1 7.8l1 -4.8l1 2.6l1 .1l1 -2.8l1 -1.2l1 -2.5l1 -1.8l1 -1l1 1.4l1 -3.9l1 .1l1 -4.9l1 -2.1l1 .3l1 -1.3l1 1.1l1 -2.6l1 .6l1 7.2l1 .1l1 -2.3l1 5.4l1 -4.7l1 3.3l1 -2.1l1 -5.8l1 -14.3l1 -4.4l1 .4l1 -3.2l1 .4l1 -2.9l1 -2.7l1 -.3l1 -4.2l1 -12.2l1 -6.5l1 -6.5l1 2.7l1 -1.2l1 4.4l1 2.1l1 20.9l1 6l1 .6l1 -1.1l1 -3l1 -.6l1 -1.6l1 3.4l1 13.7l1 13.3l1 8.7l1 10.4l1 6l1 10.2l1 2.7l1 1.9l1 -3.7l1 -6.5l1 -1.2l1 -1.4l1 1.3l1 -2l1 3.3l1 4.6l1 4.7l1 -5.2l1 -.2l1 -6.7l1 -5.8l1 -3.6l1 -6.4l1 -3.2l1 -1.9l1 1.9l1 5.8l1 .2l1 3.8l1 6.3l1 -.1l1 7.7l1 3.3l1 4.2l1 1.2l1 1.1l1 .8l1 -1.2l1 -2.5l1 -.5l1 -3.4l1 -2.5l1 6.5l1 3.9l1 1.4l1 2.3l1 4.3l1 4.1l1 -1.9l1 1l1 -2l1 -6.4l1 -1l1 -7.2l1 -4.4l1 -10.7l1 -6.6l1 -6.8l1 -8.8l1 -5.2l1 -10.5l1 -3.4l1 -6.6l1 .6l1 2.6l1 3.1l1 3.2l1 7.2l1 7.7l1 7.9l1 10.3l1 8.4l1 6.4l1 3.8l1 6.5l1 3.3l1 4.8l1 5.5l1 2.6l1 6.1l1 .5l1 4.2l1 3.3l1 -.1l1 -1.9l1 .2l1 -1.4l1 -1.1l1 -4.4l1 .5l1 -2.5l1 -1.3l1 1.2l1 -1.9l1 -1.6l1 .8l1 -2.3l1 -1.9l1 1.9l1 -3l1 -1.4l1 -2.9l1 -4.2l1 -3.2l1 -5l1 -3.1l1 2.3l1 2.5l1 1.4l1 2.3l1 1l1 3.4l1 3.1l1 1.4l1 -1.4l1 -1.1l1 -3.6l1 -2.4l1 -8.1l1 -9.1l1 -4.6l1 -11.5l1 -8.6l1 -2.2l1 -4.4l1 .2l1 -3.1l1 .2l1 2.1l1 3l1 3.8l1 7.1l1 6.3l1 5.8l1 -2.4l1 9l1 2.5l1 -1.6l1 -2.9l1 -1l1 -8.7l1 -4.5l1 -7.3l1 -13.5l1 -16.7l1 -9l1 -5l1 .1l1 -5l1 5.4l1 6.5l1 11.9l1 9.6l1 1.2l1 5.5l1 -.2l1 1.4l1 3.5l1 1.9l1 .6l1 1.6l1 .7l1 -2.5l1 1.4l1 1.9l1 -7.6l1 -10.5l1 -14l1 -5l1 -9.3l1 -8.6l1 -6.5l1 -10.6l1 -11.6l1 -14.1l1 -10l1 -10.4l1 -4.2l1 -3.3l1 -.7l1 3l1 3.7l1 1.8l1 3l1 2.6l1 -2.6l1 .6l1 -3.4l1 -6.6l1 -3.8l1 -8.5l1 -10.2l1 -8.7l1 -6l1 -4l1 -1.2l1 .6l1 -1.9l1 .3l1 3.3l1 4.8l1 2.6l1 3.5l1 5.4l1 3.3l1 8.2l1 -.9l1 3.4l1 -1.4l1 -1l1 6.4l1 .5l1 .9l1 -2.9l1 3.3l1 -.2l1 -1.4l1 3.5l1 -2.2l1 .7l1 -.5l1 -2.8l1 -5.3l1 -13.3l1 -8l1 -12.3l1 -12.8l1 -10.9l1 -8.2l1 -5.4l1 -2.6l1 -1.5l1 4.1l1 -1.3l1 8.3l1 8.7l1 8.2l1 10.8l1 15.2l1 12.1l1 22l1 13.2l1 11.6l1 9.2l1 5.7l1 3.5l1 1l1 1.8l1 1l1 -.5l1 1.1l1 -.2l1 3.4l1 -.4l1 -.5l1 .6l1 .6l1 .9l1 1.8l1 4.1l1 -2.5l1 2.8l1 1.2l1 2.3l1 2.3l1 2.2l1 2.9l1 6.5l1 7.1l1 1.6l1 2.2l1 -.1l1 -2.3l1 -1.2l1 -6.1l1 -1.9l1 -3.6l1 -6.1l1 1.3l1 -2.4l1 -2l1 -1.7l1 -7.5l1 -1l1 -7.6l1 -16.8l1 -13.7l1 -8l1 -9.8l1 -2.6l1 -5.5l1 -.3l1 -1.6l1 -1.6l1 -2.8l1 .6l1 -1l1 1.5l1 3.6l1 -3.2l1 3.8l1 -.1l1 8.2l1 10.9l1 6.4l1 7.8l1 4.9l1 9.6l1 8.6l1 10l1 13.5l1 6l1 8.5l1 4.7l1 6.8l1 3.6l1 .7l1 2.3l1 .1l1 5.3l1 3.6l1 4.2l1 7.5l1 4.1l1 3.8l1 2.5l1 1.6l1 3.4l1 1.1l1 1.9l1 -3.1l1 -2.1l1 1l1 .2l1 -2l1 .1l1 -3.3l1 -4.2l1 -3.9l1 0l1 2.9l1 7l1 2.5l1 2.7l1 -.6l1 4.1l1 2.8l1 -4.9l1 6.9l1 .7l1 3.4l1 1.8l1 -2.2l1 -.1l1 -1.7l1 -1.5l1 .1l1 -2.3l1 -.3l1 -.1l1 -1.3l1 2.1l1 -.9l1 .1l1 -1.1l1 -3.2l1 .7l1 -3.6l1 -2.4l1 3l1 -3.4l1 -2.7l1 .8l1 -.4l1 -1.8l1 -1.4l1 1.2l1 -.9l1 -.6l1 -3.4l1 2.4l1 1.8l1 -4.6l1 .3l1 -1.3l1 -3l1 -5l1 .6l1 -3.8l1 1.9l1 -3.7l1 1.7l1 -1.4l1 -1.2l1 -.2l1 -.3l1 -3.2l1 -1.7l1 -2.6l1 -3.7l1 1.9l1 3.5l1 -3.4l1 .4l1 1.5l1 1.3l1 2.4l1 -.7l1 3l1 .3l1 2.4l1 -.4l1 2.2l1 .4l1 1l1 .7l1 2.2l1 .4l1 -.3l1 .3l1 -2.6l1 2.7l1 -2l1 -4.6l1 -5.6l1 -7.3l1 -12.1l1 -20.4l1 -24.9l1 -13l1 -9.8l1 -4.9l1 2.2l1 2.1l1 7.5l1 18.2l1 28.2l1 17.4l1 4.3l1 10.3l1 11.1l1 7.3l1 3.7l1 3.7l1 2.5l1 4.1l1 -1l1 3.1l1 .5l1 -1.6l1 5.7l1 3.5l1 -1.4l1 2.6l1 .3l1 .9l1 -.7l1 3l1 -1.3l1 2.9l1 2l1 1l1 -.4l1 1.8l1 -.2l1 3.4l1 -1.5l1 6.2l1 -1.5l1 -.1l1 3.5l1 -2.6l1 3.9l1 -1.6l1 1.8l1 .2l1 .7l1 -2.5l1 5.6l1 .2l1 3.3l1 -2l1 -3.6l1 2.5l1 3.4l1 -2.1l1 .4l1 -2.5l1 2l1 -1.4l1 1.2l1 -.5l1 2l1 -.3l1 .8l1 -6.4l1 4.2l1 1l1 -.4l1 .2l1 1.9l1 2.6l1 -1.9l1 2.2l1 -6.8l1 8.7l1 1l1 -1.8l1 -.1l1 5.8l1 -5.8l1 3.4l1 -1.8l1 5.5l1 -1.1l1 .2l1 1l1 3.4l1 -1.4l1 -.7l1 2.4l1 -3.2l1 3.3l1 .3l1 -2l1 2l1 .7l1 -3.1l1 .2l1 2l1 .1l1 -1.9l1 -2.9l1 2.2l1 3.7l1 -2.1l1 -.4l1 1.7l1 -2.7l1 5.2l1 -5.5l1 2.3l1 .7l1 .3l1 -2.3l1 .9l1 1.8l1 -1.3l1 .7l1 -.8l1 0l1 -1.5l1 -.5l1 1l1 -1.2l1 3.2l1 -1l1 .5l1 -3.7l1 .1l1 2.4l1 -.8l1 -.1l1 .8l1 -2.7l1 -.5l1 .3l1 1.6l1 -1.3l1 -1.4l1 2.3l1 -1.3l1 -.6l1 -.9l1 -1.5l1 2.2l1 -3.7l1 -.4l1 .2l1 .7l1 2.2l1 -1.7l1 .7l1 .1l1 1l1 1.8l1 -1.8l1 .9l1 2.5l1 -3.9l1 2.6l1 .1l1 -.3l1 1.5l1 1.5l1 -2.8l1 -.1l1 .9l1 -2.3l1 1l1 .9l1 -.1l1 -1.2l1 2.3l1 -2.9l1 .6l1 -.4l1 1.8l1 .6l1 -1.2l1 1.6l1 -2l1 .6l1 -1.4l1 1.2l1 .1l1 -1.7l1 -1.5l1 1.8l1 0l1 -.1l1 -1.3l1 -.5l1 4l1 -1.9l1 -.8l1 -.4l1 -1.3l1 .4l1 1.5l1 -.3l1 -2.2l1 0l1 -.1l1 -.2l1 2.1l1 3.5l1 -4l1 -1l1 2.6l1 -1.3l1 -3.1l1 5.2l1 -1.1l1 -.8l1 2.7l1 -4.5l1 2.3l1 1.9l1 -1.7l1 .3l1 3.5l1 -2.1l1 0l1 2.1l1 -1.3l1 -2l1 1.1l1 -.7l1 2l1 -.4l1 1.7l1 -1.4l1 -1.2l1 -.4l1 3.5l1 -.2l1 -2.6l1 -.8l1 0l1 3.4l1 -1.7l1 2.9l1 -2.9l1 .2l1 .2l1 1.1l1 1.5l1 -3.4l1 2.2l1 .9l1 -2l1 -.3l1 1.9l1 -2.2l1 .4l1 -.9l1 .6l1 1l1 .1l1 -.8l1 .4l1 -1.8l1 4.3l1 -4.1l1 2.1l1 -1.8l1 1l1 -2.6l1 1.7l1 -.8l1 2l1 -.3l1 -1.4l1 -.1l1 1.8l1 -1.2l1 1.3l1 -.4l1 -1l1 .2l1 -2.1l1 2.3l1 -.3l1 .3l1 1.9l1 -1.8l1 -.2l1 -.1l1 -.6l1 2.4l1 -1.9l1 1.6l1 -.8l1 -1.9l1 1.2l1 1.2l1 -2l1 .5l1 -.4l1 0l1 1.2l1 -2.1l1 .6l1 .6l1 -3.6l1 2.9l1 .5l1 .4l1 -1.4l1 -.4l1 5.7l1 -5.5l1 1.5l1 -.5l1 -1.1l1 .3l1 -.4l1 2.3l1 -1.1l1 -2.5l1 4.7l1 -.7l1 -.1l1 -2.9l1 .6l1 -.1l1 2.6l1 -1.8l1 .3l1 -.7l1 -1.5l1 3l1 1.7l1 -3.2l1 -.8l1 .3l1 0l1 -1l1 1.2l1 .2l1 -1.5l1 2.5l1 -1.1l1 -.9l1 1.6l1 2l1 -.2l1 -.4l1 .1l1 -.2l1 -.3l1 .2l1 1.5l1 -3.1l1 1.6l1 -2.9l1 2.7l1 1l1 -2.3l1 2.7l1 -3.4l1 3.2l1 -2.3l1 .9l1 -1l1 1.3l1 -1l1 1.7l1 -1.4l1 .3l1 -.6l1 -.7l1 .4l1 .3l1 -1.4l1 1.2l1 .1l1 .3l1 .3l1 -2.1l1 3.1l1 1.9l1 -2.9l1 -2.5l1 3.5l1 -1l1 -.2l1 .5l1 -2.6l1 2.1l1 1l1 -.3l1 -.8l1 1.4l1 .7l1 .1l1 -3l1 1.4l1 .7l1 -.5l1 -.4l1 1.7l1 -4.5l1 3.6l1 -2.5l1 .1l1 1.2l1 .8l1 1l1 -2.2l1 3.1l1 -1.8l1 -.9l1 1.4l1 .2l1 -2.5l1 -1l1 -.8l1 -.5l1 -2.4l1 -.8l1 -.6l1 -1.1l1 .2l1 -1.5l1 -1.5l1 2.2l1 .8l1 3.5l1 -.3l1 0l1 -.3l1 -.1l1 1.5l1 2.2l1 -.2l1 -.6l1 1.9l1 -1l1 1.4l1 1.9l1 -1.3l1 -4.4l1 4.7l1 -2.2l1 1.1l1 .1l1 -.2l1 -2.6l1 4l1 -2.9l1 0l1 1.5l1 .6l1 -1.6l1 -3.2l1 4.4l1 -.9l1 1.5l1 .5l1 -3.2l1 -.1l1 1.4l1 -.9l1 3.3l1 -2.1l1 .1l1 .1l1 1.6l1 -1.4l1 .5l1 -1.9l1 1.8l1 -1.5l1 -.2l1 -.1l1 2.3l1 -2l1 .9l1 -.4l1 .5l1 -1.5l1 -1l1 1.1l1 0l1 -2l1 .2l1 .3l1 -3.9l1 4.5l1 -.3l1 -.3l1 1.8l1 -3.3l1 3.8l1 1.1l1 .9l1 .5l1 2.2l1 -1.4l1 -1.7l1 -1.1l1 .7l1 .8l1 .7l1 -3.7l1 3.8l1 -1l1 .2l1 1l1 -.8l1 -.5l1 .2l1 1.3l1 -1.3l1 .3l1 2.7l1 -4.9l1 2.9l1 1.2l1 .8l1 -1.4l1 -2.5l1 4.8l1 -4.3l1 -2.9l1 3l1 3l1 -2l1 -2.4l1 4.9l1 -4.4l1 4.4l1 -5.7l1 3.1l1 .3l1 -.9l1 .7l1 1.5l1 -1.1l1 .7l1 -.8l1 .1l1 -1l1 .7l1 1.2l1 .3l1 -2.9l1 .7l1 1l1 -.4l1 -.9l1 -1.6l1 3.1l1 -1.3l1 3.6l1 -1.2l1 -.9l1 -2.3l1 .8l1 2.4l1 -2.5l1 .7l1 .9l1 .2l1 -1.2l1 1.1l1 -2.9l1 2.2l1 -.1l1 2.3l1 -1.6"/>
<path clip-path="url(#cC)" stroke="#ff0000" d="M210.0 1896.6l1 -1.1l1 -1.8l1 -.2l1 -2.1l1 -.7l1 0l1 -.6l1 -.7l1 -1.2l1 -.4l1 -.1l1 -2l1 3l1 -1.2l1 3.8l1 -2.1l1 -2.8l1 2.5l1 1.6l1 -.7l1 3.7l1 -.5l1 3.3l1 .2l1 -1.4l1 2.3l1 1.7l1 -.8l1 -3.9l1 -.6l1 -3.9l1 .7l1 -2.3l1 -1.3l1 .5l1 -2.8l1 -.9l1 -.6l1 -2.1l1 -1.5l1 .9l1 -.8l1 -1l1 -1.8l1 1.7l1 -1.4l1 -1.5l1 4.9l1 1.9l1 0l1 2l1 -2.2l1 -1.7l1 -.8l1 -5.9l1 -1.1l1 -1l1 -1l1 -2.5l1 -1l1 0l1 1.3l1 1.3l1 -2.5l1 -.4l1 2.7l1 .4l1 .3l1 3.4l1 2.1l1 .2l1 4.9l1 .4l1 .2l1 -.4l1 2l1 -1.5l1 .8l1 -2.2l1 -.9l1 -.5l1 -2.6l1 -6.2l1 -.7l1 .6l1 -2.9l1 -4.2l1 .7l1 2.4l1 -1.2l1 4l1 -1.1l1 -.3l1 .3l1 .2l1 1.3l1 1.5l1 -.4l1 3.6l1 -.3l1 2.8l1 .3l1 -.3l1 3.8l1 3.4l1 -.5l1 3.1l1 -.9l1 .9l1 -1.1l1 4.6l1 -1.8l1 1l1 -1.6l1 -.9l1 3.8l1 -2l1 3.7l1 -1.7l1 3.1l1 -2.4l1 -.6l1 3.8l1 2.1l1 -2.1l1 1.5l1 -2.5l1 -1l1 -.6l1 -1.6l1 -1.2l1 -.3l1 -.3l1 .2l1 -1.1l1 1.4l1 1.2l1 -1.3l1 .8l1 -1.7l1 1.5l1 -1.3l1 .1l1 -1.2l1 1.7l1 .2l1 1.9l1 -2.4l1 2.6l1 -5.1l1 2.9l1 .3l1 .7l1 .6l1 1.5l1 3.1l1 -1.4l1 2.6l1 -.7l1 1l1 -2.5l1 3.7l1 1l1 -2.1l1 .7l1 -.4l1 3.9l1 -4l1 .3l1 -2.5l1 1.4l1 2.3l1 -1.9l1 -1.9l1 5.3l1 -1.9l1 -.5l1 -1l1 -2.5l1 3l1 -5.6l1 .2l1 -3l1 .4l1 -1.1l1 2.4l1 -.5l1 -.5l1 -.9l1 3.6l1 2.6l1 -1.5l1 -.9l1 1.2l1 .4l1 -.9l1 2.4l1 -7.3l1 -2.5l1 -5.3l1 1.7l1 -7.1l1 -2.6l1 -3.6l1 -5.3l1 -1.4l1 -.4l1 -2.1l1 -1.3l1 -.9l1 -1.3l1 0l1 .2l1 -.3l1 .7l1 -1.4l1 -.4l1 2.3l1 .2l1 1.9l1 .2l1 1.8l1 4.1l1 1l1 2.3l1 4.8l1 1.8l1 5.4l1 -4.2l1 1.3l1 -.3l1 -2.1l1 4.4l1 -.7l1 .8l1 -3.4l1 2.1l1 -.1l1 -2.2l1 2.6l1 -1.4l1 1.4l1 -2.8l1 1l1 .3l1 -1.6l1 -2.3l1 2.8l1 -3.7l1 -1.2l1 -.7l1 -2.5l1 -2l1 -2.5l1 2.5l1 -1.2l1 -.5l1 1.2l1 -.7l1 -3.2l1 1.6l1 -1.7l1 -1.4l1 -9.4l1 -9l1 -10.4l1 -6.1l1 -6.8l1 -5.9l1 -5.5l1 -2.2l1 -5l1 1.6l1 -3.4l1 6.5l1 4.8l1 2.5l1 6.7l1 .9l1 9.5l1 5.8l1 3.9l1 -.9l1 -.3l1 3.4l1 1.5l1 2.1l1 -1.3l1 -2.9l1 -2.6l1 -6.5l1 -9l1 -6.2l1 -6l1 -4.4l1 -11.2l1 -4.9l1 -1.4l1 2.4l1 1.8l1 5.3l1 6.4l1 12.5l1 6.9l1 2.8l1 1.7l1 -.7l1 1.7l1 2.5l1 .7l1 3.7l1 -4.7l1 3.4l1 1.2l1 -2.5l1 .2l1 -.9l1 -1.8l1 -.4l1 -6.4l1 -2.9l1 .3l1 1.3l1 .2l1 1.2l1 -1.8l1 1.4l1 1.7l1 1.1l1 2.1l1 -3.3l1 1.9l1 -2.5l1 -.8l1 -3.9l1 -3.4l1 2.8l1 -2.5l1 -6.5l1 2.8l1 -2l1 1.8l1 1.1l1 -.4l1 4.6l1 -.6l1 4.2l1 -.1l1 1.1l1 .4l1 2.5l1 -4.3l1 -1.2l1 -2.1l1 -.5l1 -3.5l1 -8.5l1 -9.6l1 -11.6l1 -1.2l1 -1.5l1 8.6l1 2.4l1 8.5l1 5.3l1 4.6l1 3l1 2.2l1 2.5l1 3.5l1 1.5l1 1.2l1 .6l1 -4.8l1 -3l1 -.6l1 -.3l1 -3.8l1 -3.6l1 3.4l1 -2.4l1 -3.5l1 0l1 .4l1 -1.6l1 -2.2l1 2.5l1 -1.1l1 1.6l1 -2l1 2.4l1 -2.1l1 -.1l1 1.3l1 .5l1 1.8l1 1.3l1 -6.4l1 2.2l1 -4.4l1 -1.3l1 -5l1 -1.7l1 -1.2l1 -5.2l1 -2.6l1 .9l1 1.7l1 4.6l1 4.7l1 7.9l1 3.3l1 6.8l1 5l1 3.4l1 5.8l1 -1.5l1 3.4l1 -1.3l1 1.4l1 3.1l1 1.1l1 1.1l1 -1.1l1 1.6l1 -1.1l1 3.3l1 -2.3l1 1.4l1 .5l1 -1.3l1 1.8l1 -.2l1 1.2l1 -1.7l1 4.5l1 -1.5l1 1.7l1 -2.1l1 1.6l1 3.6l1 -.4l1 -2.7l1 2.5l1 .3l1 -.1l1 4.3l1 -4l1 3.9l1 -3.8l1 4.3l1 -2.1l1 -1.9l1 3.6l1 3.4l1 -4.4l1 2.7l1 -3.4l1 3.7l1 -.7l1 1.5l1 -2.9l1 1.6l1 -2l1 1.7l1 -.8l1 .6l1 -2.8l1 2.2l1 -.2l1 1.4l1 -2.4l1 .4l1 1.9l1 3.4l1 -4.4l1 4.6l1 3.1l1 -.1l1 -.3l1 3.6l1 2.2l1 .5l1 3.4l1 .9l1 3.9l1 2.7l1 3.9l1 -1.2l1 1.1l1 -1.3l1 -1.8l1 0l1 2.5l1 -3.1l1 0l1 3.3l1 -2.3l1 -.4l1 3.6l1 -3.6l1 .9l1 -2.2l1 -1.3l1 -1.5l1 .1l1 0l1 -3l1 3.8l1 -1.3l1 1.3l1 2.4l1 -.2l1 .9l1 4.2l1 -1.8l1 -1.5l1 -1.1l1 5l1 -.2l1 2.8l1 -3.4l1 .2l1 1.9l1 1.9l1 .4l1 -1.6l1 -.8l1 1.2l1 1.8l1 -2l1 -.6l1 .9l1 -.8l1 -.7l1 1.9l1 -2.6l1 -1.5l1 -1.4l1 -.7l1 4.3l1 -4.6l1 -2.8l1 -.8l1 -.6l1 -1.6l1 2.1l1 -2.6l1 1.8l1 2l1 -1.2l1 1.7l1 2.5l1 2.5l1 1.1l1 1.4l1 3.2l1 -.4l1 1.8l1 3.6l1 1.1l1 2.7l1 1.5l1 -1.9l1 -.7l1 4l1 -.3l1 .9l1 -2.8l1 4.3l1 -1l1 1.2l1 .7l1 -.9l1 -.2l1 -.9l1 4l1 -5.9l1 1.8l1 -3.8l1 -2.6l1 4.3l1 -3.6l1 1.6l1 -2.4l1 1.5l1 -2.6l1 1.6l1 5l1 .3l1 0l1 2.1l1 -2.2l1 3.2l1 -1.5l1 0l1 2.6l1 -3.4l1 -1l1 -1.5l1 1.4l1 -1.1l1 -2.7l1 -1.8l1 1.1l1 -.1l1 -6.4l1 7.3l1 -2.5l1 1.9l1 -.2l1 1.1l1 6.3l1 -5.2l1 1.3l1 3.1l1 1l1 -1.4l1 1.2l1 -3.3l1 1.5l1 -2.1l1 -1.3l1 .2l1 -2.1l1 -2.5l1 0l1 -2.3l1 .9l1 .9l1 -.1l1 -2.3l1 1l1 1.6l1 .4l1 -1.3l1 1.8l1 .6l1 1.9l1 -1.4l1 -.3l1 -1.5l1 -.7l1 2.4l1 -1.9l1 -1.7l1 4.4l1 -5.3l1 -2.1l1 2.8l1 -7.8l1 -1.3l1 -3.1l1 -3.1l1 -1.5l1 -1.7l1 .9l1 -2.6l1 -2.5l1 .6l1 -2.4l1 -2.8l1 -1.6l1 -2l1 -1.4l1 1l1 -3.4l1 1.2l1 -3.3l1 1.7l1 -4l1 -1.2l1 -6.3l1 -.5l1 -4.3l1 .1l1 1l1 -3.5l1 .9l1 2.5l1 -.4l1 -.6l1 .9l1 -.7l1 1.6l1 -2.6l1 -.9l1 5.6l1 -2.1l1 .7l1 -1.5l1 -.9l1 -.9l1 -2.1l1 4.8l1 -3.2l1 1.3l1 .4l1 -2.2l1 1l1 .4l1 -2.1l1 2.5l1 -9.2l1 2.3l1 -1.4l1 -4.2l1 1.6l1 -4.9l1 1.5l1 .4l1 -2.9l1 3.1l1 -1.8l1 -1.5l1 3.1l1 1.1l1 3.5l1 1.1l1 3.7l1 5.6l1 2.4l1 3.7l1 .4l1 5.8l1 -2.8l1 -.6l1 5.1l1 -1.2l1 1.6l1 -.1l1 -.8l1 .6l1 -.4l1 3.4l1 -.7l1 -2.3l1 3.3l1 -.2l1 -2.3l1 1.7l1 2.8l1 1.5l1 4.1l1 -.8l1 3l1 -.4l1 3.5l1 -1l1 .7l1 1.2l1 .6l1 -1.6l1 3.6l1 -2l1 2.8l1 -.1l1 -.1l1 -1.8l1 .8l1 .2l1 -2.1l1 -1.7l1 3.6l1 -3.1l1 -.9l1 -1.2l1 -1.2l1 -2.9l1 1l1 -1.1l1 -.7l1 2.8l1 -3.3l1 -.6l1 .6l1 -1l1 2.9l1 .3l1 -2.2l1 2.8l1 .2l1 3.1l1 -1.2l1 -2.5l1 2.9l1 3.8l1 2.1l1 3.2l1 0l1 2l1 2.9l1 .1l1 .4l1 4.3l1 -2l1 1.5l1 .1l1 3.2l1 -.8l1 3.3l1 -1.3l1 4.3l1 -2.3l1 1.6l1 1.5l1 -2l1 .7l1 -5.2l1 4.1l1 2l1 -2.6l1 2.1l1 -.8l1 -2.3l1 3.4l1 -2.4l1 1.8l1 -2l1 1.6l1 -1.2l1 2.1l1 1.1l1 .3l1 -.6l1 -.1l1 -.9l1 .2l1 -.7l1 3.8l1 -2.8l1 -.2l1 .3l1 -1.4l1 3l1 -2.9l1 -.8l1 3.4l1 -1l1 -.9l1 -1.7l1 2.3l1 -2.1l1 .1l1 .8l1 -1.7l1 -1.2l1 -2.6l1 3.9l1 -4.9l1 1.5l1 -.7l1 0l1 -.2l1 .7l1 -1.5l1 -3.5l1 3.2l1 -1.9l1 .7l1 -1.5l1 1.1l1 -.5l1 1l1 -.9l1 .3l1 -3.6l1 3.1l1 -3.1l1 .5l1 -.5l1 -.8l1 -2l1 -2.5l1 2l1 -.2l1 -.9l1 -.8l1 0l1 -1.3l1 -2.1l1 1.2l1 -2.7l1 1.2l1 0l1 1.1l1 -2l1 0l1 -.6l1 1.2l1 -3l1 1l1 3.1l1 -.7l1 -.9l1 -.6l1 -1.5l1 -1.4l1 2.2l1 -2.4l1 2.3l1 -1.5l1 -2.9l1 1.2l1 -3.7l1 0l1 .8l1 -3.7l1 -1.1l1 -3.1l1 -3.9l1 -2.6l1 -4.6l1 -2.3l1 -2.1l1 5.3l1 4.6l1 6.2l1 1.7l1 4.2l1 3.7l1 -1.9l1 .2l1 2.8l1 -2.2l1 2.2l1 2.5l1 -.8l1 1l1 2.4l1 -1l1 1l1 -1.6l1 4.4l1 -2.8l1 1.5l1 0l1 .3l1 -.9l1 1.9l1 1.2l1 2.4l1 -.7l1 .2l1 1.7l1 1l1 2.8l1 -.8l1 2.7l1 -1.1l1 -.8l1 1.7l1 1l1 .1l1 1.7l1 1.6l1 -3.1l1 -1.9l1 4.9l1 1.9l1 -2.6l1 4l1 1.1l1 0l1 -.8l1 -1.6l1 1.4l1 .2l1 1.3l1 1.3l1 -.1l1 -1.5l1 2.6l1 .6l1 -2.4l1 .2l1 .9l1 1.3l1 -1.4l1 3l1 -3.3l1 3.2l1 -1.6l1 -.2l1 4.1l1 -.1l1 -1.5l1 .9l1 -2.2l1 -.1l1 .8l1 .9l1 -.7l1 -1.4l1 -.5l1 2.5l1 -.5l1 3.7l1 -4.1l1 -.4l1 2.2l1 -1.3l1 .5l1 1.3l1 -2.5l1 .7l1 -.2l1 0l1 0l1 .6l1 2.1l1 -1.9l1 -1.1l1 1.2l1 -.7l1 1l1 -.1l1 -1l1 .7l1 1.1l1 1l1 -1.8l1 1.8l1 -.4l1 -3.1l1 1l1 -3.5l1 2.7l1 -1.3l1 1.4l1 1.1l1 -.6l1 .8l1 -1.2l1 1.1l1 -.5l1 .1l1 .7l1 -2.2l1 3.2l1 -2.4l1 .3l1 -.8l1 -.4l1 -1.3l1 1l1 -1.3l1 .1l1 3.5l1 -2.1l1 -.4l1 -1.1l1 1.2l1 0l1 .7l1 -1.1l1 .4l1 1.3l1 -2.6l1 2.4l1 -3.5l1 1.7l1 1.9l1 -1.3l1 1.7l1 -2.2l1 1.9l1 -3.8l1 1.4l1 1.3l1 -1.7l1 -1.1l1 3.7l1 1.3l1 -1.8l1 -2.1l1 1.8l1 -1.7l1 -.9l1 3.5l1 .1l1 -.5l1 -1.8l1 -1.6l1 4.2l1 -.8l1 1.5l1 -3.4l1 -.9l1 4.3l1 .9l1 -.6l1 -.5l1 -.5l1 .6l1 2.4l1 -.3l1 -.7l1 -4.4l1 4l1 -4.6l1 3.4l1 -.8l1 2.4l1 -1.7l1 -.5l1 2l1 -2.6l1 0l1 2.8l1 -1.1l1 -.4l1 -1l1 .7l1 -.3l1 .9l1 -.1l1 -2.4l1 2.1l1 2.1l1 -1.1l1 -.3l1 -.7l1 .6l1 -.4l1 .3l1 .3l1 -1.4l1 0l1 -2.3l1 1.7l1 1.6l1 2.6l1 .1l1 -3l1 -3.6l1 4.3l1 .1l1 1.5l1 -2.9l1 .6l1 .1l1 .4l1 -1.7l1 2.2l1 -1.4l1 1.1l1 -.3l1 -2.8l1 3.2l1 .4l1 -2l1 .1l1 -.6l1 1.5l1 -3.2l1 2.6l1 1.1l1 .3l1 1l1 0l1 0l1 -1.6l1 2.8l1 -4.8l1 1.5l1 .8l1 -.5l1 -.8l1 2.4l1 1.3l1 -2.8l1 2.1l1 -1l1 -2l1 1.4l1 -1l1 2.4l1 0l1 -.9l1 -1.1l1 1l1 -.2l1 1.2l1 -.2l1 -.5l1 -2.7l1 2.5l1 .5l1 -1.9l1 -.8l1 2.1l1 -2.6l1 .9l1 .2l1 -.9l1 -1.3l1 4.8l1 -2.8l1 -1.4l1 4.1l1 -2.1l1 1.5l1 .2l1 -3.3l1 2.1l1 .1l1 -2.2l1 -.2l1 2.7l1 -1.3l1 -1.7l1 .3l1 -2.6l1 2.7l1 3.4l1 .3l1 -1.8l1 -3.6l1 1l1 .7l1 3.8l1 -1.2l1 -3l1 .6l1 1.9l1 -1.9l1 -.1l1 1.2l1 .4l1 -1l1 2.8l1 -2.8l1 -.6l1 -2l1 .9l1 1.3l1 -.2l1 -1.5l1 5.4l1 -3l1 -.3l1 -.7l1 0l1 -2.5l1 2.7l1 -1.4l1 -.5l1 .6l1 1.2l1 .4l1 -.7l1 -.4l1 -1l1 2.5l1 -2.3l1 -.3l1 0l1 2l1 2.9l1 -2.5l1 -1.1l1 0l1 1.8l1 -3.6l1 2.8l1 -.7l1 -.9l1 -.5l1 -.9l1 0l1 .5l1 1l1 3.1l1 -3.5l1 .6l1 -.4l1 -1.3l1 .7l1 3.1l1 -1.9l1 -2l1 -.8l1 4.5l1 -2.2l1 -1.3l1 2.7l1 -1.3l1 -.5l1 .7l1 4.2l1 -5.3l1 2.2l1 -.8l1 -.9l1 2.8l1 .2l1 -2l1 -.8l1 -1l1 2.1l1 -1.7l1 3.7l1 -.2l1 -2.7l1 0l1 -.3l1 3.4l1 -3.7l1 -1.7l1 2.1l1 -3.3l1 6.6l1 -2.3l1 .8l1 -.4l1 .1l1 2.8l1 -.1l1 -1.6l1 -1.5l1 4l1 -2.8l1 -1.3l1 .2l1 1.2l1 .9l1 -4.5l1 4.2l1 -.5l1 .9l1 -1.8l1 2.5l1 -1.8l1 2.1l1 1.6l1 -2.6l1 .2l1 0l1 -2.6l1 2.9l1 -2.6l1 -1.3l1 3.3l1 1l1 -2l1 1.6l1 1.3l1 -3.8l1 3.5l1 -1.8l1 -1.1l1 1.9l1 -3.7l1 2.3l1 .9l1 -.1l1 1.9l1 -3.1l1 2l1 -.9l1 1.2l1 -.4l1 .9l1 -1.6l1 2l1 -1.8l1 -1l1 1l1 .2l1 -.8l1 -.9l1 1.5l1 -1.7l1 2.9l1 2.1l1 -2.5l1 -2.7l1 .5l1 1.3l1 .6l1 .4l1 -1.5l1 .8l1 -.7l1 -.1l1 .2l1 -1l1 2.6l1 .6l1 -1l1 -1.4l1 2.5l1 -3.2l1 2.8l1 -.2l1 .1l1 -4.6l1 1.4l1 -2.6l1 .3l1 -2l1 -3.7l1 3.8l1 2.5l1 -.2l1 2.1l1 .7l1 1.5l1 -1.2l1 2.9l1 .9l1 -3.9l1 1.6l1 -1.1l1 2.6l1 -1.7l1 .8l1 -1.3l1 1.7l1 -.4l1 -.5l1 .3l1 -2.6l1 3l1 -2.4l1 .6l1 .8l1 1l1 .2l1 -.8l1 0l1 .6l1 -2l1 1.2l1 -.9l1 -1.4l1 .7l1 3l1 -2.2l1 -1.4l1 2.2l1 -.8l1 .2l1 .1l1 .8l1 0l1 -.5l1 .5l1 -.4l1 .6l1 .5l1 -3.8l1 5.4l1 -3.8l1 .7l1 .4l1 2l1 -.4l1 -.8l1 -1.5l1 1.6l1 -.6l1 -.3l1 1.9l1 .4l1 -1.5l1 -4.5l1 4.4l1 -1.6l1 -.7l1 -.4l1 1.9l1 0l1 -.7l1 .3l1 1.8l1 -2.5l1 1.8l1 1.6l1 -.2l1 -4l1 2.1l1 .3l1 .6"/>
<path clip-path="url(#cC)" stroke="#0000ff" d="M210.0 2006.4l1 -1.5l1 -3.6l1 -5.3l1 -2.4l1 -2.8l1 -1.2l1 -2.8l1 .4l1 -3l1 5.2l1 -1.1l1 1.9l1 -.5l1 -.3l1 1.1l1 .5l1 -1.4l1 4l1 1.8l1 1.2l1 .7l1 3.3l1 -.6l1 -1l1 1.9l1 .9l1 -.7l1 -.3l1 1.2l1 -1.3l1 -4.9l1 -4.6l1 -2.4l1 -3l1 -5l1 -2.7l1 -2.6l1 -4.4l1 -3.5l1 -1.2l1 -2.6l1 -1.1l1 -4.7l1 -.1l1 -.3l1 -.2l1 4l1 2.3l1 .1l1 3.9l1 0l1 .4l1 .1l1 .7l1 -6.7l1 -4.2l1 -7l1 -7.9l1 -2l1 -5.3l1 -2.8l1 -4.6l1 -.9l1 1.2l1 1.7l1 6.8l1 4l1 6.8l1 1.4l1 6.8l1 3.1l1 .9l1 .9l1 -.2l1 -.9l1 -6.5l1 .8l1 .6l1 -9.9l1 -8.5l1 -5.3l1 -11.1l1 -3.9l1 -3.7l1 -8.3l1 -2.5l1 -4.7l1 0l1 1.2l1 .9l1 -4.5l1 2.2l1 2.6l1 2.2l1 .6l1 2.9l1 6.8l1 5l1 5.7l1 6.2l1 8.4l1 6.3l1 4.4l1 3l1 1.2l1 3.3l1 4.1l1 -.3l1 -.5l1 4.4l1 -.4l1 2.6l1 -2.1l1 0l1 -.3l1 5.1l1 3.6l1 -2.4l1 2.2l1 3.2l1 -.8l1 1l1 -.1l1 -.8l1 2.7l1 -1.4l1 1.2l1 -1.7l1 .9l1 -3.2l1 .9l1 2.9l1 -1.8l1 1.5l1 -.3l1 .8l1 -1l1 0l1 -1.8l1 -1l1 -.2l1 .3l1 -.7l1 1.1l1 1.1l1 1.1l1 .1l1 -1.2l1 3.3l1 1.2l1 2l1 .1l1 -.9l1 .4l1 3.9l1 -1.3l1 1.8l1 .8l1 -1l1 0l1 1.7l1 3.3l1 3.2l1 1.1l1 -.1l1 -2.2l1 1.8l1 -.8l1 1.2l1 -.8l1 1.4l1 .9l1 2.8l1 4.7l1 6.3l1 -3.1l1 1.2l1 -2.6l1 -1.9l1 -3.8l1 -2.5l1 -4.9l1 1.5l1 -1.8l1 1.6l1 3l1 2l1 3.5l1 .4l1 -.3l1 .2l1 6.3l1 -5.8l1 -2.1l1 .9l1 -2.8l1 3.4l1 -6.4l1 -1.7l1 -5.9l1 -9.3l1 -4.4l1 -5.4l1 -8.2l1 -7.8l1 -4.4l1 -6.7l1 1.8l1 -2.2l1 -.3l1 -3.1l1 4.4l1 -4.9l1 -.8l1 2.1l1 2.1l1 -.5l1 -1.2l1 2.5l1 1.2l1 8.6l1 4.6l1 3.2l1 10l1 5.4l1 5.9l1 1.6l1 1.7l1 2.2l1 3.4l1 2.1l1 -1.4l1 2.3l1 -.8l1 -3l1 6.1l1 2.2l1 1.1l1 3.3l1 2.6l1 .1l1 2.4l1 .2l1 -.2l1 -.9l1 .6l1 -.4l1 -4.4l1 -.2l1 -1.5l1 -2.3l1 -2.6l1 -5.5l1 -1.9l1 -.8l1 -2.5l1 -1.4l1 2.4l1 1.8l1 -.2l1 -.7l1 1.2l1 -11.7l1 -9.6l1 -12.9l1 -13.8l1 -11l1 -14.4l1 -12l1 -6.9l1 -10.1l1 -9.5l1 -4l1 -1.6l1 1.4l1 3.9l1 6.8l1 8.6l1 6.9l1 11.1l1 9.7l1 11l1 8.5l1 2.5l1 4.4l1 3.8l1 3.6l1 .9l1 1.3l1 -6.4l1 -10.6l1 -15.5l1 -12l1 -13.3l1 -8.4l1 -13.8l1 -9.6l1 -1.1l1 4.2l1 10.5l1 10.8l1 17.2l1 29.4l1 12.9l1 4.9l1 .1l1 1.2l1 -2l1 1.6l1 3.3l1 .8l1 3.8l1 -1.5l1 2.7l1 4.8l1 -3.8l1 .2l1 .6l1 -2.1l1 -1.9l1 -4.3l1 -7.4l1 -5l1 1.8l1 -.7l1 -3.4l1 5.9l1 1.7l1 4.5l1 1.2l1 4.1l1 -.9l1 -1.7l1 -4.3l1 -4.4l1 -3.6l1 -2.5l1 -8.6l1 -2.2l1 .2l1 -1.1l1 .9l1 .8l1 2.5l1 2.2l1 -.4l1 8.7l1 3.7l1 -1l1 7.2l1 -1.3l1 -2.2l1 -7.2l1 -1.7l1 -4.3l1 -5.1l1 -14.1l1 -20.2l1 -21.7l1 -12l1 4.7l1 6.4l1 11.3l1 9l1 12.8l1 12.5l1 15.5l1 6.4l1 6.4l1 4.9l1 3.4l1 3.7l1 1.6l1 1.9l1 -1.6l1 -5l1 -5.2l1 -2.7l1 -7.5l1 -4.5l1 -.4l1 -2.4l1 -1.3l1 .3l1 -.6l1 -.2l1 -3.1l1 .3l1 .1l1 1.7l1 -5.6l1 3.3l1 -1.5l1 1l1 -5.2l1 4.5l1 1.1l1 -2.1l1 -.6l1 -1.8l1 -4.4l1 -2.1l1 -5.1l1 -5.4l1 -6l1 -7.7l1 -4.2l1 -2.2l1 4l1 10.7l1 8.2l1 7.3l1 5.1l1 5l1 5.1l1 4.9l1 1.9l1 4.3l1 -.2l1 3.3l1 -.5l1 3.2l1 1.1l1 -.8l1 3l1 1.2l1 -.2l1 5.6l1 4.6l1 -2l1 6.6l1 -1.7l1 1.3l1 1.4l1 -.7l1 4.3l1 -.3l1 -.9l1 1.2l1 -1.1l1 1.9l1 2.1l1 -3.1l1 1.9l1 1.1l1 1.4l1 .7l1 -2.2l1 -.1l1 1.6l1 -.9l1 1.7l1 0l1 .1l1 -3.1l1 -2.1l1 -.7l1 -5l1 .5l1 -3l1 2.9l1 -3.4l1 -2.2l1 -3.4l1 -2.9l1 2.8l1 -.1l1 -4.1l1 1l1 -.4l1 -2.9l1 4.8l1 3.1l1 1.5l1 2.4l1 2.9l1 -2.1l1 2.7l1 1.7l1 -2.5l1 3.7l1 -.5l1 1.7l1 8.2l1 4.8l1 6.7l1 .7l1 3.5l1 -1.9l1 1.8l1 -.9l1 .5l1 1.9l1 -1.5l1 -5.2l1 2.2l1 2.2l1 -1.5l1 -2.5l1 -.4l1 -5.7l1 -2.8l1 -2.1l1 -2.9l1 -1.2l1 -10.4l1 1.4l1 -1.2l1 -.3l1 3.4l1 1.8l1 4.4l1 5.3l1 3.5l1 4.6l1 -.3l1 4.4l1 -2.4l1 1.2l1 -1.3l1 6.7l1 -2.7l1 .1l1 .2l1 -2.3l1 2l1 1.5l1 .3l1 3.2l1 -1.3l1 -1.4l1 -1l1 -3.9l1 -2.2l1 -2l1 -.6l1 -3l1 -2.8l1 -2.7l1 -6.5l1 -2.2l1 -2.1l1 -4.5l1 -.9l1 .7l1 -.3l1 .3l1 -.5l1 .8l1 3.1l1 -.2l1 2.6l1 3.1l1 -.2l1 5.4l1 .7l1 4.1l1 3l1 2.5l1 2.9l1 -1.1l1 2.5l1 2.8l1 .1l1 4.5l1 -2.2l1 1.5l1 2l1 -.1l1 2.4l1 2.5l1 -2l1 2l1 -1.3l1 -2.1l1 .6l1 -1.7l1 1.4l1 -3.6l1 2.2l1 -2.1l1 -4.5l1 2.5l1 0l1 -4.1l1 1l1 -4.9l1 1.5l1 -3.2l1 2.8l1 -1l1 2.3l1 7.3l1 4.4l1 -3.8l1 .6l1 -2.7l1 -2.7l1 -1l1 -1.2l1 -6.9l1 -1.1l1 -4l1 -6.1l1 .1l1 -4.5l1 -9.1l1 -1.7l1 -6.5l1 -3.1l1 1.4l1 .4l1 4.3l1 7l1 5.6l1 5l1 1.2l1 1.8l1 3.3l1 -3.5l1 -.1l1 -3.5l1 -1.2l1 -3.9l1 .7l1 -9.5l1 -7.3l1 -9.3l1 -6.6l1 -9.6l1 -.6l1 2.6l1 7.9l1 8.1l1 5.8l1 4.5l1 1.7l1 3.3l1 1l1 .5l1 1.3l1 .3l1 1.9l1 -4.5l1 -.2l1 0l1 -6.3l1 1.2l1 -7.6l1 -6.2l1 -5l1 -10.4l1 -5.4l1 -8.5l1 -9.4l1 -5.9l1 -1.1l1 -5.5l1 -6.4l1 -1.1l1 -7.1l1 -2.2l1 3.2l1 -.5l1 4.2l1 7.9l1 2l1 7l1 1.8l1 5.6l1 -.8l1 -2.9l1 -4.2l1 0l1 -9.2l1 -.4l1 -1.6l1 .2l1 -3.6l1 2.9l1 -3.6l1 -1.9l1 2.5l1 -.5l1 -3.3l1 -1.9l1 .1l1 -2.1l1 -.7l1 1.2l1 -2.6l1 -1.3l1 -.5l1 -1.1l1 .9l1 .2l1 -1.2l1 1.4l1 3.9l1 -1.6l1 .2l1 3.6l1 -2.2l1 -1.9l1 -2.6l1 -9.7l1 -6.7l1 -4.1l1 -6l1 -5.7l1 -3.2l1 -1.2l1 3.8l1 .9l1 4.7l1 8.2l1 1.5l1 8.7l1 6.8l1 5l1 4.5l1 6.9l1 3.4l1 3l1 1.2l1 3.6l1 2.1l1 -1.3l1 5l1 .3l1 1.1l1 2.7l1 5.5l1 1.5l1 -.9l1 4.9l1 1.8l1 1.5l1 .4l1 -.6l1 3.5l1 -2l1 1.1l1 .1l1 .3l1 2.6l1 -1.7l1 3.1l1 2l1 3.1l1 4.3l1 1l1 1.6l1 -.1l1 0l1 .5l1 -2.9l1 4.1l1 -3.5l1 -.3l1 1.8l1 -2.2l1 -1.1l1 -1.7l1 -2.3l1 1.1l1 -1.5l1 -7.7l1 -5.5l1 -2.4l1 -1.1l1 .1l1 -2l1 -.2l1 -2.8l1 -1.1l1 -1.5l1 .7l1 .4l1 .1l1 3.2l1 -.2l1 -.3l1 7.4l1 -2.3l1 3.3l1 8.3l1 5.5l1 2.4l1 4.1l1 4.5l1 6.6l1 1.9l1 2.8l1 4.2l1 4.4l1 -1.1l1 3.1l1 .3l1 6l1 .9l1 0l1 -2.3l1 4l1 -2.6l1 4l1 -1.2l1 1l1 1.9l1 1.4l1 2l1 .9l1 -.2l1 -1.4l1 2.1l1 -1.1l1 1.6l1 -2.8l1 -2.6l1 2.9l1 3.3l1 -2.4l1 -1l1 1.2l1 -.6l1 -.2l1 -1.4l1 .7l1 0l1 -1.2l1 -.6l1 1.6l1 1.1l1 -.3l1 .1l1 .3l1 3l1 -2.7l1 1.2l1 1.4l1 -2.3l1 .2l1 .7l1 .3l1 -2.5l1 -.8l1 -1.3l1 -2.7l1 2l1 -2.7l1 -2.8l1 1.2l1 -2.7l1 .6l1 1.1l1 -1.4l1 2.4l1 -3.4l1 2.2l1 .3l1 1.1l1 -.8l1 -1l1 -.3l1 -.3l1 1.5l1 -2.5l1 1.3l1 -1l1 0l1 -1.5l1 2l1 -4.9l1 -.1l1 -1.3l1 -.9l1 -1.3l1 -1.2l1 -.5l1 -4.5l1 .7l1 -1l1 -.6l1 -2.5l1 .1l1 1l1 1.8l1 -1.2l1 -.5l1 1.3l1 -3.1l1 -1.6l1 2.2l1 .1l1 1.9l1 1.2l1 -4.5l1 5.1l1 -.8l1 -4.4l1 3.6l1 3.1l1 -2.6l1 -.4l1 1.1l1 -1.9l1 1.2l1 -5l1 -5.2l1 -5.8l1 -8.1l1 -4.7l1 -10.2l1 -1.9l1 -3.1l1 5.7l1 3.5l1 7.1l1 5.2l1 3.1l1 6.4l1 6.7l1 5.1l1 .4l1 1.4l1 3.6l1 2.5l1 .9l1 1l1 3.2l1 1.2l1 .5l1 -1.4l1 2.1l1 .3l1 -1l1 1.1l1 2.1l1 -.2l1 3.1l1 -.2l1 .8l1 1.3l1 .2l1 -1.6l1 5l1 0l1 -1.2l1 2.2l1 1.6l1 2.5l1 .8l1 .5l1 -.5l1 2.1l1 .2l1 -.2l1 2.6l1 -.5l1 -1l1 3.3l1 -1.4l1 1.6l1 -2.2l1 2.4l1 1.7l1 -2.1l1 -4.2l1 8.9l1 .7l1 -2.7l1 1.2l1 -1.4l1 .9l1 -2.3l1 2.1l1 -.7l1 1.3l1 -.4l1 -2l1 -.5l1 1.2l1 2.3l1 1.6l1 -1.9l1 -3l1 -.8l1 -.6l1 3.9l1 -.1l1 1.4l1 -.3l1 -.7l1 -1.2l1 4.4l1 .7l1 .6l1 3.9l1 -2.6l1 1l1 -1.1l1 1l1 1.2l1 0l1 -.9l1 .7l1 -.4l1 -2.5l1 -1.9l1 7.3l1 -1.9l1 -1.2l1 -2.2l1 .6l1 3.5l1 -5.4l1 3.2l1 1.5l1 -.9l1 .8l1 -1.2l1 3.3l1 -4.4l1 -.5l1 2.2l1 1.5l1 -2l1 -1.5l1 .9l1 -.8l1 3.3l1 .2l1 0l1 -2.6l1 -.9l1 0l1 1.2l1 1.1l1 -.1l1 -2.6l1 2.2l1 -.3l1 .1l1 -.1l1 -.3l1 1.1l1 -.6l1 .1l1 -1.2l1 1.4l1 -.6l1 -2.6l1 3.4l1 -1l1 1.6l1 -1.4l1 .1l1 .4l1 -.3l1 -.5l1 -1.8l1 4.8l1 -4.5l1 1.7l1 1.3l1 -.4l1 .3l1 .3l1 .6l1 -1.2l1 3.4l1 -5.1l1 1.7l1 -.8l1 -.2l1 1.1l1 1.6l1 -2.8l1 0l1 1.9l1 -.2l1 1.8l1 -1.2l1 -1l1 -.7l1 .7l1 -.4l1 -1.6l1 1.8l1 -.2l1 2.7l1 -2.9l1 2.7l1 -1.2l1 .3l1 1.6l1 -4.1l1 1l1 .7l1 -.8l1 .3l1 1.5l1 -.8l1 -1.7l1 .8l1 -.3l1 1.1l1 -1.7l1 1.3l1 1.2l1 -.8l1 -1.2l1 .4l1 1l1 .5l1 3.1l1 -3.8l1 -1.5l1 7.2l1 -5l1 .2l1 -.1l1 -1.7l1 1l1 .8l1 1l1 -1.2l1 -4.1l1 3.8l1 .9l1 1.2l1 -.7l1 2.4l1 -1.4l1 0l1 -.5l1 -3l1 3l1 -.3l1 -1.4l1 1.5l1 -.2l1 -1.1l1 .5l1 -.1l1 .6l1 -.8l1 1.3l1 -3.1l1 2.1l1 -1.8l1 1.6l1 1.4l1 -.6l1 -.2l1 .3l1 2l1 -3.5l1 2.6l1 -3.1l1 1.4l1 .8l1 -1.3l1 1.4l1 .7l1 -2.5l1 1.5l1 -.4l1 -2l1 -1.6l1 3.1l1 2.7l1 -2.9l1 3.3l1 -5.8l1 6.1l1 -1.9l1 -.1l1 .3l1 .1l1 .6l1 .3l1 -2.7l1 -1.3l1 -1.9l1 2.8l1 1.4l1 -.6l1 3.1l1 -4.2l1 -.5l1 .3l1 .8l1 -2.9l1 3.1l1 -3l1 1.6l1 -.7l1 .2l1 -1l1 -.3l1 1.1l1 -1.2l1 4.4l1 -3.8l1 -.5l1 .1l1 -.8l1 -1.9l1 2.7l1 .6l1 -2.4l1 1.8l1 -1.7l1 1.5l1 .4l1 .1l1 -.2l1 -1.5l1 1.9l1 -1.8l1 1l1 .4l1 -1.3l1 -1.4l1 2.5l1 -2.3l1 .3l1 -.3l1 2.5l1 -1.3l1 -2.7l1 3.9l1 1.7l1 -.3l1 -3.1l1 .8l1 .6l1 .5l1 -1.1l1 -1.4l1 2.4l1 -.1l1 -6.3l1 5l1 .9l1 -.3l1 .7l1 .4l1 -.3l1 -.8l1 -1.6l1 2.6l1 1l1 .8l1 -2.5l1 0l1 2l1 0l1 -1.4l1 .5l1 -1.8l1 1.8l1 -1.8l1 .9l1 .1l1 -.4l1 -2.1l1 -.4l1 3.7l1 -.5l1 -.4l1 1.1l1 .4l1 .2l1 -2.1l1 1.1l1 -.4l1 -.6l1 1.8l1 -.8l1 -.9l1 3.9l1 .9l1 -3.9l1 -.2l1 3l1 -3.6l1 1l1 -.8l1 .9l1 .1l1 1.5l1 -3.2l1 1.8l1 2.2l1 -2.8l1 .5l1 -.9l1 -2.2l1 3.3l1 1.6l1 -2.1l1 -1.7l1 2.7l1 -.2l1 1.2l1 -.1l1 -1.5l1 .9l1 -2.8l1 3.8l1 -1.2l1 1.2l1 0l1 -5.1l1 3.6l1 -1l1 -1.5l1 2.5l1 .4l1 -1.6l1 2.4l1 -.8l1 .5l1 -1.6l1 -1.3l1 7l1 -3.8l1 -1l1 -.3l1 .2l1 .2l1 -.5l1 -2l1 3.7l1 -3l1 1.6l1 0l1 .8l1 -2.5l1 3.7l1 -.7l1 -2.9l1 3.7l1 -2.7l1 -3l1 4.5l1 1.3l1 -.2l1 -2.2l1 .6l1 .5l1 -2.8l1 1.5l1 2.5l1 -3l1 .5l1 2.9l1 -2l1 -2.2l1 5.1l1 -4.2l1 2.1l1 1.4l1 -2.9l1 -.9l1 3l1 -1.3l1 -1.7l1 .2l1 .9l1 1.8l1 -1.7l1 1.3l1 1.2l1 -.4l1 .2l1 -.3l1 -3.7l1 3.7l1 -1.2l1 -.6l1 -1.2l1 -.7l1 .7l1 1.4l1 -1.5l1 -1.9l1 2.6l1 1.7l1 -1.3l1 .2l1 1.9l1 -2.1l1 1.2l1 -2.3l1 1.1l1 -1.3l1 -1.3l1 -2l1 -1.8l1 .4l1 -.2l1 2.6l1 .9l1 -1.5l1 3.6l1 -.4l1 1.9l1 -1.1l1 -1.2l1 3.3l1 -.7l1 -2.1l1 -.8l1 1.8l1 -.8l1 1.2l1 1.3l1 1.1l1 -2.3l1 2.3l1 -.2l1 -2l1 -1.6l1 3.3l1 -.2l1 2.3l1 -1.2l1 -.8l1 1.2l1 -3.5l1 1.7l1 -.6l1 2.7l1 -1.5l1 -4.7l1 5.8l1 -2.9l1 2.2l1 -1.6l1 .9l1 -2.4l1 2.4l1 -1.4l1 3.1l1 -1.3l1 -.5l1 .9l1 -1.6l1 3.2l1 -2.1l1 .2l1 0l1 .4l1 -2.4l1 1.8l1 .2l1 1.3l1 -1.1l1 -2l1 2.1l1 .4l1 .2l1 -.8l1 -2l1 3.1l1 -2.5l1 1.7l1 -2.8l1 3.1l1 -2l1 2.4l1 .9l1 -.8l1 -3l1 .3l1 2.6l1 -.5l1 -.4l1 -.3l1 .2l1 .4l1 .1"/>
<path clip-path="url(#cC)" stroke="#ff00ff" d="M210.0 2094.6l1 -3.4l1 -6.7l1 -5.3l1 -2.7l1 -11l1 -3.5l1 -5.9l1 -1.1l1 1.3l1 -5.6l1 1.2l1 -2.8l1 8.7l1 2.5l1 10l1 1.1l1 3.3l1 1.1l1 4.6l1 3l1 .4l1 1.8l1 2.4l1 -.3l1 0l1 .4l1 -1.7l1 2.4l1 -6.4l1 3.9l1 -4.8l1 -1.7l1 -6.5l1 -6.5l1 -1.5l1 0l1 -2l1 1.2l1 3.6l1 -3.4l1 -2.6l1 .9l1 -7.1l1 -4.3l1 -6.1l1 -7.9l1 -9.8l1 -2.9l1 -3.5l1 -5.9l1 -1.1l1 -1.5l1 -6.4l1 -.1l1 -5.6l1 -9l1 -7.3l1 -6.2l1 -3.6l1 -10.7l1 -6l1 .2l1 -9.8l1 -2.4l1 2.4l1 4.9l1 3.2l1 -1l1 3l1 9.6l1 6.6l1 3.9l1 1.6l1 .8l1 -2.8l1 -.3l1 -12.1l1 -15.9l1 -16l1 -19.6l1 -27.2l1 -28.3l1 -23.1l1 -21.9l1 -22.6l1 -10.8l1 -9.2l1 -8.5l1 -8.5l1 11.8l1 3.1l1 11.9l1 12.6l1 18.5l1 9.3l1 18l1 15.2l1 13.7l1 14.7l1 8.5l1 15.1l1 12.5l1 8.3l1 10.2l1 8.3l1 6.7l1 7.2l1 2.3l1 3.9l1 6.5l1 9.1l1 2l1 10.1l1 3.8l1 13.9l1 4.4l1 5.5l1 .7l1 1.2l1 6.9l1 -1.1l1 -.6l1 -1.3l1 .2l1 6l1 2.7l1 -7.1l1 2.5l1 -2.2l1 -4.4l1 .8l1 4.8l1 -4l1 .5l1 1.6l1 8l1 4.2l1 2.3l1 .6l1 3.4l1 1.8l1 -.8l1 4.3l1 -4.7l1 3l1 3.4l1 1.5l1 -1.3l1 4.3l1 2.5l1 -.4l1 .4l1 2.3l1 .2l1 -2.1l1 3.4l1 4.6l1 -4.2l1 3.4l1 -.6l1 -1.2l1 -.8l1 1.7l1 -3.2l1 2.1l1 -4.4l1 2.4l1 1.9l1 2.5l1 1l1 4.3l1 .4l1 1.2l1 -1.9l1 3.9l1 .5l1 -1.5l1 3.5l1 7.8l1 -3.8l1 -2l1 4l1 5l1 -3.2l1 1.3l1 -1.3l1 .5l1 3.1l1 -1l1 -1.9l1 1.9l1 0l1 -3.6l1 3.2l1 -4.4l1 -3.5l1 .1l1 -10.6l1 -6.7l1 -5.4l1 -1.6l1 4l1 -7.7l1 1.6l1 -3.6l1 -.2l1 -2.4l1 -5.6l1 -1.8l1 -2l1 -3.1l1 -4.3l1 -5.4l1 -2.2l1 -1.2l1 -2l1 -2.4l1 3.4l1 .4l1 2.3l1 4.6l1 -2.4l1 3.7l1 1.9l1 5.3l1 3l1 7.8l1 -.1l1 .8l1 8.1l1 -4.6l1 7.2l1 2.5l1 1.2l1 3.4l1 .9l1 -1l1 7.7l1 -8.8l1 5.6l1 3.3l1 .4l1 -.1l1 6.1l1 1.1l1 4.9l1 1.6l1 -4.1l1 -6.7l1 1.2l1 -2l1 -.6l1 1.1l1 -3.9l1 3l1 -1.7l1 -2.4l1 -4l1 1.7l1 -4.3l1 4.4l1 0l1 -3.2l1 -5.5l1 -8.5l1 2.2l1 -2.5l1 1.6l1 -11.1l1 .7l1 -3.6l1 -5.5l1 -4.1l1 -3.9l1 1.4l1 -15.1l1 -9.4l1 -6.7l1 -5.5l1 -1.2l1 -1.6l1 1.7l1 2.1l1 4.9l1 3l1 2.4l1 12.2l1 -.7l1 8.6l1 3.3l1 7.8l1 11.8l1 9l1 8.7l1 5.4l1 4.5l1 2.1l1 3.5l1 4l1 -1.9l1 -2.4l1 4.9l1 6l1 -2.2l1 1.9l1 -2.2l1 -1.1l1 5.9l1 -3.9l1 2.4l1 -2.4l1 -2l1 -.5l1 .9l1 -3.9l1 -1.7l1 7.4l1 -3.8l1 2.1l1 -1.5l1 -.4l1 .8l1 -.9l1 -.4l1 1.1l1 -7.3l1 7l1 -3.8l1 2.9l1 .2l1 -5.1l1 2.8l1 -1l1 -4.3l1 -.8l1 .2l1 -6.4l1 2.6l1 -.1l1 -3.1l1 -4.6l1 .5l1 2l1 -2.7l1 -5.3l1 -3.4l1 -.5l1 -2.3l1 -3.9l1 -1.6l1 0l1 -1.2l1 -8.8l1 6.6l1 -2.1l1 2.9l1 -1.3l1 2.9l1 4.9l1 -7.8l1 13l1 1.1l1 .1l1 1.9l1 7.3l1 2.7l1 7.1l1 0l1 -.5l1 2.1l1 -2.4l1 2.4l1 -2.9l1 -2.3l1 -.1l1 -1.1l1 -5.8l1 1.5l1 -.7l1 -1.5l1 -3.7l1 1.3l1 .9l1 -1.3l1 1.8l1 -5.7l1 -.7l1 -1.3l1 -.4l1 -1.6l1 -3.8l1 3.7l1 2.1l1 -3.1l1 -10.3l1 3.4l1 1.3l1 -8.2l1 -3.2l1 -5.3l1 -2.6l1 -6l1 -3.3l1 -9.9l1 -5.1l1 -7.1l1 .1l1 -1.9l1 -.2l1 -3l1 4.8l1 -5.8l1 2l1 -4.6l1 2l1 1.1l1 -7.1l1 1.4l1 -1.5l1 2.3l1 4.9l1 4.1l1 8.1l1 5.7l1 4.4l1 3.6l1 9.2l1 .3l1 6.8l1 1l1 1.3l1 6.9l1 -4.6l1 7.8l1 4.1l1 -2.3l1 2.4l1 1.1l1 12.3l1 -2.8l1 1l1 7.4l1 1l1 3.2l1 -.1l1 -2.1l1 2.2l1 -2.9l1 -3.9l1 -1.3l1 -2l1 1.1l1 -3.2l1 -3.3l1 -5l1 -3.7l1 2.1l1 -1.8l1 .1l1 1.5l1 .6l1 1.9l1 -1.6l1 1.4l1 4.3l1 -3.1l1 3.6l1 2.7l1 -.6l1 3.8l1 -5.9l1 2.5l1 0l1 2.3l1 -.1l1 -.5l1 4.6l1 -2.4l1 -1.1l1 .3l1 2.5l1 .1l1 6.1l1 -1.1l1 -.9l1 .1l1 -.4l1 2l1 3.7l1 -.7l1 -1.8l1 .7l1 -1l1 2.6l1 -2l1 3.6l1 -3.3l1 -.7l1 .7l1 -4.6l1 .4l1 -7.1l1 -4.8l1 -5.2l1 -9l1 -6.7l1 -7.9l1 -.3l1 -3.4l1 2.5l1 .9l1 .5l1 6.6l1 11.6l1 2.6l1 9.3l1 2.5l1 1.7l1 -1.9l1 10.7l1 .5l1 -4.2l1 4.4l1 -.8l1 -3.1l1 3.3l1 -3.7l1 1.4l1 3.3l1 -2.3l1 -.8l1 3.3l1 -6.2l1 .9l1 -1.9l1 -1.4l1 -3.6l1 -3.8l1 8.9l1 -14.4l1 .7l1 -5.8l1 2.9l1 -.1l1 -2.7l1 0l1 -10.3l1 .5l1 -8.8l1 -1.6l1 -7.6l1 -3.1l1 -5.2l1 1.2l1 4.6l1 -2.4l1 4.2l1 -2.2l1 12.5l1 1.9l1 3.1l1 4.1l1 1.7l1 3l1 8.3l1 3l1 1.8l1 5.6l1 2.4l1 6.9l1 1.4l1 1.9l1 5.6l1 1.2l1 5.8l1 -4l1 -1.7l1 2.9l1 -.4l1 1.2l1 -.4l1 -5.1l1 3.2l1 -1.1l1 -1.5l1 -1.8l1 3.4l1 -7.8l1 .4l1 -3l1 4.3l1 .9l1 -4.4l1 3.4l1 .5l1 -.6l1 -2.2l1 -1.3l1 -1.6l1 4.4l1 1.3l1 -4.7l1 -.8l1 3.4l1 -.5l1 -3.6l1 1.5l1 .8l1 -6l1 1.7l1 -.7l1 -3.7l1 2.2l1 2.7l1 -8.4l1 4.3l1 3.8l1 -5.9l1 .5l1 -1.3l1 3.7l1 -1.3l1 -1.5l1 -3.7l1 5.3l1 .3l1 -4.3l1 1.8l1 2.9l1 -2.4l1 -2.2l1 -3.6l1 5.3l1 2.5l1 -6.4l1 .9l1 -1.1l1 -2.1l1 -.7l1 1.6l1 -6.3l1 6.1l1 -.8l1 -6.6l1 2l1 -6.9l1 .3l1 1.9l1 -6.1l1 -1.5l1 2.2l1 -6.8l1 3.6l1 -3.9l1 -5.7l1 -3.5l1 -7l1 -2.2l1 2.3l1 -1.2l1 -3l1 -1.5l1 -1.9l1 3.7l1 -6.5l1 1.4l1 .7l1 -2.2l1 .5l1 .6l1 4.5l1 1.8l1 -3.2l1 -4.4l1 2.3l1 1l1 -.4l1 -.7l1 1.4l1 -6.2l1 2l1 .8l1 0l1 -2l1 -1.6l1 1.5l1 -5.5l1 .1l1 -2.4l1 -2.9l1 2.5l1 -1.7l1 -4.9l1 1l1 .4l1 -2.4l1 -.3l1 1.1l1 -4.4l1 1.1l1 4.9l1 .1l1 3.1l1 -5.5l1 6.7l1 4.4l1 -3.2l1 2.4l1 -1.1l1 2.5l1 .8l1 -2.6l1 -.9l1 -5.6l1 3.2l1 -9.5l1 -2.8l1 -3.4l1 -.4l1 0l1 -4.2l1 -1.1l1 2.6l1 -5.5l1 -6.1l1 -6.9l1 -3.6l1 -3.8l1 .7l1 -3.4l1 -1.1l1 1.6l1 -3.3l1 3.5l1 7.1l1 -4l1 1.2l1 9.5l1 1.8l1 8.5l1 5.4l1 5.8l1 -1.9l1 -.4l1 2l1 5.1l1 -2.6l1 -.9l1 2.9l1 1.1l1 1.1l1 1.6l1 6.2l1 -4.3l1 -.2l1 -.4l1 5.2l1 -4.1l1 8.1l1 -1.3l1 -.9l1 6.5l1 2.2l1 5.7l1 -3.3l1 6.1l1 1.5l1 4l1 -2.7l1 2.5l1 7.7l1 -1.5l1 -2.8l1 5.5l1 -.9l1 1.6l1 .3l1 6.3l1 -1.9l1 3.1l1 1.3l1 -1.7l1 3.6l1 5.2l1 -3.2l1 5.8l1 .9l1 3.1l1 1.4l1 1.5l1 -.5l1 1.5l1 -1.2l1 1.2l1 3.9l1 -2.7l1 4.1l1 3.6l1 -6.4l1 3.5l1 -2.6l1 3l1 -2l1 2.9l1 -.1l1 -2.3l1 7l1 -2.2l1 -5.5l1 4.3l1 -1.7l1 5.2l1 -5l1 .5l1 -1.8l1 1.1l1 -3.2l1 -1.4l1 .3l1 -3.9l1 5.4l1 -1.4l1 -1.3l1 .1l1 -1.1l1 2.3l1 -4.7l1 3.9l1 3.1l1 -3.4l1 -.6l1 1.5l1 -2.1l1 .4l1 3.1l1 -2.9l1 5.7l1 -3.1l1 -1.4l1 -1.1l1 .8l1 -4.4l1 5.5l1 1.5l1 -.5l1 -2.1l1 2.5l1 .2l1 -1.5l1 -.9l1 3.8l1 -1.1l1 -1.7l1 1l1 3.5l1 -7l1 3.8l1 -.8l1 -4.7l1 .6l1 4.2l1 -1.1l1 2.3l1 -4.3l1 3.7l1 -2.6l1 -3.4l1 1.5l1 2.1l1 1.1l1 -4.9l1 -2.9l1 -1.6l1 5.5l1 -2.7l1 -2.8l1 -1.4l1 1.2l1 -1.6l1 -1.1l1 -5.1l1 1.9l1 4.2l1 -4.8l1 5l1 -4.7l1 -1.5l1 1.2l1 .8l1 -2.9l1 2.2l1 -1.3l1 4.2l1 -4.1l1 1.4l1 -3.4l1 .4l1 3l1 -1.7l1 -.1l1 2.9l1 .9l1 -4.2l1 2.9l1 2l1 -2.8l1 -1.2l1 1.5l1 5.3l1 -3.3l1 3.5l1 -3.8l1 3.5l1 -5.6l1 2.8l1 1l1 3.9l1 -2.6l1 3.7l1 -5.3l1 .2l1 4l1 3.3l1 -3.1l1 .2l1 -3.7l1 6.1l1 -4.3l1 2.6l1 -1l1 -5.4l1 -.2l1 .9l1 3.6l1 2.8l1 -.4l1 .6l1 -4l1 2l1 -1.4l1 4.5l1 -1.7l1 3.3l1 2.6l1 -1.3l1 .1l1 1.9l1 -.7l1 1.6l1 5.3l1 .3l1 -2.6l1 3.9l1 3l1 2l1 3l1 -.3l1 -1.3l1 .7l1 .1l1 3.5l1 0l1 2.6l1 -1l1 -3.8l1 -1.1l1 .6l1 1.5l1 3.7l1 -4.2l1 -1.1l1 4.3l1 2.4l1 .1l1 2.1l1 -3.6l1 -1.1l1 .7l1 -2.2l1 1.6l1 4.4l1 1.9l1 -1.7l1 -2.1l1 -1.1l1 1.2l1 -4.6l1 5.5l1 .5l1 -2l1 .4l1 -1.3l1 3.1l1 .1l1 -7.8l1 4.8l1 2.1l1 3l1 -3.9l1 .1l1 3.4l1 -2.2l1 -1.5l1 -.6l1 1.1l1 -1.9l1 5.7l1 -5.9l1 3.2l1 3.5l1 -2.2l1 -2.4l1 -.3l1 .7l1 -.6l1 2.2l1 -2.7l1 4.4l1 1.9l1 -7.7l1 2.2l1 -3.5l1 4.1l1 -.8l1 -1.5l1 -2l1 2.3l1 2.5l1 .8l1 -5.6l1 .5l1 1.2l1 -1.8l1 -1.4l1 .8l1 3.4l1 -.8l1 -.4l1 -2.9l1 -.8l1 5.3l1 -3.2l1 3.4l1 -4.4l1 3.7l1 -1.7l1 -1.5l1 -.1l1 5.1l1 -2.2l1 -2.7l1 .9l1 -3.9l1 7.2l1 -.7l1 -4l1 1.8l1 -7.1l1 8.2l1 -1.1l1 -.4l1 1.2l1 -1.2l1 -2.8l1 .6l1 1.1l1 2.4l1 -1.9l1 -1.6l1 2.3l1 -3.5l1 7.3l1 -3.9l1 -2.9l1 2.6l1 2l1 -1.2l1 3.3l1 -7.6l1 6.6l1 -3.6l1 2l1 1.9l1 -6.5l1 -.4l1 2.2l1 -2.8l1 -.8l1 4.7l1 2.4l1 -3.7l1 6l1 3.2l1 -7.4l1 -1.4l1 .4l1 1.3l1 -1.6l1 2.1l1 -1l1 1.6l1 -1.7l1 -.6l1 -1.8l1 -1l1 2.4l1 -.2l1 1.4l1 -3l1 1.6l1 5.8l1 -4.3l1 5.3l1 -8.2l1 4.5l1 .3l1 -1.6l1 -2.9l1 4.7l1 -4.4l1 -1.8l1 -2.2l1 6l1 -1l1 3.1l1 -.1l1 1.8l1 -1.9l1 -.2l1 1.9l1 -3.2l1 .3l1 .6l1 2.6l1 -2l1 2l1 3l1 -7.3l1 3.7l1 .1l1 2.5l1 -3l1 2.1l1 6.8l1 -7.9l1 3l1 .8l1 -1l1 -2l1 4.8l1 -6.4l1 2l1 1.6l1 -1l1 4l1 -3.4l1 4.8l1 -4.4l1 3.4l1 -2.6l1 -1.6l1 -.2l1 5.8l1 -6.7l1 1l1 -1.7l1 -2.9l1 5.6l1 .1l1 -4.2l1 .3l1 1.7l1 -3.8l1 2l1 3.5l1 .7l1 -1.5l1 3.5l1 -3.8l1 -2.6l1 -1.7l1 6.5l1 -4.5l1 .1l1 -1.1l1 -.1l1 .9l1 3.4l1 -1.6l1 -.6l1 1.2l1 -3.3l1 -1.3l1 2.1l1 -4.6l1 6.3l1 -.8l1 -.1l1 -3.7l1 1.2l1 1l1 -2.4l1 -.3l1 1.8l1 .7l1 -1.9l1 3.6l1 2.6l1 -3.8l1 -1.8l1 -.4l1 4.2l1 -3l1 .6l1 -.9l1 -1.9l1 4.5l1 -3.9l1 .8l1 -5.2l1 9.5l1 -3.2l1 -2l1 -1.6l1 .4l1 -2.5l1 4.7l1 -3l1 2.9l1 0l1 3.2l1 -3.8l1 .2l1 .4l1 -2.5l1 4.5l1 -2.5l1 1.9l1 -1l1 -2.2l1 3.3l1 -1l1 -5.1l1 6.8l1 -3.5l1 -1l1 -1.7l1 1.7l1 4.7l1 -3.9l1 5l1 -4.8l1 5.8l1 -5.8l1 -3.1l1 2l1 .3l1 -2.1l1 0l1 3.5l1 1.9l1 -2.4l1 -.3l1 -2.1l1 4.5l1 -.2l1 -6.5l1 4.3l1 -3.1l1 -.4l1 6.9l1 -1l1 -1.9l1 2.4l1 -4.2l1 1.7l1 2.4l1 -3.7l1 1.3l1 -2.8l1 1.4l1 3.3l1 -4.7l1 .4l1 1.5l1 3.3l1 -4.3l1 -.7l1 1.6l1 2.8l1 -5.9l1 3l1 3.2l1 -2.9l1 -.6l1 2.6l1 -4.6l1 7.2l1 -3.4l1 -1.9l1 1.1l1 -.3l1 -.5l1 1.2l1 -1l1 -3.2l1 6.9l1 -5.5l1 1l1 -.1l1 3.4l1 -2l1 3.7l1 -4.1l1 1.4l1 3l1 -3.9l1 3.3l1 .3l1 .3l1 -5.9l1 3.9l1 -3.1l1 0l1 -1.3l1 2l1 3.4l1 1.9l1 .8l1 -5.7l1 .7l1 2l1 -2.9l1 3l1 -4.2l1 3.5l1 1.8l1 -.6l1 -.8l1 -1.2l1 1.4l1 3.9l1 -2.4l1 1.3l1 1.4l1 -6l1 4l1 -.4l1 1.9l1 -3.4l1 .1l1 -.9l1 1.9l1 -.9l1 .3l1 1.1l1 -1.5l1 -1.2l1 -1l1 2l1 2.2l1 1.9l1 -3.5l1 -4.6l1 6.8l1 -1.4l1 -1.9l1 1.6l1 4.7l1 -7.3l1 .8l1 2.5l1 -6.7l1 5.9l1 3.2l1 -.9l1 -.3l1 -1.5l1 .4l1 6.4l1 -5.4l1 2.4l1 -5.6l1 3.3l1 .3l1 -.4l1 -5.1l1 3.9l1 4.1l1 -4.6l1 -.3l1 3.7l1 -6l1 5.4l1 -.5l1 -2.1l1 -1l1 0l1 .3l1 3.2l1 -3l1 -2.1l1 .3l1 -5.4l1 4.2l1 -6.9l1 6.5l1 1.4l1 2.4l1 4.7l1 -.8l1 -2l1 3.5l1 -2.6l1 2.5l1 -1.7l1 1.6l1 -4l1 -2.6l1 5.2l1 -.7l1 .4l1 .7l1 -4.1l1 2.9l1 2.5l1 .5l1 .5l1 -4.4l1 .3l1 2.7l1 .2l1 -6l1 8.4l1 0l1 -7.1l1 5.3l1 -3.5l1 .7l1 -1.9l1 .4l1 .9l1 1.1l1 -2.6l1 2.2l1 -1.4l1 .4l1 -.8l1 .6l1 2.1l1 -4.3l1 .7l1 2.7l1 -.9l1 -2.7l1 4.7l1 -3.5l1 2.6l1 2.1l1 -.9l1 -1.8l1 -2.8l1 3.8l1 .9l1 -3.4l1 4.9l1 -1.2l1 2.5l1 1.3l1 -3.2l1 -8.7l1 5.5l1 5.1l1 -3.3l1 -1.8l1 2.5l1 -1.3l1 3.6l1 -5.4l1 2.7l1 2.2l1 -2.8l1 .5l1 -2.6l1 2.7"/>
</g>
<g fill="none" stroke="#ff2a2a" stroke-width="2">
<ellipse cx="689.8" cy="1782" rx="45.2" ry="347.5"/>
<ellipse cx="897.4" cy="1780.8" rx="45.3" ry="349"/>
</g>
<g fill="#000">
<rect x="204" y="16" width="6" height="2121"/>
<rect x="204" y="16" width="1496" height="5"/>
<rect x="1695" y="16" width="5" height="2121"/>
<rect x="204" y="2132" width="1496" height="5"/>
<rect x="204" y="721" width="1496" height="6"/>
<rect x="204" y="1426" width="1496" height="6"/>
</g>
<g fill="#000">
<rect x="222.2" y="2136" width="5" height="16"/>
<rect x="311.0" y="2136" width="5" height="30"/>
<rect x="399.8" y="2136" width="5" height="16"/>
<rect x="488.5" y="2136" width="5" height="30"/>
<rect x="577.2" y="2136" width="5" height="16"/>
<rect x="666.0" y="2136" width="5" height="30"/>
<rect x="754.8" y="2136" width="5" height="16"/>
<rect x="843.5" y="2136" width="5" height="30"/>
<rect x="932.2" y="2136" width="5" height="16"/>
<rect x="1021.0" y="2136" width="5" height="30"/>
<rect x="1109.8" y="2136" width="5" height="16"/>
<rect x="1198.5" y="2136" width="5" height="30"/>
<rect x="1287.2" y="2136" width="5" height="16"/>
<rect x="1376.0" y="2136" width="5" height="30"/>
<rect x="1464.8" y="2136" width="5" height="16"/>
<rect x="1553.5" y="2136" width="5" height="30"/>
<rect x="1642.2" y="2136" width="5" height="16"/>
</g>
<g font-family="Liberation Sans, Arial, sans-serif" font-size="57.5" text-anchor="middle" fill="#000">
<text x="313.2" y="2226.7">500</text>
<text x="490.7" y="2226.7">750</text>
<text x="668.2" y="2226.7">1000</text>
<text x="845.7" y="2226.7">1250</text>
<text x="1023.2" y="2226.7">1500</text>
<text x="1200.7" y="2226.7">1750</text>
<text x="1378.2" y="2226.7">2000</text>
<text x="1555.7" y="2226.7">2250</text>
</g>
<g font-family="Liberation Sans, Arial, sans-serif" font-size="71" fill="#000">
<text x="219" y="89">A</text>
<text x="218.5" y="795">B</text>
<text x="221.5" y="1502.5">C</text>
</g>
<g font-family="Liberation Sans, Arial, sans-serif" font-size="50" text-anchor="middle" fill="#000">
<text x="1661.4" y="236.8">(a)</text>
<text x="1654.7" y="357.2">(b)</text>
<text x="1658.2" y="492.3">(c)</text>
<text x="1653.0" y="665.2">(d)</text>
<text x="1658.5" y="1096.2">(a)</text>
<text x="1655.6" y="1172.6">(b)</text>
<text x="1650.6" y="1240.9">(c)</text>
<text x="1648.7" y="1346.7">(d)</text>
<text x="1652.4" y="1784.6">(a)</text>
<text x="1652.1" y="1872.3">(b)</text>
<text x="1654.4" y="1980.5">(c)</text>
<text x="1652.3" y="2071.0">(d)</text>
</g>
<g font-family="Liberation Sans, Arial, sans-serif" font-size="70" fill="#000">
<text transform="translate(75 640.0) rotate(-90)" x="-5.6" y="0">Raman Intensity</text>
<text transform="translate(75 1370.0) rotate(-90)" x="-5.6" y="0">Raman Intensity</text>
<text transform="translate(75 2075.0) rotate(-90)" x="-5.6" y="0">Raman Intensity</text>
</g>
<text font-family="Liberation Sans, Arial, sans-serif" font-size="70.8" x="643.5" y="2354" fill="#000">Wavenumber / cm</text>
<text font-family="Liberation Sans, Arial, sans-serif" font-size="43" x="1213" y="2318.4" fill="#000">&#8722;</text>
<clipPath id="c1"><path d="M1230 2270H1270V2310.3H1254.2V2320H1249.9V2310.3H1230Z"/></clipPath>
<text clip-path="url(#c1)" font-family="Liberation Sans, Arial, sans-serif" font-size="43" x="1239" y="2315" fill="#000">1</text>
</svg>
</body></html>
